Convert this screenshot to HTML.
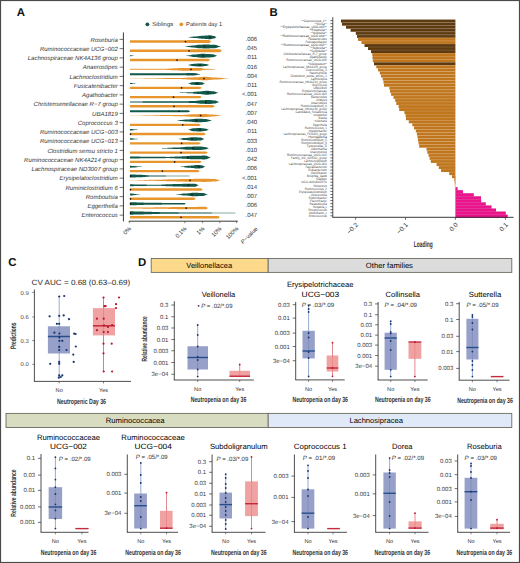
<!DOCTYPE html>
<html><head><meta charset="utf-8"><title>Figure</title>
<style>html,body{margin:0;padding:0;background:#fff;}body{width:520px;height:563px;overflow:hidden;font-family:"Liberation Sans",sans-serif;}svg{display:block;}</style>
</head><body>
<svg width="520" height="563" viewBox="0 0 520 563" font-family="Liberation Sans, sans-serif" text-rendering="geometricPrecision">
<rect x="0.00" y="0.00" width="520.00" height="563.00" fill="#ffffff"/>
<text x="16.80" y="15.90" font-size="11.4" text-anchor="start" font-weight="bold" fill="#111">A</text>
<circle cx="147.40" cy="24.30" r="1.9" fill="#12584a"/>
<text x="152.30" y="26.40" font-size="5.8" text-anchor="start" fill="#333" textLength="20.90" lengthAdjust="spacingAndGlyphs">Siblings</text>
<circle cx="181.30" cy="24.30" r="1.9" fill="#e8962c"/>
<text x="186.10" y="26.40" font-size="5.8" text-anchor="start" fill="#333" textLength="36.00" lengthAdjust="spacingAndGlyphs">Patients day 1</text>
<line x1="123.40" y1="32.50" x2="123.40" y2="221.40" stroke="#222" stroke-width="0.9"/>
<line x1="119.60" y1="39.40" x2="123.40" y2="39.40" stroke="#333" stroke-width="0.7"/>
<text x="117.80" y="41.50" font-size="6" text-anchor="end" font-style="italic" fill="#333">Roseburia</text>
<text x="257.20" y="40.90" font-size="6" text-anchor="end" fill="#333">.006</text>
<path d="M130.0,37.15 L131.0,37.15 L132.0,37.15 L133.0,37.15 L134.0,37.15 L135.0,37.15 L136.0,37.15 L137.0,37.15 L138.0,37.15 L139.1,37.15 L140.1,37.15 L141.1,37.15 L142.1,37.15 L143.1,37.15 L144.1,37.15 L145.1,37.15 L146.1,37.15 L147.1,37.15 L148.1,37.15 L149.1,37.15 L150.1,37.15 L151.1,37.15 L152.1,37.15 L153.1,37.15 L154.1,37.15 L155.1,37.15 L156.2,37.15 L157.2,37.15 L158.2,37.15 L159.2,37.15 L160.2,37.15 L161.2,37.15 L162.2,37.15 L163.2,37.15 L164.2,37.15 L165.2,37.15 L166.2,37.15 L167.2,37.15 L168.2,37.15 L169.2,37.15 L170.2,37.15 L171.2,37.15 L172.2,37.15 L173.2,37.15 L174.3,37.15 L175.3,37.15 L176.3,37.15 L177.3,37.15 L178.3,37.15 L179.3,37.15 L180.3,37.15 L181.3,37.15 L182.3,37.15 L183.3,37.15 L184.3,37.15 L185.3,37.15 L186.3,37.15 L187.3,37.15 L188.3,37.15 L189.3,37.08 L190.3,36.97 L191.4,36.82 L192.4,36.67 L193.4,36.55 L194.4,36.47 L195.4,36.45 L196.4,36.39 L197.4,36.30 L198.4,36.18 L199.4,36.05 L200.4,35.92 L201.4,35.82 L202.4,35.76 L203.4,35.74 L204.4,35.70 L205.4,35.61 L206.4,35.51 L207.4,35.40 L208.5,35.31 L209.5,35.26 L210.5,35.28 L211.5,35.46 L212.5,35.72 L213.5,35.92 L214.5,36.08 L215.5,36.79 L216.5,37.25 L216.5,37.25 L215.5,37.71 L214.5,38.42 L213.5,38.58 L212.5,38.78 L211.5,39.04 L210.5,39.22 L209.5,39.24 L208.5,39.19 L207.4,39.10 L206.4,38.99 L205.4,38.89 L204.4,38.80 L203.4,38.76 L202.4,38.74 L201.4,38.68 L200.4,38.58 L199.4,38.45 L198.4,38.32 L197.4,38.20 L196.4,38.11 L195.4,38.05 L194.4,38.03 L193.4,37.95 L192.4,37.83 L191.4,37.68 L190.3,37.53 L189.3,37.42 L188.3,37.35 L187.3,37.35 L186.3,37.35 L185.3,37.35 L184.3,37.35 L183.3,37.35 L182.3,37.35 L181.3,37.35 L180.3,37.35 L179.3,37.35 L178.3,37.35 L177.3,37.35 L176.3,37.35 L175.3,37.35 L174.3,37.35 L173.2,37.35 L172.2,37.35 L171.2,37.35 L170.2,37.35 L169.2,37.35 L168.2,37.35 L167.2,37.35 L166.2,37.35 L165.2,37.35 L164.2,37.35 L163.2,37.35 L162.2,37.35 L161.2,37.35 L160.2,37.35 L159.2,37.35 L158.2,37.35 L157.2,37.35 L156.2,37.35 L155.1,37.35 L154.1,37.35 L153.1,37.35 L152.1,37.35 L151.1,37.35 L150.1,37.35 L149.1,37.35 L148.1,37.35 L147.1,37.35 L146.1,37.35 L145.1,37.35 L144.1,37.35 L143.1,37.35 L142.1,37.35 L141.1,37.35 L140.1,37.35 L139.1,37.35 L138.0,37.35 L137.0,37.35 L136.0,37.35 L135.0,37.35 L134.0,37.35 L133.0,37.35 L132.0,37.35 L131.0,37.35 L130.0,37.35Z" fill="#12584a" opacity="1.0"/>
<path d="M130.0,40.35 L131.0,40.35 L132.0,40.35 L133.0,40.35 L134.0,40.35 L135.0,40.35 L136.0,40.35 L137.0,40.35 L138.0,40.35 L139.0,40.35 L140.0,40.35 L141.0,40.35 L142.0,40.35 L143.0,40.35 L144.0,40.35 L145.0,40.35 L146.0,40.35 L147.0,40.35 L148.0,40.35 L149.0,40.35 L150.0,40.35 L151.0,40.35 L152.0,40.35 L153.0,40.35 L154.0,40.35 L155.0,40.35 L156.0,40.35 L157.0,40.35 L158.0,40.35 L159.0,40.35 L160.0,40.35 L161.0,40.35 L162.0,40.35 L163.0,40.35 L164.0,40.35 L165.0,40.35 L166.0,40.35 L167.0,40.35 L168.0,40.35 L169.0,40.35 L170.0,40.35 L171.0,40.35 L172.0,40.35 L173.0,40.35 L174.0,40.35 L175.0,40.35 L176.0,40.35 L177.0,40.35 L178.0,40.35 L179.0,40.35 L180.0,40.35 L181.0,40.35 L182.0,40.35 L183.0,40.35 L184.0,40.35 L185.0,40.35 L186.0,40.27 L187.0,40.13 L188.0,40.05 L189.0,40.05 L190.0,40.05 L191.0,40.05 L192.0,40.05 L193.0,40.05 L194.0,40.05 L195.0,40.05 L196.0,40.05 L197.0,40.05 L198.0,40.05 L199.0,40.05 L200.0,40.05 L201.0,40.05 L202.0,40.05 L203.0,40.05 L204.0,40.05 L205.0,40.05 L206.0,40.05 L207.0,40.05 L208.0,40.05 L209.0,40.05 L210.0,40.65 L211.0,41.25 L211.0,41.85 L210.0,42.45 L209.0,43.05 L208.0,43.05 L207.0,43.05 L206.0,43.05 L205.0,43.05 L204.0,43.05 L203.0,43.05 L202.0,43.05 L201.0,43.05 L200.0,43.05 L199.0,43.05 L198.0,43.05 L197.0,43.05 L196.0,43.05 L195.0,43.05 L194.0,43.05 L193.0,43.05 L192.0,43.05 L191.0,43.05 L190.0,43.05 L189.0,43.05 L188.0,43.05 L187.0,42.97 L186.0,42.83 L185.0,42.75 L184.0,42.75 L183.0,42.75 L182.0,42.75 L181.0,42.75 L180.0,42.75 L179.0,42.75 L178.0,42.75 L177.0,42.75 L176.0,42.75 L175.0,42.75 L174.0,42.75 L173.0,42.75 L172.0,42.75 L171.0,42.75 L170.0,42.75 L169.0,42.75 L168.0,42.75 L167.0,42.75 L166.0,42.75 L165.0,42.75 L164.0,42.75 L163.0,42.75 L162.0,42.75 L161.0,42.75 L160.0,42.75 L159.0,42.75 L158.0,42.75 L157.0,42.75 L156.0,42.75 L155.0,42.75 L154.0,42.75 L153.0,42.75 L152.0,42.75 L151.0,42.75 L150.0,42.75 L149.0,42.75 L148.0,42.75 L147.0,42.75 L146.0,42.75 L145.0,42.75 L144.0,42.75 L143.0,42.75 L142.0,42.75 L141.0,42.75 L140.0,42.75 L139.0,42.75 L138.0,42.75 L137.0,42.75 L136.0,42.75 L135.0,42.75 L134.0,42.75 L133.0,42.75 L132.0,42.75 L131.0,42.75 L130.0,42.75Z" fill="#e8962c" opacity="1.0"/>
<circle cx="210.00" cy="37.25" r="0.85" fill="#111"/>
<circle cx="185.50" cy="41.55" r="0.85" fill="#111"/>
<line x1="119.60" y1="48.65" x2="123.40" y2="48.65" stroke="#333" stroke-width="0.7"/>
<text x="117.80" y="50.75" font-size="6" text-anchor="end" font-style="italic" fill="#333">Ruminococcaceae UCG−002</text>
<text x="257.20" y="50.15" font-size="6" text-anchor="end" fill="#333">.045</text>
<path d="M130.0,46.40 L131.0,46.40 L132.0,46.40 L133.0,46.40 L134.0,46.40 L135.0,46.40 L136.0,46.40 L137.0,46.40 L138.0,46.40 L139.0,46.40 L140.0,46.40 L141.0,46.40 L142.0,46.40 L143.0,46.40 L144.0,46.40 L145.0,46.40 L146.0,46.40 L147.0,46.40 L148.0,46.40 L149.0,46.40 L150.0,46.40 L151.0,46.40 L152.0,46.40 L153.0,46.40 L154.0,46.40 L155.0,46.40 L156.0,46.40 L157.0,46.40 L158.0,46.40 L159.0,46.40 L160.0,46.40 L161.0,46.40 L162.0,46.40 L163.0,46.40 L164.0,46.40 L165.0,46.40 L166.0,46.40 L167.0,46.40 L168.0,46.40 L169.0,46.40 L170.0,46.40 L171.0,46.40 L172.0,46.40 L173.0,46.40 L174.0,46.40 L175.0,46.40 L176.0,46.40 L177.0,46.40 L178.0,46.40 L179.0,46.40 L180.0,46.40 L181.0,46.40 L182.0,46.40 L183.0,46.40 L184.0,46.40 L185.0,46.40 L186.0,46.36 L187.0,46.24 L188.0,46.09 L189.0,45.91 L190.0,45.76 L191.0,45.64 L192.0,45.60 L193.0,45.56 L194.0,45.46 L195.0,45.32 L196.0,45.15 L197.0,44.98 L198.0,44.84 L199.0,44.74 L200.0,44.70 L201.0,44.68 L202.0,44.63 L203.0,44.57 L204.0,44.52 L205.0,44.50 L206.0,44.51 L207.0,44.53 L208.0,44.56 L209.0,44.61 L210.0,44.65 L211.0,44.69 L212.0,44.74 L213.0,44.77 L214.0,44.79 L215.0,44.80 L216.0,44.93 L217.0,45.24 L218.0,45.65 L219.0,46.06 L220.0,46.37 L221.0,46.50 L221.0,46.50 L220.0,46.63 L219.0,46.94 L218.0,47.35 L217.0,47.76 L216.0,48.07 L215.0,48.20 L214.0,48.21 L213.0,48.23 L212.0,48.26 L211.0,48.31 L210.0,48.35 L209.0,48.39 L208.0,48.44 L207.0,48.47 L206.0,48.49 L205.0,48.50 L204.0,48.48 L203.0,48.43 L202.0,48.37 L201.0,48.32 L200.0,48.30 L199.0,48.26 L198.0,48.16 L197.0,48.02 L196.0,47.85 L195.0,47.68 L194.0,47.54 L193.0,47.44 L192.0,47.40 L191.0,47.36 L190.0,47.24 L189.0,47.09 L188.0,46.91 L187.0,46.76 L186.0,46.64 L185.0,46.60 L184.0,46.60 L183.0,46.60 L182.0,46.60 L181.0,46.60 L180.0,46.60 L179.0,46.60 L178.0,46.60 L177.0,46.60 L176.0,46.60 L175.0,46.60 L174.0,46.60 L173.0,46.60 L172.0,46.60 L171.0,46.60 L170.0,46.60 L169.0,46.60 L168.0,46.60 L167.0,46.60 L166.0,46.60 L165.0,46.60 L164.0,46.60 L163.0,46.60 L162.0,46.60 L161.0,46.60 L160.0,46.60 L159.0,46.60 L158.0,46.60 L157.0,46.60 L156.0,46.60 L155.0,46.60 L154.0,46.60 L153.0,46.60 L152.0,46.60 L151.0,46.60 L150.0,46.60 L149.0,46.60 L148.0,46.60 L147.0,46.60 L146.0,46.60 L145.0,46.60 L144.0,46.60 L143.0,46.60 L142.0,46.60 L141.0,46.60 L140.0,46.60 L139.0,46.60 L138.0,46.60 L137.0,46.60 L136.0,46.60 L135.0,46.60 L134.0,46.60 L133.0,46.60 L132.0,46.60 L131.0,46.60 L130.0,46.60Z" fill="#12584a" opacity="1.0"/>
<path d="M130.0,49.60 L131.0,49.60 L132.0,49.60 L133.0,49.60 L134.0,49.60 L135.0,49.60 L136.0,49.60 L137.0,49.60 L138.0,49.60 L139.0,49.60 L140.1,49.60 L141.1,49.60 L142.1,49.60 L143.1,49.60 L144.1,49.60 L145.1,49.60 L146.1,49.60 L147.1,49.60 L148.1,49.60 L149.1,49.60 L150.1,49.60 L151.1,49.60 L152.1,49.60 L153.1,49.60 L154.1,49.60 L155.1,49.60 L156.1,49.60 L157.1,49.60 L158.2,49.60 L159.2,49.60 L160.2,49.60 L161.2,49.60 L162.2,49.60 L163.2,49.60 L164.2,49.60 L165.2,49.60 L166.2,49.60 L167.2,49.60 L168.2,49.60 L169.2,49.60 L170.2,49.60 L171.2,49.60 L172.2,49.60 L173.2,49.60 L174.2,49.60 L175.2,49.60 L176.3,49.60 L177.3,49.60 L178.3,49.60 L179.3,49.60 L180.3,49.60 L181.3,49.60 L182.3,49.60 L183.3,49.60 L184.3,49.60 L185.3,49.60 L186.3,49.60 L187.3,49.60 L188.3,49.60 L189.3,49.58 L190.3,49.38 L191.3,49.30 L192.3,49.30 L193.3,49.30 L194.4,49.30 L195.4,49.30 L196.4,49.30 L197.4,49.30 L198.4,49.30 L199.4,49.30 L200.4,49.30 L201.4,49.30 L202.4,49.30 L203.4,49.30 L204.4,49.30 L205.4,49.30 L206.4,49.30 L207.4,49.30 L208.4,49.30 L209.4,49.30 L210.4,49.30 L211.4,49.30 L212.5,49.30 L213.5,49.30 L214.5,49.30 L215.5,49.30 L216.5,49.30 L217.5,49.30 L218.5,49.30 L219.5,49.30 L220.5,49.61 L221.5,50.50 L221.5,51.10 L220.5,51.99 L219.5,52.30 L218.5,52.30 L217.5,52.30 L216.5,52.30 L215.5,52.30 L214.5,52.30 L213.5,52.30 L212.5,52.30 L211.4,52.30 L210.4,52.30 L209.4,52.30 L208.4,52.30 L207.4,52.30 L206.4,52.30 L205.4,52.30 L204.4,52.30 L203.4,52.30 L202.4,52.30 L201.4,52.30 L200.4,52.30 L199.4,52.30 L198.4,52.30 L197.4,52.30 L196.4,52.30 L195.4,52.30 L194.4,52.30 L193.3,52.30 L192.3,52.30 L191.3,52.30 L190.3,52.22 L189.3,52.02 L188.3,52.00 L187.3,52.00 L186.3,52.00 L185.3,52.00 L184.3,52.00 L183.3,52.00 L182.3,52.00 L181.3,52.00 L180.3,52.00 L179.3,52.00 L178.3,52.00 L177.3,52.00 L176.3,52.00 L175.2,52.00 L174.2,52.00 L173.2,52.00 L172.2,52.00 L171.2,52.00 L170.2,52.00 L169.2,52.00 L168.2,52.00 L167.2,52.00 L166.2,52.00 L165.2,52.00 L164.2,52.00 L163.2,52.00 L162.2,52.00 L161.2,52.00 L160.2,52.00 L159.2,52.00 L158.2,52.00 L157.1,52.00 L156.1,52.00 L155.1,52.00 L154.1,52.00 L153.1,52.00 L152.1,52.00 L151.1,52.00 L150.1,52.00 L149.1,52.00 L148.1,52.00 L147.1,52.00 L146.1,52.00 L145.1,52.00 L144.1,52.00 L143.1,52.00 L142.1,52.00 L141.1,52.00 L140.1,52.00 L139.0,52.00 L138.0,52.00 L137.0,52.00 L136.0,52.00 L135.0,52.00 L134.0,52.00 L133.0,52.00 L132.0,52.00 L131.0,52.00 L130.0,52.00Z" fill="#e8962c" opacity="1.0"/>
<circle cx="204.50" cy="46.50" r="0.85" fill="#111"/>
<circle cx="189.00" cy="50.80" r="0.85" fill="#111"/>
<line x1="119.60" y1="57.90" x2="123.40" y2="57.90" stroke="#333" stroke-width="0.7"/>
<text x="117.80" y="60.00" font-size="6" text-anchor="end" font-style="italic" fill="#333">Lachnospiraceae NK4A136 group</text>
<text x="257.20" y="59.40" font-size="6" text-anchor="end" fill="#333">.011</text>
<path d="M130.0,55.15 L131.0,55.23 L132.0,55.40 L133.0,55.57 L134.0,55.65 L135.0,55.65 L136.0,55.65 L137.0,55.65 L138.0,55.65 L139.0,55.65 L140.0,55.65 L141.0,55.65 L142.0,55.65 L143.0,55.65 L144.0,55.65 L145.0,55.65 L146.0,55.65 L147.0,55.65 L148.0,55.65 L149.0,55.65 L150.0,55.65 L151.0,55.65 L152.0,55.65 L153.0,55.65 L154.0,55.65 L155.0,55.65 L156.0,55.65 L157.0,55.65 L158.0,55.65 L159.0,55.65 L160.0,55.65 L161.0,55.65 L162.0,55.65 L163.0,55.65 L164.0,55.65 L165.0,55.65 L166.0,55.65 L167.0,55.65 L168.0,55.65 L169.0,55.65 L170.0,55.65 L171.0,55.65 L172.0,55.65 L173.0,55.65 L174.0,55.65 L175.0,55.65 L176.0,55.65 L177.0,55.65 L178.0,55.65 L179.0,55.65 L180.0,55.65 L181.0,55.65 L182.0,55.65 L183.0,55.65 L184.0,55.65 L185.0,55.65 L186.0,55.65 L187.0,55.61 L188.0,55.50 L189.0,55.34 L190.0,55.15 L191.0,54.95 L192.0,54.76 L193.0,54.60 L194.0,54.49 L195.0,54.45 L196.0,54.41 L197.0,54.31 L198.0,54.17 L199.0,54.03 L200.0,53.89 L201.0,53.79 L202.0,53.75 L203.0,53.76 L204.0,53.79 L205.0,53.84 L206.0,53.89 L207.0,53.95 L208.0,54.01 L209.0,54.06 L210.0,54.11 L211.0,54.14 L212.0,54.15 L213.0,54.27 L214.0,54.56 L215.0,54.95 L216.0,55.34 L217.0,55.63 L218.0,55.75 L218.0,55.75 L217.0,55.87 L216.0,56.16 L215.0,56.55 L214.0,56.94 L213.0,57.23 L212.0,57.35 L211.0,57.36 L210.0,57.39 L209.0,57.44 L208.0,57.49 L207.0,57.55 L206.0,57.61 L205.0,57.66 L204.0,57.71 L203.0,57.74 L202.0,57.75 L201.0,57.71 L200.0,57.61 L199.0,57.47 L198.0,57.33 L197.0,57.19 L196.0,57.09 L195.0,57.05 L194.0,57.01 L193.0,56.90 L192.0,56.74 L191.0,56.55 L190.0,56.35 L189.0,56.16 L188.0,56.00 L187.0,55.89 L186.0,55.85 L185.0,55.85 L184.0,55.85 L183.0,55.85 L182.0,55.85 L181.0,55.85 L180.0,55.85 L179.0,55.85 L178.0,55.85 L177.0,55.85 L176.0,55.85 L175.0,55.85 L174.0,55.85 L173.0,55.85 L172.0,55.85 L171.0,55.85 L170.0,55.85 L169.0,55.85 L168.0,55.85 L167.0,55.85 L166.0,55.85 L165.0,55.85 L164.0,55.85 L163.0,55.85 L162.0,55.85 L161.0,55.85 L160.0,55.85 L159.0,55.85 L158.0,55.85 L157.0,55.85 L156.0,55.85 L155.0,55.85 L154.0,55.85 L153.0,55.85 L152.0,55.85 L151.0,55.85 L150.0,55.85 L149.0,55.85 L148.0,55.85 L147.0,55.85 L146.0,55.85 L145.0,55.85 L144.0,55.85 L143.0,55.85 L142.0,55.85 L141.0,55.85 L140.0,55.85 L139.0,55.85 L138.0,55.85 L137.0,55.85 L136.0,55.85 L135.0,55.85 L134.0,55.85 L133.0,55.93 L132.0,56.10 L131.0,56.27 L130.0,56.35Z" fill="#12584a" opacity="1.0"/>
<path d="M130.0,58.85 L131.0,58.85 L132.0,58.85 L133.0,58.85 L134.0,58.85 L135.0,58.85 L136.0,58.85 L137.0,58.85 L138.0,58.85 L139.0,58.85 L140.0,58.85 L141.0,58.85 L142.0,58.85 L143.0,58.85 L144.0,58.85 L145.0,58.85 L146.0,58.85 L147.0,58.85 L148.0,58.85 L149.0,58.85 L150.0,58.85 L151.0,58.85 L152.0,58.85 L153.0,58.85 L154.0,58.85 L155.0,58.85 L156.0,58.85 L157.0,58.85 L158.0,58.85 L159.0,58.85 L160.0,58.85 L161.0,58.85 L162.0,58.85 L163.0,58.85 L164.0,58.85 L165.0,58.85 L166.0,58.85 L167.0,58.85 L168.0,58.85 L169.0,58.85 L170.0,58.85 L171.0,58.85 L172.0,58.85 L173.0,58.85 L174.0,58.85 L175.0,58.85 L176.0,58.85 L177.0,58.85 L178.0,58.85 L179.0,58.85 L180.0,58.85 L181.0,58.85 L182.0,58.85 L183.0,58.85 L184.0,58.85 L185.0,58.85 L186.0,58.85 L187.0,58.85 L188.0,58.85 L189.0,58.85 L190.0,58.85 L191.0,58.85 L192.0,58.85 L193.0,58.85 L194.0,58.85 L195.0,58.85 L196.0,58.85 L197.0,58.85 L198.0,58.85 L199.0,58.85 L200.0,58.85 L201.0,58.85 L202.0,58.85 L203.0,58.85 L204.0,58.85 L205.0,58.85 L206.0,58.85 L207.0,58.85 L208.0,58.85 L209.0,59.30 L210.0,59.75 L210.0,60.35 L209.0,60.80 L208.0,61.25 L207.0,61.25 L206.0,61.25 L205.0,61.25 L204.0,61.25 L203.0,61.25 L202.0,61.25 L201.0,61.25 L200.0,61.25 L199.0,61.25 L198.0,61.25 L197.0,61.25 L196.0,61.25 L195.0,61.25 L194.0,61.25 L193.0,61.25 L192.0,61.25 L191.0,61.25 L190.0,61.25 L189.0,61.25 L188.0,61.25 L187.0,61.25 L186.0,61.25 L185.0,61.25 L184.0,61.25 L183.0,61.25 L182.0,61.25 L181.0,61.25 L180.0,61.25 L179.0,61.25 L178.0,61.25 L177.0,61.25 L176.0,61.25 L175.0,61.25 L174.0,61.25 L173.0,61.25 L172.0,61.25 L171.0,61.25 L170.0,61.25 L169.0,61.25 L168.0,61.25 L167.0,61.25 L166.0,61.25 L165.0,61.25 L164.0,61.25 L163.0,61.25 L162.0,61.25 L161.0,61.25 L160.0,61.25 L159.0,61.25 L158.0,61.25 L157.0,61.25 L156.0,61.25 L155.0,61.25 L154.0,61.25 L153.0,61.25 L152.0,61.25 L151.0,61.25 L150.0,61.25 L149.0,61.25 L148.0,61.25 L147.0,61.25 L146.0,61.25 L145.0,61.25 L144.0,61.25 L143.0,61.25 L142.0,61.25 L141.0,61.25 L140.0,61.25 L139.0,61.25 L138.0,61.25 L137.0,61.25 L136.0,61.25 L135.0,61.25 L134.0,61.25 L133.0,61.25 L132.0,61.25 L131.0,61.25 L130.0,61.25Z" fill="#e8962c" opacity="1.0"/>
<circle cx="203.00" cy="55.75" r="0.85" fill="#111"/>
<circle cx="177.00" cy="60.05" r="0.85" fill="#111"/>
<line x1="119.60" y1="67.15" x2="123.40" y2="67.15" stroke="#333" stroke-width="0.7"/>
<text x="117.80" y="69.25" font-size="6" text-anchor="end" font-style="italic" fill="#333">Anaerostipes</text>
<text x="257.20" y="68.65" font-size="6" text-anchor="end" fill="#333">.016</text>
<path d="M130.0,64.90 L131.0,64.90 L132.0,64.90 L133.0,64.90 L134.0,64.90 L135.0,64.90 L136.0,64.90 L137.0,64.90 L138.0,64.90 L139.0,64.90 L140.0,64.90 L141.0,64.90 L142.0,64.90 L143.0,64.90 L144.0,64.90 L145.0,64.90 L146.0,64.90 L147.0,64.90 L148.0,64.90 L149.0,64.90 L150.0,64.90 L151.0,64.90 L152.0,64.90 L153.0,64.90 L154.0,64.90 L155.0,64.90 L156.0,64.90 L157.0,64.90 L158.0,64.90 L159.0,64.90 L160.0,64.90 L161.0,64.90 L162.0,64.90 L163.0,64.90 L164.0,64.90 L165.0,64.90 L166.0,64.90 L167.0,64.90 L168.0,64.90 L169.0,64.90 L170.0,64.90 L171.0,64.90 L172.0,64.90 L173.0,64.90 L174.0,64.90 L175.0,64.90 L176.0,64.90 L177.0,64.90 L178.0,64.90 L179.0,64.90 L180.0,64.90 L181.0,64.90 L182.0,64.90 L183.0,64.90 L184.0,64.90 L185.0,64.90 L186.0,64.90 L187.0,64.90 L188.0,64.90 L189.0,64.82 L190.0,64.61 L191.0,64.35 L192.0,64.09 L193.0,63.88 L194.0,63.80 L195.0,63.77 L196.0,63.70 L197.0,63.60 L198.0,63.50 L199.0,63.43 L200.0,63.40 L201.0,63.45 L202.0,63.58 L203.0,63.72 L204.0,63.85 L205.0,63.90 L206.0,64.01 L207.0,64.29 L208.0,64.61 L209.0,64.89 L210.0,65.00 L210.0,65.00 L209.0,65.11 L208.0,65.39 L207.0,65.71 L206.0,65.99 L205.0,66.10 L204.0,66.15 L203.0,66.28 L202.0,66.42 L201.0,66.55 L200.0,66.60 L199.0,66.57 L198.0,66.50 L197.0,66.40 L196.0,66.30 L195.0,66.23 L194.0,66.20 L193.0,66.12 L192.0,65.91 L191.0,65.65 L190.0,65.39 L189.0,65.18 L188.0,65.10 L187.0,65.10 L186.0,65.10 L185.0,65.10 L184.0,65.10 L183.0,65.10 L182.0,65.10 L181.0,65.10 L180.0,65.10 L179.0,65.10 L178.0,65.10 L177.0,65.10 L176.0,65.10 L175.0,65.10 L174.0,65.10 L173.0,65.10 L172.0,65.10 L171.0,65.10 L170.0,65.10 L169.0,65.10 L168.0,65.10 L167.0,65.10 L166.0,65.10 L165.0,65.10 L164.0,65.10 L163.0,65.10 L162.0,65.10 L161.0,65.10 L160.0,65.10 L159.0,65.10 L158.0,65.10 L157.0,65.10 L156.0,65.10 L155.0,65.10 L154.0,65.10 L153.0,65.10 L152.0,65.10 L151.0,65.10 L150.0,65.10 L149.0,65.10 L148.0,65.10 L147.0,65.10 L146.0,65.10 L145.0,65.10 L144.0,65.10 L143.0,65.10 L142.0,65.10 L141.0,65.10 L140.0,65.10 L139.0,65.10 L138.0,65.10 L137.0,65.10 L136.0,65.10 L135.0,65.10 L134.0,65.10 L133.0,65.10 L132.0,65.10 L131.0,65.10 L130.0,65.10Z" fill="#12584a" opacity="1.0"/>
<path d="M130.0,68.80 L131.0,68.80 L132.0,68.80 L133.0,68.80 L134.0,68.80 L135.0,68.80 L136.0,68.80 L137.0,68.80 L138.0,68.80 L139.0,68.80 L140.0,68.80 L141.0,68.80 L142.0,68.80 L143.0,68.80 L144.0,68.80 L145.0,68.80 L146.0,68.80 L147.0,68.80 L148.0,68.80 L149.0,68.80 L150.0,68.80 L151.0,68.80 L152.0,68.80 L153.0,68.80 L154.0,68.80 L155.0,68.80 L156.0,68.80 L157.0,68.80 L158.0,68.80 L159.0,68.80 L160.0,68.80 L161.0,68.80 L162.0,68.80 L163.0,68.80 L164.0,68.80 L165.0,68.80 L166.0,68.78 L167.0,68.72 L168.0,68.64 L169.0,68.56 L170.0,68.48 L171.0,68.42 L172.0,68.40 L173.0,68.39 L174.0,68.37 L175.0,68.33 L176.0,68.29 L177.0,68.24 L178.0,68.18 L179.0,68.12 L180.0,68.06 L181.0,68.01 L182.0,67.97 L183.0,67.93 L184.0,67.91 L185.0,67.90 L186.0,67.90 L187.0,67.90 L188.0,67.90 L189.0,67.90 L190.0,67.90 L191.0,67.90 L192.0,67.90 L193.0,67.90 L194.0,67.90 L195.0,67.90 L196.0,67.90 L197.0,67.90 L198.0,67.90 L199.0,67.90 L200.0,67.90 L201.0,68.03 L202.0,68.30 L203.0,68.58 L204.0,68.70 L205.0,68.71 L206.0,68.73 L207.0,68.76 L208.0,68.81 L209.0,68.85 L210.0,68.89 L211.0,68.94 L212.0,68.97 L213.0,68.99 L214.0,69.00 L215.0,69.15 L216.0,69.30 L216.0,69.30 L215.0,69.45 L214.0,69.60 L213.0,69.61 L212.0,69.63 L211.0,69.66 L210.0,69.71 L209.0,69.75 L208.0,69.79 L207.0,69.84 L206.0,69.87 L205.0,69.89 L204.0,69.90 L203.0,70.03 L202.0,70.30 L201.0,70.58 L200.0,70.70 L199.0,70.70 L198.0,70.70 L197.0,70.70 L196.0,70.70 L195.0,70.70 L194.0,70.70 L193.0,70.70 L192.0,70.70 L191.0,70.70 L190.0,70.70 L189.0,70.70 L188.0,70.70 L187.0,70.70 L186.0,70.70 L185.0,70.70 L184.0,70.69 L183.0,70.67 L182.0,70.63 L181.0,70.59 L180.0,70.54 L179.0,70.48 L178.0,70.42 L177.0,70.36 L176.0,70.31 L175.0,70.27 L174.0,70.23 L173.0,70.21 L172.0,70.20 L171.0,70.18 L170.0,70.12 L169.0,70.04 L168.0,69.96 L167.0,69.88 L166.0,69.82 L165.0,69.80 L164.0,69.80 L163.0,69.80 L162.0,69.80 L161.0,69.80 L160.0,69.80 L159.0,69.80 L158.0,69.80 L157.0,69.80 L156.0,69.80 L155.0,69.80 L154.0,69.80 L153.0,69.80 L152.0,69.80 L151.0,69.80 L150.0,69.80 L149.0,69.80 L148.0,69.80 L147.0,69.80 L146.0,69.80 L145.0,69.80 L144.0,69.80 L143.0,69.80 L142.0,69.80 L141.0,69.80 L140.0,69.80 L139.0,69.80 L138.0,69.80 L137.0,69.80 L136.0,69.80 L135.0,69.80 L134.0,69.80 L133.0,69.80 L132.0,69.80 L131.0,69.80 L130.0,69.80Z" fill="#e8962c" opacity="1.0"/>
<circle cx="200.00" cy="65.00" r="0.85" fill="#111"/>
<circle cx="191.00" cy="69.30" r="0.85" fill="#111"/>
<line x1="119.60" y1="76.40" x2="123.40" y2="76.40" stroke="#333" stroke-width="0.7"/>
<text x="117.80" y="78.50" font-size="6" text-anchor="end" font-style="italic" fill="#333">Lachnoclostridium</text>
<text x="257.20" y="77.90" font-size="6" text-anchor="end" fill="#333">.004</text>
<path d="M130.0,73.15 L131.0,73.15 L132.0,73.15 L133.0,73.15 L134.0,73.16 L135.0,73.16 L136.0,73.17 L137.0,73.17 L138.0,73.18 L139.0,73.18 L140.0,73.19 L141.0,73.20 L142.0,73.20 L143.0,73.21 L144.0,73.22 L145.0,73.22 L146.0,73.23 L147.0,73.24 L148.0,73.25 L149.0,73.25 L150.0,73.26 L151.0,73.27 L152.0,73.27 L153.0,73.28 L154.0,73.28 L155.0,73.29 L156.0,73.29 L157.0,73.30 L158.0,73.30 L159.0,73.30 L160.0,73.30 L161.0,73.30 L162.0,73.30 L163.0,73.30 L164.0,73.29 L165.0,73.29 L166.0,73.28 L167.0,73.28 L168.0,73.27 L169.0,73.27 L170.0,73.26 L171.0,73.25 L172.0,73.24 L173.0,73.23 L174.0,73.23 L175.0,73.22 L176.0,73.21 L177.0,73.20 L178.0,73.19 L179.0,73.18 L180.0,73.17 L181.0,73.17 L182.0,73.16 L183.0,73.15 L184.0,73.14 L185.0,73.13 L186.0,73.13 L187.0,73.12 L188.0,73.12 L189.0,73.11 L190.0,73.11 L191.0,73.10 L192.0,73.10 L193.0,73.10 L194.0,73.10 L195.0,73.17 L196.0,73.35 L197.0,73.58 L198.0,73.80 L199.0,73.98 L200.0,74.05 L200.0,74.45 L199.0,74.52 L198.0,74.70 L197.0,74.92 L196.0,75.15 L195.0,75.33 L194.0,75.40 L193.0,75.40 L192.0,75.40 L191.0,75.40 L190.0,75.39 L189.0,75.39 L188.0,75.38 L187.0,75.38 L186.0,75.37 L185.0,75.37 L184.0,75.36 L183.0,75.35 L182.0,75.34 L181.0,75.33 L180.0,75.33 L179.0,75.32 L178.0,75.31 L177.0,75.30 L176.0,75.29 L175.0,75.28 L174.0,75.27 L173.0,75.27 L172.0,75.26 L171.0,75.25 L170.0,75.24 L169.0,75.23 L168.0,75.23 L167.0,75.22 L166.0,75.22 L165.0,75.21 L164.0,75.21 L163.0,75.20 L162.0,75.20 L161.0,75.20 L160.0,75.20 L159.0,75.20 L158.0,75.20 L157.0,75.20 L156.0,75.21 L155.0,75.21 L154.0,75.22 L153.0,75.22 L152.0,75.23 L151.0,75.23 L150.0,75.24 L149.0,75.25 L148.0,75.25 L147.0,75.26 L146.0,75.27 L145.0,75.28 L144.0,75.28 L143.0,75.29 L142.0,75.30 L141.0,75.30 L140.0,75.31 L139.0,75.32 L138.0,75.32 L137.0,75.33 L136.0,75.33 L135.0,75.34 L134.0,75.34 L133.0,75.35 L132.0,75.35 L131.0,75.35 L130.0,75.35Z" fill="#12584a" opacity="1.0"/>
<path d="M130.0,78.45 L131.0,78.45 L132.0,78.45 L133.0,78.45 L134.0,78.44 L135.0,78.44 L136.0,78.43 L137.0,78.43 L138.0,78.42 L139.0,78.41 L140.0,78.41 L141.0,78.40 L142.0,78.39 L143.0,78.38 L144.0,78.37 L145.0,78.36 L146.0,78.35 L147.0,78.34 L148.0,78.32 L149.0,78.31 L150.0,78.30 L151.0,78.29 L152.0,78.27 L153.0,78.26 L154.0,78.25 L155.0,78.24 L156.0,78.23 L157.0,78.21 L158.0,78.20 L159.0,78.19 L160.0,78.18 L161.0,78.16 L162.0,78.15 L163.0,78.14 L164.0,78.13 L165.0,78.12 L166.0,78.11 L167.0,78.10 L168.0,78.09 L169.0,78.09 L170.0,78.08 L171.0,78.07 L172.0,78.07 L173.0,78.06 L174.0,78.06 L175.0,78.05 L176.0,78.05 L177.0,78.05 L178.0,78.05 L179.0,78.04 L180.0,78.02 L181.0,77.99 L182.0,77.95 L183.0,77.90 L184.0,77.85 L185.0,77.79 L186.0,77.73 L187.0,77.67 L188.0,77.61 L189.0,77.55 L190.0,77.50 L191.0,77.45 L192.0,77.41 L193.0,77.38 L194.0,77.36 L195.0,77.35 L196.0,77.33 L197.0,77.29 L198.0,77.22 L199.0,77.14 L200.0,77.05 L201.0,76.96 L202.0,76.88 L203.0,76.81 L204.0,76.77 L205.0,76.75 L206.0,76.77 L207.0,76.83 L208.0,76.92 L209.0,77.03 L210.0,77.15 L211.0,77.27 L212.0,77.38 L213.0,77.47 L214.0,77.53 L215.0,77.55 L216.0,77.56 L217.0,77.59 L218.0,77.64 L219.0,77.71 L220.0,77.78 L221.0,77.87 L222.0,77.96 L223.0,78.05 L224.0,78.14 L225.0,78.23 L226.0,78.32 L227.0,78.39 L228.0,78.46 L229.0,78.51 L230.0,78.54 L231.0,78.55 L231.0,78.55 L230.0,78.56 L229.0,78.59 L228.0,78.64 L227.0,78.71 L226.0,78.78 L225.0,78.87 L224.0,78.96 L223.0,79.05 L222.0,79.14 L221.0,79.23 L220.0,79.32 L219.0,79.39 L218.0,79.46 L217.0,79.51 L216.0,79.54 L215.0,79.55 L214.0,79.57 L213.0,79.63 L212.0,79.72 L211.0,79.83 L210.0,79.95 L209.0,80.07 L208.0,80.18 L207.0,80.27 L206.0,80.33 L205.0,80.35 L204.0,80.33 L203.0,80.29 L202.0,80.22 L201.0,80.14 L200.0,80.05 L199.0,79.96 L198.0,79.88 L197.0,79.81 L196.0,79.77 L195.0,79.75 L194.0,79.74 L193.0,79.72 L192.0,79.69 L191.0,79.65 L190.0,79.60 L189.0,79.55 L188.0,79.49 L187.0,79.43 L186.0,79.37 L185.0,79.31 L184.0,79.25 L183.0,79.20 L182.0,79.15 L181.0,79.11 L180.0,79.08 L179.0,79.06 L178.0,79.05 L177.0,79.05 L176.0,79.05 L175.0,79.05 L174.0,79.04 L173.0,79.04 L172.0,79.03 L171.0,79.03 L170.0,79.02 L169.0,79.01 L168.0,79.01 L167.0,79.00 L166.0,78.99 L165.0,78.98 L164.0,78.97 L163.0,78.96 L162.0,78.95 L161.0,78.94 L160.0,78.92 L159.0,78.91 L158.0,78.90 L157.0,78.89 L156.0,78.87 L155.0,78.86 L154.0,78.85 L153.0,78.84 L152.0,78.83 L151.0,78.81 L150.0,78.80 L149.0,78.79 L148.0,78.78 L147.0,78.76 L146.0,78.75 L145.0,78.74 L144.0,78.73 L143.0,78.72 L142.0,78.71 L141.0,78.70 L140.0,78.69 L139.0,78.69 L138.0,78.68 L137.0,78.67 L136.0,78.67 L135.0,78.66 L134.0,78.66 L133.0,78.65 L132.0,78.65 L131.0,78.65 L130.0,78.65Z" fill="#e8962c" opacity="1.0"/>
<circle cx="204.00" cy="78.55" r="0.85" fill="#111"/>
<line x1="119.60" y1="85.65" x2="123.40" y2="85.65" stroke="#333" stroke-width="0.7"/>
<text x="117.80" y="87.75" font-size="6" text-anchor="end" font-style="italic" fill="#333">Fusicatenibacter</text>
<text x="257.20" y="87.15" font-size="6" text-anchor="end" fill="#333">.011</text>
<path d="M130.0,82.95 L131.0,82.98 L132.0,83.07 L133.0,83.17 L134.0,83.28 L135.0,83.37 L136.0,83.40 L137.0,83.40 L138.0,83.40 L139.0,83.40 L140.0,83.40 L141.0,83.40 L142.0,83.40 L143.0,83.40 L144.0,83.40 L145.0,83.40 L146.0,83.40 L147.0,83.40 L148.0,83.40 L149.0,83.40 L150.0,83.40 L151.0,83.40 L152.0,83.40 L153.0,83.40 L154.0,83.40 L155.0,83.40 L156.0,83.40 L157.0,83.40 L158.0,83.40 L159.0,83.40 L160.0,83.40 L161.0,83.40 L162.0,83.40 L163.0,83.40 L164.0,83.40 L165.0,83.40 L166.0,83.40 L167.0,83.40 L168.0,83.40 L169.0,83.40 L170.0,83.40 L171.0,83.40 L172.0,83.40 L173.0,83.40 L174.0,83.40 L175.0,83.40 L176.0,83.40 L177.0,83.40 L178.0,83.40 L179.0,83.40 L180.0,83.40 L181.0,83.40 L182.0,83.40 L183.0,83.40 L184.0,83.40 L185.0,83.40 L186.0,83.40 L187.0,83.40 L188.0,83.40 L189.0,83.28 L190.0,82.98 L191.0,82.62 L192.0,82.32 L193.0,82.20 L194.0,82.17 L195.0,82.09 L196.0,82.01 L197.0,81.93 L198.0,81.90 L199.0,81.96 L200.0,82.10 L201.0,82.24 L202.0,82.30 L203.0,82.61 L204.0,83.19 L205.0,83.50 L205.0,83.50 L204.0,83.81 L203.0,84.39 L202.0,84.70 L201.0,84.76 L200.0,84.90 L199.0,85.04 L198.0,85.10 L197.0,85.07 L196.0,84.99 L195.0,84.91 L194.0,84.83 L193.0,84.80 L192.0,84.68 L191.0,84.38 L190.0,84.02 L189.0,83.72 L188.0,83.60 L187.0,83.60 L186.0,83.60 L185.0,83.60 L184.0,83.60 L183.0,83.60 L182.0,83.60 L181.0,83.60 L180.0,83.60 L179.0,83.60 L178.0,83.60 L177.0,83.60 L176.0,83.60 L175.0,83.60 L174.0,83.60 L173.0,83.60 L172.0,83.60 L171.0,83.60 L170.0,83.60 L169.0,83.60 L168.0,83.60 L167.0,83.60 L166.0,83.60 L165.0,83.60 L164.0,83.60 L163.0,83.60 L162.0,83.60 L161.0,83.60 L160.0,83.60 L159.0,83.60 L158.0,83.60 L157.0,83.60 L156.0,83.60 L155.0,83.60 L154.0,83.60 L153.0,83.60 L152.0,83.60 L151.0,83.60 L150.0,83.60 L149.0,83.60 L148.0,83.60 L147.0,83.60 L146.0,83.60 L145.0,83.60 L144.0,83.60 L143.0,83.60 L142.0,83.60 L141.0,83.60 L140.0,83.60 L139.0,83.60 L138.0,83.60 L137.0,83.60 L136.0,83.60 L135.0,83.63 L134.0,83.72 L133.0,83.83 L132.0,83.93 L131.0,84.02 L130.0,84.05Z" fill="#12584a" opacity="1.0"/>
<path d="M130.0,86.70 L131.0,86.70 L132.0,86.70 L133.0,86.70 L134.0,86.70 L135.0,86.70 L136.0,86.70 L137.0,86.70 L138.1,86.70 L139.1,86.70 L140.1,86.70 L141.1,86.70 L142.1,86.70 L143.1,86.70 L144.1,86.70 L145.1,86.70 L146.1,86.70 L147.1,86.70 L148.1,86.70 L149.1,86.70 L150.1,86.70 L151.1,86.70 L152.2,86.70 L153.2,86.70 L154.2,86.70 L155.2,86.70 L156.2,86.70 L157.2,86.70 L158.2,86.70 L159.2,86.70 L160.2,86.70 L161.2,86.70 L162.2,86.70 L163.2,86.70 L164.2,86.70 L165.2,86.70 L166.3,86.70 L167.3,86.70 L168.3,86.70 L169.3,86.70 L170.3,86.70 L171.3,86.70 L172.3,86.70 L173.3,86.70 L174.3,86.70 L175.3,86.70 L176.3,86.70 L177.3,86.70 L178.3,86.70 L179.3,86.70 L180.4,86.70 L181.4,86.70 L182.4,86.70 L183.4,86.70 L184.4,86.70 L185.4,86.70 L186.4,86.70 L187.4,86.70 L188.4,86.70 L189.4,86.70 L190.4,86.70 L191.4,86.70 L192.4,86.70 L193.4,86.70 L194.5,86.70 L195.5,86.70 L196.5,86.70 L197.5,86.70 L198.5,86.70 L199.5,86.70 L200.5,86.90 L201.5,87.50 L201.5,88.10 L200.5,88.70 L199.5,88.90 L198.5,88.90 L197.5,88.90 L196.5,88.90 L195.5,88.90 L194.5,88.90 L193.4,88.90 L192.4,88.90 L191.4,88.90 L190.4,88.90 L189.4,88.90 L188.4,88.90 L187.4,88.90 L186.4,88.90 L185.4,88.90 L184.4,88.90 L183.4,88.90 L182.4,88.90 L181.4,88.90 L180.4,88.90 L179.3,88.90 L178.3,88.90 L177.3,88.90 L176.3,88.90 L175.3,88.90 L174.3,88.90 L173.3,88.90 L172.3,88.90 L171.3,88.90 L170.3,88.90 L169.3,88.90 L168.3,88.90 L167.3,88.90 L166.3,88.90 L165.2,88.90 L164.2,88.90 L163.2,88.90 L162.2,88.90 L161.2,88.90 L160.2,88.90 L159.2,88.90 L158.2,88.90 L157.2,88.90 L156.2,88.90 L155.2,88.90 L154.2,88.90 L153.2,88.90 L152.2,88.90 L151.1,88.90 L150.1,88.90 L149.1,88.90 L148.1,88.90 L147.1,88.90 L146.1,88.90 L145.1,88.90 L144.1,88.90 L143.1,88.90 L142.1,88.90 L141.1,88.90 L140.1,88.90 L139.1,88.90 L138.1,88.90 L137.0,88.90 L136.0,88.90 L135.0,88.90 L134.0,88.90 L133.0,88.90 L132.0,88.90 L131.0,88.90 L130.0,88.90Z" fill="#e8962c" opacity="1.0"/>
<circle cx="197.00" cy="83.50" r="0.85" fill="#111"/>
<circle cx="181.60" cy="87.80" r="0.85" fill="#111"/>
<line x1="119.60" y1="94.90" x2="123.40" y2="94.90" stroke="#333" stroke-width="0.7"/>
<text x="117.80" y="97.00" font-size="6" text-anchor="end" font-style="italic" fill="#333">Agathobacter</text>
<text x="257.20" y="96.40" font-size="6" text-anchor="end" fill="#333">&lt;.001</text>
<path d="M130.0,92.65 L131.0,92.65 L132.0,92.65 L133.0,92.65 L134.0,92.65 L135.0,92.65 L136.0,92.65 L137.0,92.65 L138.0,92.65 L139.1,92.65 L140.1,92.65 L141.1,92.65 L142.1,92.65 L143.1,92.65 L144.1,92.65 L145.1,92.65 L146.1,92.65 L147.1,92.65 L148.1,92.65 L149.1,92.65 L150.1,92.65 L151.1,92.65 L152.1,92.65 L153.1,92.65 L154.1,92.65 L155.1,92.65 L156.1,92.65 L157.2,92.65 L158.2,92.65 L159.2,92.65 L160.2,92.65 L161.2,92.65 L162.2,92.65 L163.2,92.65 L164.2,92.65 L165.2,92.65 L166.2,92.65 L167.2,92.65 L168.2,92.65 L169.2,92.65 L170.2,92.65 L171.2,92.65 L172.2,92.65 L173.2,92.65 L174.2,92.65 L175.3,92.65 L176.3,92.65 L177.3,92.65 L178.3,92.65 L179.3,92.64 L180.3,92.62 L181.3,92.59 L182.3,92.55 L183.3,92.51 L184.3,92.46 L185.3,92.42 L186.3,92.38 L187.3,92.34 L188.3,92.32 L189.3,92.30 L190.3,92.30 L191.3,92.24 L192.4,92.14 L193.4,92.01 L194.4,91.87 L195.4,91.74 L196.4,91.63 L197.4,91.56 L198.4,91.55 L199.4,91.50 L200.4,91.41 L201.4,91.29 L202.4,91.16 L203.4,91.03 L204.4,90.91 L205.4,90.81 L206.4,90.76 L207.4,90.76 L208.4,90.82 L209.4,90.92 L210.5,91.04 L211.5,91.17 L212.5,91.28 L213.5,91.34 L214.5,91.39 L215.5,91.71 L216.5,92.16 L217.5,92.57 L218.5,92.75 L218.5,92.75 L217.5,92.93 L216.5,93.34 L215.5,93.79 L214.5,94.11 L213.5,94.16 L212.5,94.22 L211.5,94.33 L210.5,94.46 L209.4,94.58 L208.4,94.68 L207.4,94.74 L206.4,94.74 L205.4,94.69 L204.4,94.59 L203.4,94.47 L202.4,94.34 L201.4,94.21 L200.4,94.09 L199.4,94.00 L198.4,93.95 L197.4,93.94 L196.4,93.87 L195.4,93.76 L194.4,93.63 L193.4,93.49 L192.4,93.36 L191.3,93.26 L190.3,93.20 L189.3,93.20 L188.3,93.18 L187.3,93.16 L186.3,93.12 L185.3,93.08 L184.3,93.04 L183.3,92.99 L182.3,92.95 L181.3,92.91 L180.3,92.88 L179.3,92.86 L178.3,92.85 L177.3,92.85 L176.3,92.85 L175.3,92.85 L174.2,92.85 L173.2,92.85 L172.2,92.85 L171.2,92.85 L170.2,92.85 L169.2,92.85 L168.2,92.85 L167.2,92.85 L166.2,92.85 L165.2,92.85 L164.2,92.85 L163.2,92.85 L162.2,92.85 L161.2,92.85 L160.2,92.85 L159.2,92.85 L158.2,92.85 L157.2,92.85 L156.1,92.85 L155.1,92.85 L154.1,92.85 L153.1,92.85 L152.1,92.85 L151.1,92.85 L150.1,92.85 L149.1,92.85 L148.1,92.85 L147.1,92.85 L146.1,92.85 L145.1,92.85 L144.1,92.85 L143.1,92.85 L142.1,92.85 L141.1,92.85 L140.1,92.85 L139.1,92.85 L138.0,92.85 L137.0,92.85 L136.0,92.85 L135.0,92.85 L134.0,92.85 L133.0,92.85 L132.0,92.85 L131.0,92.85 L130.0,92.85Z" fill="#12584a" opacity="1.0"/>
<path d="M130.0,95.95 L131.0,95.95 L132.0,95.95 L133.0,95.95 L134.0,95.95 L135.0,95.95 L136.0,95.95 L137.0,95.95 L138.1,95.95 L139.1,95.95 L140.1,95.95 L141.1,95.95 L142.1,95.95 L143.1,95.95 L144.1,95.95 L145.1,95.95 L146.1,95.95 L147.1,95.95 L148.1,95.95 L149.1,95.95 L150.1,95.95 L151.1,95.95 L152.2,95.95 L153.2,95.95 L154.2,95.95 L155.2,95.95 L156.2,95.95 L157.2,95.95 L158.2,95.95 L159.2,95.95 L160.2,95.95 L161.2,95.95 L162.2,95.95 L163.2,95.95 L164.2,95.95 L165.2,95.95 L166.3,95.95 L167.3,95.95 L168.3,95.95 L169.3,95.95 L170.3,95.95 L171.3,95.95 L172.3,95.95 L173.3,95.95 L174.3,95.95 L175.3,95.95 L176.3,95.95 L177.3,95.95 L178.3,95.95 L179.3,95.95 L180.4,95.95 L181.4,95.95 L182.4,95.95 L183.4,95.95 L184.4,95.95 L185.4,95.95 L186.4,95.95 L187.4,95.95 L188.4,95.95 L189.4,95.95 L190.4,95.95 L191.4,95.95 L192.4,95.95 L193.4,95.95 L194.5,95.95 L195.5,95.95 L196.5,95.95 L197.5,95.95 L198.5,95.95 L199.5,95.95 L200.5,96.15 L201.5,96.75 L201.5,97.35 L200.5,97.95 L199.5,98.15 L198.5,98.15 L197.5,98.15 L196.5,98.15 L195.5,98.15 L194.5,98.15 L193.4,98.15 L192.4,98.15 L191.4,98.15 L190.4,98.15 L189.4,98.15 L188.4,98.15 L187.4,98.15 L186.4,98.15 L185.4,98.15 L184.4,98.15 L183.4,98.15 L182.4,98.15 L181.4,98.15 L180.4,98.15 L179.3,98.15 L178.3,98.15 L177.3,98.15 L176.3,98.15 L175.3,98.15 L174.3,98.15 L173.3,98.15 L172.3,98.15 L171.3,98.15 L170.3,98.15 L169.3,98.15 L168.3,98.15 L167.3,98.15 L166.3,98.15 L165.2,98.15 L164.2,98.15 L163.2,98.15 L162.2,98.15 L161.2,98.15 L160.2,98.15 L159.2,98.15 L158.2,98.15 L157.2,98.15 L156.2,98.15 L155.2,98.15 L154.2,98.15 L153.2,98.15 L152.2,98.15 L151.1,98.15 L150.1,98.15 L149.1,98.15 L148.1,98.15 L147.1,98.15 L146.1,98.15 L145.1,98.15 L144.1,98.15 L143.1,98.15 L142.1,98.15 L141.1,98.15 L140.1,98.15 L139.1,98.15 L138.1,98.15 L137.0,98.15 L136.0,98.15 L135.0,98.15 L134.0,98.15 L133.0,98.15 L132.0,98.15 L131.0,98.15 L130.0,98.15Z" fill="#e8962c" opacity="1.0"/>
<circle cx="208.00" cy="92.75" r="0.85" fill="#111"/>
<circle cx="173.50" cy="97.05" r="0.85" fill="#111"/>
<line x1="119.60" y1="104.15" x2="123.40" y2="104.15" stroke="#333" stroke-width="0.7"/>
<text x="117.80" y="106.25" font-size="6" text-anchor="end" font-style="italic" fill="#333">Christensenellaceae R−7 group</text>
<text x="257.20" y="105.65" font-size="6" text-anchor="end" fill="#333">.047</text>
<path d="M130.0,101.40 L131.0,101.40 L132.0,101.40 L133.0,101.40 L134.0,101.40 L135.0,101.40 L136.0,101.39 L137.0,101.39 L138.1,101.39 L139.1,101.39 L140.1,101.38 L141.1,101.38 L142.1,101.38 L143.1,101.37 L144.1,101.37 L145.1,101.37 L146.1,101.36 L147.1,101.36 L148.1,101.36 L149.1,101.35 L150.1,101.35 L151.1,101.35 L152.1,101.34 L153.2,101.34 L154.2,101.33 L155.2,101.33 L156.2,101.33 L157.2,101.32 L158.2,101.32 L159.2,101.32 L160.2,101.32 L161.2,101.31 L162.2,101.31 L163.2,101.31 L164.2,101.31 L165.2,101.30 L166.2,101.30 L167.2,101.30 L168.3,101.30 L169.3,101.30 L170.3,101.30 L171.3,101.30 L172.3,101.30 L173.3,101.29 L174.3,101.29 L175.3,101.29 L176.3,101.28 L177.3,101.28 L178.3,101.27 L179.3,101.27 L180.3,101.26 L181.3,101.26 L182.4,101.25 L183.4,101.25 L184.4,101.25 L185.4,101.25 L186.4,101.23 L187.4,101.20 L188.4,101.16 L189.4,101.11 L190.4,101.05 L191.4,101.00 L192.4,100.96 L193.4,100.92 L194.4,100.90 L195.4,100.89 L196.4,100.84 L197.5,100.74 L198.5,100.62 L199.5,100.49 L200.5,100.37 L201.5,100.27 L202.5,100.21 L203.5,100.20 L204.5,100.17 L205.5,100.12 L206.5,100.07 L207.5,100.03 L208.5,100.00 L209.5,100.01 L210.5,100.08 L211.5,100.19 L212.6,100.32 L213.6,100.43 L214.6,100.49 L215.6,100.56 L216.6,100.91 L217.6,101.39 L218.6,101.82 L219.6,102.00 L219.6,102.00 L218.6,102.18 L217.6,102.61 L216.6,103.09 L215.6,103.44 L214.6,103.51 L213.6,103.57 L212.6,103.68 L211.5,103.81 L210.5,103.92 L209.5,103.99 L208.5,104.00 L207.5,103.97 L206.5,103.93 L205.5,103.88 L204.5,103.83 L203.5,103.80 L202.5,103.79 L201.5,103.73 L200.5,103.63 L199.5,103.51 L198.5,103.38 L197.5,103.26 L196.4,103.16 L195.4,103.11 L194.4,103.10 L193.4,103.08 L192.4,103.04 L191.4,103.00 L190.4,102.95 L189.4,102.89 L188.4,102.84 L187.4,102.80 L186.4,102.77 L185.4,102.75 L184.4,102.75 L183.4,102.75 L182.4,102.75 L181.3,102.74 L180.3,102.74 L179.3,102.73 L178.3,102.73 L177.3,102.72 L176.3,102.72 L175.3,102.71 L174.3,102.71 L173.3,102.71 L172.3,102.70 L171.3,102.70 L170.3,102.70 L169.3,102.70 L168.3,102.70 L167.2,102.70 L166.2,102.70 L165.2,102.70 L164.2,102.69 L163.2,102.69 L162.2,102.69 L161.2,102.69 L160.2,102.68 L159.2,102.68 L158.2,102.68 L157.2,102.68 L156.2,102.67 L155.2,102.67 L154.2,102.67 L153.2,102.66 L152.1,102.66 L151.1,102.65 L150.1,102.65 L149.1,102.65 L148.1,102.64 L147.1,102.64 L146.1,102.64 L145.1,102.63 L144.1,102.63 L143.1,102.63 L142.1,102.62 L141.1,102.62 L140.1,102.62 L139.1,102.61 L138.1,102.61 L137.0,102.61 L136.0,102.61 L135.0,102.60 L134.0,102.60 L133.0,102.60 L132.0,102.60 L131.0,102.60 L130.0,102.60Z" fill="#12584a" opacity="1.0"/>
<path d="M130.0,105.10 L131.0,105.10 L132.0,105.10 L133.0,105.10 L134.0,105.10 L135.0,105.10 L136.0,105.10 L137.0,105.10 L138.0,105.10 L139.1,105.10 L140.1,105.10 L141.1,105.10 L142.1,105.10 L143.1,105.10 L144.1,105.10 L145.1,105.10 L146.1,105.10 L147.1,105.10 L148.1,105.10 L149.1,105.10 L150.1,105.10 L151.1,105.10 L152.1,105.10 L153.1,105.10 L154.1,105.10 L155.1,105.10 L156.2,105.10 L157.2,105.10 L158.2,105.10 L159.2,105.10 L160.2,105.10 L161.2,105.10 L162.2,105.10 L163.2,105.10 L164.2,105.10 L165.2,105.10 L166.2,105.10 L167.2,105.10 L168.2,105.10 L169.2,105.10 L170.2,105.10 L171.2,105.10 L172.2,105.10 L173.3,105.10 L174.3,105.10 L175.3,105.10 L176.3,105.10 L177.3,105.10 L178.3,105.10 L179.3,105.10 L180.3,105.10 L181.3,105.10 L182.3,105.10 L183.3,105.10 L184.3,105.10 L185.3,105.10 L186.3,105.10 L187.3,105.10 L188.3,105.10 L189.4,105.10 L190.4,105.10 L191.4,105.10 L192.4,105.10 L193.4,105.10 L194.4,105.10 L195.4,105.10 L196.4,105.10 L197.4,105.10 L198.4,105.10 L199.4,105.10 L200.4,105.10 L201.4,105.10 L202.4,105.10 L203.4,105.10 L204.4,105.10 L205.4,105.10 L206.5,105.10 L207.5,105.10 L208.5,105.10 L209.5,105.10 L210.5,105.10 L211.5,105.10 L212.5,105.10 L213.5,105.33 L214.5,106.00 L214.5,106.60 L213.5,107.27 L212.5,107.50 L211.5,107.50 L210.5,107.50 L209.5,107.50 L208.5,107.50 L207.5,107.50 L206.5,107.50 L205.4,107.50 L204.4,107.50 L203.4,107.50 L202.4,107.50 L201.4,107.50 L200.4,107.50 L199.4,107.50 L198.4,107.50 L197.4,107.50 L196.4,107.50 L195.4,107.50 L194.4,107.50 L193.4,107.50 L192.4,107.50 L191.4,107.50 L190.4,107.50 L189.4,107.50 L188.3,107.50 L187.3,107.50 L186.3,107.50 L185.3,107.50 L184.3,107.50 L183.3,107.50 L182.3,107.50 L181.3,107.50 L180.3,107.50 L179.3,107.50 L178.3,107.50 L177.3,107.50 L176.3,107.50 L175.3,107.50 L174.3,107.50 L173.3,107.50 L172.2,107.50 L171.2,107.50 L170.2,107.50 L169.2,107.50 L168.2,107.50 L167.2,107.50 L166.2,107.50 L165.2,107.50 L164.2,107.50 L163.2,107.50 L162.2,107.50 L161.2,107.50 L160.2,107.50 L159.2,107.50 L158.2,107.50 L157.2,107.50 L156.2,107.50 L155.1,107.50 L154.1,107.50 L153.1,107.50 L152.1,107.50 L151.1,107.50 L150.1,107.50 L149.1,107.50 L148.1,107.50 L147.1,107.50 L146.1,107.50 L145.1,107.50 L144.1,107.50 L143.1,107.50 L142.1,107.50 L141.1,107.50 L140.1,107.50 L139.1,107.50 L138.0,107.50 L137.0,107.50 L136.0,107.50 L135.0,107.50 L134.0,107.50 L133.0,107.50 L132.0,107.50 L131.0,107.50 L130.0,107.50Z" fill="#e8962c" opacity="1.0"/>
<circle cx="205.80" cy="102.00" r="0.85" fill="#111"/>
<circle cx="174.00" cy="106.30" r="0.85" fill="#111"/>
<line x1="119.60" y1="113.40" x2="123.40" y2="113.40" stroke="#333" stroke-width="0.7"/>
<text x="117.80" y="115.50" font-size="6" text-anchor="end" font-style="italic" fill="#333">UBA1819</text>
<text x="257.20" y="114.90" font-size="6" text-anchor="end" fill="#333">.007</text>
<path d="M130.0,110.20 L131.0,110.20 L132.0,110.20 L133.0,110.20 L134.1,110.20 L135.1,110.20 L136.1,110.20 L137.1,110.20 L138.1,110.20 L139.1,110.20 L140.1,110.20 L141.1,110.20 L142.2,110.20 L143.2,110.20 L144.2,110.20 L145.2,110.20 L146.2,110.20 L147.2,110.20 L148.2,110.20 L149.3,110.20 L150.3,110.20 L151.3,110.20 L152.3,110.20 L153.3,110.20 L154.3,110.20 L155.3,110.20 L156.4,110.20 L157.4,110.20 L158.4,110.20 L159.4,110.20 L160.4,110.20 L161.4,110.20 L162.4,110.20 L163.4,110.20 L164.5,110.20 L165.5,110.20 L166.5,110.20 L167.5,110.20 L168.5,110.20 L169.5,110.20 L170.5,110.20 L171.6,110.20 L172.6,110.20 L173.6,110.20 L174.6,110.20 L175.6,110.20 L176.6,110.20 L177.6,110.20 L178.7,110.20 L179.7,110.20 L180.7,110.20 L181.7,110.20 L182.7,110.20 L183.7,110.20 L184.7,110.20 L185.7,110.20 L186.8,110.20 L187.8,110.20 L188.8,110.50 L189.8,110.95 L189.8,111.55 L188.8,112.00 L187.8,112.30 L186.8,112.30 L185.7,112.30 L184.7,112.30 L183.7,112.30 L182.7,112.30 L181.7,112.30 L180.7,112.30 L179.7,112.30 L178.7,112.30 L177.6,112.30 L176.6,112.30 L175.6,112.30 L174.6,112.30 L173.6,112.30 L172.6,112.30 L171.6,112.30 L170.5,112.30 L169.5,112.30 L168.5,112.30 L167.5,112.30 L166.5,112.30 L165.5,112.30 L164.5,112.30 L163.4,112.30 L162.4,112.30 L161.4,112.30 L160.4,112.30 L159.4,112.30 L158.4,112.30 L157.4,112.30 L156.4,112.30 L155.3,112.30 L154.3,112.30 L153.3,112.30 L152.3,112.30 L151.3,112.30 L150.3,112.30 L149.3,112.30 L148.2,112.30 L147.2,112.30 L146.2,112.30 L145.2,112.30 L144.2,112.30 L143.2,112.30 L142.2,112.30 L141.1,112.30 L140.1,112.30 L139.1,112.30 L138.1,112.30 L137.1,112.30 L136.1,112.30 L135.1,112.30 L134.1,112.30 L133.0,112.30 L132.0,112.30 L131.0,112.30 L130.0,112.30Z" fill="#12584a" opacity="1.0"/>
<path d="M130.0,115.45 L131.0,115.45 L132.0,115.45 L133.0,115.44 L134.0,115.44 L135.0,115.44 L136.0,115.43 L137.0,115.42 L138.0,115.42 L139.0,115.41 L140.0,115.40 L141.0,115.39 L142.0,115.38 L143.0,115.37 L144.0,115.35 L145.0,115.34 L146.0,115.33 L147.0,115.32 L148.0,115.30 L149.0,115.29 L150.0,115.27 L151.0,115.26 L152.0,115.24 L153.0,115.23 L154.0,115.21 L155.0,115.20 L156.0,115.19 L157.0,115.17 L158.0,115.16 L159.0,115.14 L160.0,115.13 L161.0,115.11 L162.0,115.10 L163.0,115.08 L164.0,115.07 L165.0,115.06 L166.0,115.05 L167.0,115.03 L168.0,115.02 L169.0,115.01 L170.0,115.00 L171.0,114.99 L172.0,114.98 L173.0,114.98 L174.0,114.97 L175.0,114.96 L176.0,114.96 L177.0,114.96 L178.0,114.95 L179.0,114.95 L180.0,114.95 L181.0,114.94 L182.0,114.92 L183.0,114.88 L184.0,114.83 L185.0,114.77 L186.0,114.70 L187.0,114.63 L188.0,114.57 L189.0,114.50 L190.0,114.43 L191.0,114.37 L192.0,114.32 L193.0,114.28 L194.0,114.26 L195.0,114.25 L196.0,114.24 L197.0,114.20 L198.0,114.16 L199.0,114.10 L200.0,114.04 L201.0,114.00 L202.0,113.96 L203.0,113.95 L204.0,113.97 L205.0,114.03 L206.0,114.11 L207.0,114.20 L208.0,114.30 L209.0,114.39 L210.0,114.47 L211.0,114.53 L212.0,114.55 L213.0,114.57 L214.0,114.64 L215.0,114.73 L216.0,114.85 L217.0,114.98 L218.0,115.12 L219.0,115.25 L220.0,115.37 L221.0,115.46 L222.0,115.53 L223.0,115.55 L223.0,115.55 L222.0,115.57 L221.0,115.64 L220.0,115.73 L219.0,115.85 L218.0,115.98 L217.0,116.12 L216.0,116.25 L215.0,116.37 L214.0,116.46 L213.0,116.53 L212.0,116.55 L211.0,116.57 L210.0,116.63 L209.0,116.71 L208.0,116.80 L207.0,116.90 L206.0,116.99 L205.0,117.07 L204.0,117.13 L203.0,117.15 L202.0,117.14 L201.0,117.10 L200.0,117.06 L199.0,117.00 L198.0,116.94 L197.0,116.90 L196.0,116.86 L195.0,116.85 L194.0,116.84 L193.0,116.82 L192.0,116.78 L191.0,116.73 L190.0,116.67 L189.0,116.60 L188.0,116.53 L187.0,116.47 L186.0,116.40 L185.0,116.33 L184.0,116.27 L183.0,116.22 L182.0,116.18 L181.0,116.16 L180.0,116.15 L179.0,116.15 L178.0,116.15 L177.0,116.14 L176.0,116.14 L175.0,116.14 L174.0,116.13 L173.0,116.12 L172.0,116.12 L171.0,116.11 L170.0,116.10 L169.0,116.09 L168.0,116.08 L167.0,116.07 L166.0,116.05 L165.0,116.04 L164.0,116.03 L163.0,116.02 L162.0,116.00 L161.0,115.99 L160.0,115.97 L159.0,115.96 L158.0,115.94 L157.0,115.93 L156.0,115.91 L155.0,115.90 L154.0,115.89 L153.0,115.87 L152.0,115.86 L151.0,115.84 L150.0,115.83 L149.0,115.81 L148.0,115.80 L147.0,115.78 L146.0,115.77 L145.0,115.76 L144.0,115.75 L143.0,115.73 L142.0,115.72 L141.0,115.71 L140.0,115.70 L139.0,115.69 L138.0,115.68 L137.0,115.68 L136.0,115.67 L135.0,115.66 L134.0,115.66 L133.0,115.66 L132.0,115.65 L131.0,115.65 L130.0,115.65Z" fill="#e8962c" opacity="1.0"/>
<circle cx="179.00" cy="111.25" r="0.85" fill="#111"/>
<circle cx="200.70" cy="115.55" r="0.85" fill="#111"/>
<line x1="119.60" y1="122.65" x2="123.40" y2="122.65" stroke="#333" stroke-width="0.7"/>
<text x="117.80" y="124.75" font-size="6" text-anchor="end" font-style="italic" fill="#333">Coprococcus 3</text>
<text x="257.20" y="124.15" font-size="6" text-anchor="end" fill="#333">.040</text>
<path d="M130.0,120.40 L131.0,120.40 L132.0,120.40 L133.0,120.40 L134.0,120.40 L135.0,120.40 L136.0,120.40 L137.0,120.40 L138.0,120.40 L139.0,120.40 L140.0,120.40 L141.0,120.40 L142.0,120.40 L143.0,120.40 L144.0,120.40 L145.0,120.40 L146.0,120.40 L147.0,120.40 L148.0,120.40 L149.0,120.40 L150.0,120.40 L151.0,120.40 L152.0,120.40 L153.0,120.40 L154.0,120.40 L155.0,120.40 L156.0,120.40 L157.0,120.40 L158.0,120.40 L159.0,120.40 L160.0,120.40 L161.0,120.40 L162.0,120.40 L163.0,120.40 L164.0,120.40 L165.0,120.40 L166.0,120.40 L167.0,120.40 L168.0,120.40 L169.0,120.40 L170.0,120.40 L171.0,120.40 L172.0,120.40 L173.0,120.40 L174.0,120.40 L175.0,120.40 L176.0,120.40 L177.0,120.38 L178.0,120.32 L179.0,120.23 L180.0,120.12 L181.0,120.00 L182.0,119.88 L183.0,119.77 L184.0,119.68 L185.0,119.62 L186.0,119.60 L187.0,119.58 L188.0,119.53 L189.0,119.45 L190.0,119.36 L191.0,119.25 L192.0,119.15 L193.0,119.04 L194.0,118.95 L195.0,118.87 L196.0,118.82 L197.0,118.80 L198.0,118.80 L199.0,118.82 L200.0,118.83 L201.0,118.85 L202.0,118.87 L203.0,118.88 L204.0,118.90 L205.0,118.90 L206.0,118.97 L207.0,119.15 L208.0,119.41 L209.0,119.70 L210.0,119.99 L211.0,120.25 L212.0,120.43 L213.0,120.50 L213.0,120.50 L212.0,120.57 L211.0,120.75 L210.0,121.01 L209.0,121.30 L208.0,121.59 L207.0,121.85 L206.0,122.03 L205.0,122.10 L204.0,122.10 L203.0,122.12 L202.0,122.13 L201.0,122.15 L200.0,122.17 L199.0,122.18 L198.0,122.20 L197.0,122.20 L196.0,122.18 L195.0,122.13 L194.0,122.05 L193.0,121.96 L192.0,121.85 L191.0,121.75 L190.0,121.64 L189.0,121.55 L188.0,121.47 L187.0,121.42 L186.0,121.40 L185.0,121.38 L184.0,121.32 L183.0,121.23 L182.0,121.12 L181.0,121.00 L180.0,120.88 L179.0,120.77 L178.0,120.68 L177.0,120.62 L176.0,120.60 L175.0,120.60 L174.0,120.60 L173.0,120.60 L172.0,120.60 L171.0,120.60 L170.0,120.60 L169.0,120.60 L168.0,120.60 L167.0,120.60 L166.0,120.60 L165.0,120.60 L164.0,120.60 L163.0,120.60 L162.0,120.60 L161.0,120.60 L160.0,120.60 L159.0,120.60 L158.0,120.60 L157.0,120.60 L156.0,120.60 L155.0,120.60 L154.0,120.60 L153.0,120.60 L152.0,120.60 L151.0,120.60 L150.0,120.60 L149.0,120.60 L148.0,120.60 L147.0,120.60 L146.0,120.60 L145.0,120.60 L144.0,120.60 L143.0,120.60 L142.0,120.60 L141.0,120.60 L140.0,120.60 L139.0,120.60 L138.0,120.60 L137.0,120.60 L136.0,120.60 L135.0,120.60 L134.0,120.60 L133.0,120.60 L132.0,120.60 L131.0,120.60 L130.0,120.60Z" fill="#12584a" opacity="1.0"/>
<path d="M130.0,123.70 L131.0,123.70 L132.0,123.70 L133.0,123.70 L134.0,123.70 L135.0,123.70 L136.0,123.70 L137.1,123.70 L138.1,123.70 L139.1,123.70 L140.1,123.70 L141.1,123.70 L142.1,123.70 L143.1,123.70 L144.1,123.70 L145.1,123.70 L146.1,123.70 L147.1,123.70 L148.1,123.70 L149.1,123.70 L150.1,123.70 L151.2,123.70 L152.2,123.70 L153.2,123.70 L154.2,123.70 L155.2,123.70 L156.2,123.70 L157.2,123.70 L158.2,123.70 L159.2,123.70 L160.2,123.70 L161.2,123.70 L162.2,123.70 L163.2,123.70 L164.2,123.70 L165.2,123.70 L166.3,123.70 L167.3,123.70 L168.3,123.70 L169.3,123.70 L170.3,123.70 L171.3,123.70 L172.3,123.70 L173.3,123.70 L174.3,123.70 L175.3,123.70 L176.3,123.70 L177.3,123.70 L178.3,123.70 L179.3,123.70 L180.4,123.70 L181.4,123.70 L182.4,123.70 L183.4,123.70 L184.4,123.70 L185.4,123.70 L186.4,123.70 L187.4,123.70 L188.4,123.70 L189.4,123.70 L190.4,123.70 L191.4,123.70 L192.4,123.70 L193.4,123.70 L194.5,123.70 L195.5,123.70 L196.5,123.70 L197.5,123.70 L198.5,123.70 L199.5,123.90 L200.5,124.50 L200.5,125.10 L199.5,125.70 L198.5,125.90 L197.5,125.90 L196.5,125.90 L195.5,125.90 L194.5,125.90 L193.4,125.90 L192.4,125.90 L191.4,125.90 L190.4,125.90 L189.4,125.90 L188.4,125.90 L187.4,125.90 L186.4,125.90 L185.4,125.90 L184.4,125.90 L183.4,125.90 L182.4,125.90 L181.4,125.90 L180.4,125.90 L179.3,125.90 L178.3,125.90 L177.3,125.90 L176.3,125.90 L175.3,125.90 L174.3,125.90 L173.3,125.90 L172.3,125.90 L171.3,125.90 L170.3,125.90 L169.3,125.90 L168.3,125.90 L167.3,125.90 L166.3,125.90 L165.2,125.90 L164.2,125.90 L163.2,125.90 L162.2,125.90 L161.2,125.90 L160.2,125.90 L159.2,125.90 L158.2,125.90 L157.2,125.90 L156.2,125.90 L155.2,125.90 L154.2,125.90 L153.2,125.90 L152.2,125.90 L151.2,125.90 L150.1,125.90 L149.1,125.90 L148.1,125.90 L147.1,125.90 L146.1,125.90 L145.1,125.90 L144.1,125.90 L143.1,125.90 L142.1,125.90 L141.1,125.90 L140.1,125.90 L139.1,125.90 L138.1,125.90 L137.1,125.90 L136.0,125.90 L135.0,125.90 L134.0,125.90 L133.0,125.90 L132.0,125.90 L131.0,125.90 L130.0,125.90Z" fill="#e8962c" opacity="1.0"/>
<circle cx="196.60" cy="120.50" r="0.85" fill="#111"/>
<circle cx="182.70" cy="124.80" r="0.85" fill="#111"/>
<line x1="119.60" y1="131.90" x2="123.40" y2="131.90" stroke="#333" stroke-width="0.7"/>
<text x="117.80" y="134.00" font-size="6" text-anchor="end" font-style="italic" fill="#333">Ruminococcaceae UCG−003</text>
<text x="257.20" y="133.40" font-size="6" text-anchor="end" fill="#333">.011</text>
<path d="M130.0,128.95 L131.0,128.98 L132.0,129.06 L133.0,129.17 L134.0,129.30 L135.0,129.43 L136.0,129.54 L137.0,129.62 L138.0,129.65 L139.0,129.65 L140.0,129.65 L141.0,129.65 L142.0,129.65 L143.0,129.65 L144.0,129.65 L145.0,129.65 L146.0,129.65 L147.0,129.65 L148.0,129.65 L149.0,129.65 L150.0,129.65 L151.0,129.65 L152.0,129.65 L153.0,129.65 L154.0,129.65 L155.0,129.65 L156.0,129.65 L157.0,129.65 L158.0,129.65 L159.0,129.65 L160.0,129.65 L161.0,129.65 L162.0,129.65 L163.0,129.65 L164.0,129.65 L165.0,129.65 L166.0,129.65 L167.0,129.65 L168.0,129.65 L169.0,129.65 L170.0,129.65 L171.0,129.65 L172.0,129.65 L173.0,129.65 L174.0,129.65 L175.0,129.65 L176.0,129.65 L177.0,129.65 L178.0,129.65 L179.0,129.65 L180.0,129.65 L181.0,129.65 L182.0,129.65 L183.0,129.65 L184.0,129.65 L185.0,129.65 L186.0,129.65 L187.0,129.65 L188.0,129.65 L189.0,129.51 L190.0,129.19 L191.0,128.81 L192.0,128.49 L193.0,128.35 L194.0,128.33 L195.0,128.27 L196.0,128.19 L197.0,128.11 L198.0,128.03 L199.0,127.97 L200.0,127.95 L201.0,128.00 L202.0,128.13 L203.0,128.27 L204.0,128.40 L205.0,128.45 L206.0,128.65 L207.0,129.10 L208.0,129.55 L209.0,129.75 L209.0,129.75 L208.0,129.95 L207.0,130.40 L206.0,130.85 L205.0,131.05 L204.0,131.10 L203.0,131.23 L202.0,131.37 L201.0,131.50 L200.0,131.55 L199.0,131.53 L198.0,131.47 L197.0,131.39 L196.0,131.31 L195.0,131.23 L194.0,131.17 L193.0,131.15 L192.0,131.01 L191.0,130.69 L190.0,130.31 L189.0,129.99 L188.0,129.85 L187.0,129.85 L186.0,129.85 L185.0,129.85 L184.0,129.85 L183.0,129.85 L182.0,129.85 L181.0,129.85 L180.0,129.85 L179.0,129.85 L178.0,129.85 L177.0,129.85 L176.0,129.85 L175.0,129.85 L174.0,129.85 L173.0,129.85 L172.0,129.85 L171.0,129.85 L170.0,129.85 L169.0,129.85 L168.0,129.85 L167.0,129.85 L166.0,129.85 L165.0,129.85 L164.0,129.85 L163.0,129.85 L162.0,129.85 L161.0,129.85 L160.0,129.85 L159.0,129.85 L158.0,129.85 L157.0,129.85 L156.0,129.85 L155.0,129.85 L154.0,129.85 L153.0,129.85 L152.0,129.85 L151.0,129.85 L150.0,129.85 L149.0,129.85 L148.0,129.85 L147.0,129.85 L146.0,129.85 L145.0,129.85 L144.0,129.85 L143.0,129.85 L142.0,129.85 L141.0,129.85 L140.0,129.85 L139.0,129.85 L138.0,129.85 L137.0,129.88 L136.0,129.96 L135.0,130.07 L134.0,130.20 L133.0,130.33 L132.0,130.44 L131.0,130.52 L130.0,130.55Z" fill="#12584a" opacity="1.0"/>
<path d="M130.0,132.75 L131.0,132.75 L132.0,132.75 L133.0,132.75 L134.0,132.75 L135.0,132.75 L136.0,132.75 L137.0,132.75 L138.1,132.75 L139.1,132.75 L140.1,132.76 L141.1,132.76 L142.1,132.76 L143.1,132.76 L144.1,132.76 L145.1,132.76 L146.1,132.76 L147.1,132.76 L148.1,132.77 L149.1,132.77 L150.1,132.77 L151.1,132.77 L152.1,132.77 L153.2,132.77 L154.2,132.78 L155.2,132.78 L156.2,132.78 L157.2,132.78 L158.2,132.78 L159.2,132.78 L160.2,132.79 L161.2,132.79 L162.2,132.79 L163.2,132.79 L164.2,132.79 L165.2,132.80 L166.2,132.80 L167.2,132.80 L168.3,132.80 L169.3,132.80 L170.3,132.81 L171.3,132.81 L172.3,132.81 L173.3,132.81 L174.3,132.81 L175.3,132.82 L176.3,132.82 L177.3,132.82 L178.3,132.82 L179.3,132.82 L180.3,132.83 L181.3,132.83 L182.3,132.83 L183.4,132.83 L184.4,132.83 L185.4,132.83 L186.4,132.84 L187.4,132.84 L188.4,132.84 L189.4,132.84 L190.4,132.84 L191.4,132.84 L192.4,132.84 L193.4,132.84 L194.4,132.85 L195.4,132.85 L196.4,132.85 L197.4,132.85 L198.5,132.85 L199.5,132.85 L200.5,132.85 L201.5,132.85 L202.5,132.85 L203.5,132.85 L204.5,133.08 L205.5,133.75 L205.5,134.35 L204.5,135.02 L203.5,135.25 L202.5,135.25 L201.5,135.25 L200.5,135.25 L199.5,135.25 L198.5,135.25 L197.4,135.25 L196.4,135.25 L195.4,135.25 L194.4,135.25 L193.4,135.26 L192.4,135.26 L191.4,135.26 L190.4,135.26 L189.4,135.26 L188.4,135.26 L187.4,135.26 L186.4,135.26 L185.4,135.27 L184.4,135.27 L183.4,135.27 L182.3,135.27 L181.3,135.27 L180.3,135.27 L179.3,135.28 L178.3,135.28 L177.3,135.28 L176.3,135.28 L175.3,135.28 L174.3,135.29 L173.3,135.29 L172.3,135.29 L171.3,135.29 L170.3,135.29 L169.3,135.30 L168.3,135.30 L167.2,135.30 L166.2,135.30 L165.2,135.30 L164.2,135.31 L163.2,135.31 L162.2,135.31 L161.2,135.31 L160.2,135.31 L159.2,135.32 L158.2,135.32 L157.2,135.32 L156.2,135.32 L155.2,135.32 L154.2,135.32 L153.2,135.33 L152.1,135.33 L151.1,135.33 L150.1,135.33 L149.1,135.33 L148.1,135.33 L147.1,135.34 L146.1,135.34 L145.1,135.34 L144.1,135.34 L143.1,135.34 L142.1,135.34 L141.1,135.34 L140.1,135.34 L139.1,135.35 L138.1,135.35 L137.0,135.35 L136.0,135.35 L135.0,135.35 L134.0,135.35 L133.0,135.35 L132.0,135.35 L131.0,135.35 L130.0,135.35Z" fill="#e8962c" opacity="1.0"/>
<circle cx="200.00" cy="129.75" r="0.85" fill="#111"/>
<circle cx="130.50" cy="134.05" r="0.85" fill="#111"/>
<line x1="119.60" y1="141.15" x2="123.40" y2="141.15" stroke="#333" stroke-width="0.7"/>
<text x="117.80" y="143.25" font-size="6" text-anchor="end" font-style="italic" fill="#333">Ruminococcaceae UCG−013</text>
<text x="257.20" y="142.65" font-size="6" text-anchor="end" fill="#333">.033</text>
<path d="M130.0,138.20 L131.0,138.23 L132.0,138.31 L133.0,138.42 L134.0,138.55 L135.0,138.68 L136.0,138.80 L137.1,138.87 L138.1,138.90 L139.1,138.90 L140.1,138.90 L141.1,138.90 L142.1,138.90 L143.1,138.90 L144.1,138.90 L145.1,138.90 L146.1,138.90 L147.1,138.90 L148.1,138.90 L149.2,138.90 L150.2,138.90 L151.2,138.90 L152.2,138.90 L153.2,138.90 L154.2,138.90 L155.2,138.90 L156.2,138.90 L157.2,138.90 L158.2,138.90 L159.2,138.90 L160.2,138.90 L161.3,138.90 L162.3,138.90 L163.3,138.90 L164.3,138.90 L165.3,138.90 L166.3,138.90 L167.3,138.90 L168.3,138.90 L169.3,138.90 L170.3,138.90 L171.3,138.90 L172.3,138.90 L173.3,138.90 L174.4,138.90 L175.4,138.90 L176.4,138.90 L177.4,138.90 L178.4,138.89 L179.4,138.81 L180.4,138.65 L181.4,138.47 L182.4,138.28 L183.4,138.12 L184.4,138.02 L185.4,137.99 L186.5,137.92 L187.5,137.80 L188.5,137.65 L189.5,137.51 L190.5,137.38 L191.5,137.31 L192.5,137.30 L193.5,137.31 L194.5,137.32 L195.5,137.34 L196.5,137.36 L197.5,137.38 L198.6,137.39 L199.6,137.40 L200.6,137.47 L201.6,137.83 L202.6,138.35 L203.6,138.80 L204.6,139.00 L204.6,139.00 L203.6,139.20 L202.6,139.65 L201.6,140.17 L200.6,140.53 L199.6,140.60 L198.6,140.61 L197.5,140.62 L196.5,140.64 L195.5,140.66 L194.5,140.68 L193.5,140.69 L192.5,140.70 L191.5,140.69 L190.5,140.62 L189.5,140.49 L188.5,140.35 L187.5,140.20 L186.5,140.08 L185.4,140.01 L184.4,139.98 L183.4,139.88 L182.4,139.72 L181.4,139.53 L180.4,139.35 L179.4,139.19 L178.4,139.11 L177.4,139.10 L176.4,139.10 L175.4,139.10 L174.4,139.10 L173.3,139.10 L172.3,139.10 L171.3,139.10 L170.3,139.10 L169.3,139.10 L168.3,139.10 L167.3,139.10 L166.3,139.10 L165.3,139.10 L164.3,139.10 L163.3,139.10 L162.3,139.10 L161.3,139.10 L160.2,139.10 L159.2,139.10 L158.2,139.10 L157.2,139.10 L156.2,139.10 L155.2,139.10 L154.2,139.10 L153.2,139.10 L152.2,139.10 L151.2,139.10 L150.2,139.10 L149.2,139.10 L148.1,139.10 L147.1,139.10 L146.1,139.10 L145.1,139.10 L144.1,139.10 L143.1,139.10 L142.1,139.10 L141.1,139.10 L140.1,139.10 L139.1,139.10 L138.1,139.10 L137.1,139.13 L136.0,139.20 L135.0,139.32 L134.0,139.45 L133.0,139.58 L132.0,139.69 L131.0,139.77 L130.0,139.80Z" fill="#12584a" opacity="1.0"/>
<path d="M130.0,142.20 L131.0,142.20 L132.0,142.20 L133.0,142.20 L134.0,142.20 L135.0,142.20 L136.0,142.20 L137.1,142.20 L138.1,142.20 L139.1,142.20 L140.1,142.20 L141.1,142.20 L142.1,142.20 L143.1,142.20 L144.1,142.20 L145.1,142.20 L146.1,142.20 L147.1,142.20 L148.1,142.20 L149.1,142.20 L150.1,142.20 L151.2,142.20 L152.2,142.20 L153.2,142.20 L154.2,142.20 L155.2,142.20 L156.2,142.20 L157.2,142.20 L158.2,142.20 L159.2,142.20 L160.2,142.20 L161.2,142.20 L162.2,142.20 L163.2,142.20 L164.2,142.20 L165.2,142.20 L166.3,142.20 L167.3,142.20 L168.3,142.20 L169.3,142.20 L170.3,142.20 L171.3,142.20 L172.3,142.20 L173.3,142.20 L174.3,142.20 L175.3,142.20 L176.3,142.20 L177.3,142.20 L178.3,142.20 L179.3,142.20 L180.4,142.20 L181.4,142.20 L182.4,142.20 L183.4,142.20 L184.4,142.20 L185.4,142.20 L186.4,142.20 L187.4,142.20 L188.4,142.20 L189.4,142.20 L190.4,142.20 L191.4,142.20 L192.4,142.20 L193.4,142.20 L194.5,142.20 L195.5,142.20 L196.5,142.20 L197.5,142.20 L198.5,142.20 L199.5,142.40 L200.5,143.00 L200.5,143.60 L199.5,144.20 L198.5,144.40 L197.5,144.40 L196.5,144.40 L195.5,144.40 L194.5,144.40 L193.4,144.40 L192.4,144.40 L191.4,144.40 L190.4,144.40 L189.4,144.40 L188.4,144.40 L187.4,144.40 L186.4,144.40 L185.4,144.40 L184.4,144.40 L183.4,144.40 L182.4,144.40 L181.4,144.40 L180.4,144.40 L179.3,144.40 L178.3,144.40 L177.3,144.40 L176.3,144.40 L175.3,144.40 L174.3,144.40 L173.3,144.40 L172.3,144.40 L171.3,144.40 L170.3,144.40 L169.3,144.40 L168.3,144.40 L167.3,144.40 L166.3,144.40 L165.2,144.40 L164.2,144.40 L163.2,144.40 L162.2,144.40 L161.2,144.40 L160.2,144.40 L159.2,144.40 L158.2,144.40 L157.2,144.40 L156.2,144.40 L155.2,144.40 L154.2,144.40 L153.2,144.40 L152.2,144.40 L151.2,144.40 L150.1,144.40 L149.1,144.40 L148.1,144.40 L147.1,144.40 L146.1,144.40 L145.1,144.40 L144.1,144.40 L143.1,144.40 L142.1,144.40 L141.1,144.40 L140.1,144.40 L139.1,144.40 L138.1,144.40 L137.1,144.40 L136.0,144.40 L135.0,144.40 L134.0,144.40 L133.0,144.40 L132.0,144.40 L131.0,144.40 L130.0,144.40Z" fill="#e8962c" opacity="1.0"/>
<circle cx="192.00" cy="139.00" r="0.85" fill="#111"/>
<circle cx="181.60" cy="143.30" r="0.85" fill="#111"/>
<line x1="119.60" y1="150.40" x2="123.40" y2="150.40" stroke="#333" stroke-width="0.7"/>
<text x="117.80" y="152.50" font-size="6" text-anchor="end" font-style="italic" fill="#333">Clostridium sensu stricto 1</text>
<text x="257.20" y="151.90" font-size="6" text-anchor="end" fill="#333">.010</text>
<path d="M162.0,148.05 L163.0,148.04 L164.0,148.02 L165.0,147.99 L166.0,147.96 L167.0,147.91 L168.0,147.86 L169.0,147.81 L170.0,147.75 L171.0,147.69 L172.0,147.64 L173.0,147.59 L174.0,147.54 L175.0,147.51 L176.0,147.48 L177.0,147.46 L178.0,147.45 L179.0,147.43 L180.0,147.39 L181.0,147.32 L182.0,147.24 L183.0,147.15 L184.0,147.05 L185.0,146.95 L186.0,146.86 L187.0,146.78 L188.0,146.71 L189.0,146.67 L190.0,146.65 L191.0,146.64 L192.0,146.63 L193.0,146.61 L194.0,146.58 L195.0,146.55 L196.0,146.52 L197.0,146.49 L198.0,146.47 L199.0,146.46 L200.0,146.45 L201.0,146.50 L202.0,146.63 L203.0,146.77 L204.0,146.90 L205.0,146.95 L206.0,147.15 L207.0,147.60 L208.0,148.05 L209.0,148.25 L209.0,148.25 L208.0,148.45 L207.0,148.90 L206.0,149.35 L205.0,149.55 L204.0,149.60 L203.0,149.73 L202.0,149.87 L201.0,150.00 L200.0,150.05 L199.0,150.04 L198.0,150.03 L197.0,150.01 L196.0,149.98 L195.0,149.95 L194.0,149.92 L193.0,149.89 L192.0,149.87 L191.0,149.86 L190.0,149.85 L189.0,149.83 L188.0,149.79 L187.0,149.72 L186.0,149.64 L185.0,149.55 L184.0,149.45 L183.0,149.35 L182.0,149.26 L181.0,149.18 L180.0,149.11 L179.0,149.07 L178.0,149.05 L177.0,149.04 L176.0,149.02 L175.0,148.99 L174.0,148.96 L173.0,148.91 L172.0,148.86 L171.0,148.81 L170.0,148.75 L169.0,148.69 L168.0,148.64 L167.0,148.59 L166.0,148.54 L165.0,148.51 L164.0,148.48 L163.0,148.46 L162.0,148.45Z" fill="#12584a" opacity="1.0"/>
<path d="M130.0,151.45 L131.0,151.45 L132.0,151.45 L133.0,151.45 L134.0,151.45 L135.0,151.45 L136.0,151.45 L137.0,151.45 L138.1,151.45 L139.1,151.45 L140.1,151.45 L141.1,151.45 L142.1,151.45 L143.1,151.45 L144.1,151.45 L145.1,151.45 L146.1,151.45 L147.1,151.45 L148.1,151.45 L149.1,151.45 L150.1,151.45 L151.1,151.45 L152.1,151.45 L153.1,151.45 L154.2,151.45 L155.2,151.45 L156.2,151.45 L157.2,151.45 L158.2,151.45 L159.2,151.45 L160.2,151.45 L161.2,151.45 L162.2,151.45 L163.2,151.45 L164.2,151.45 L165.2,151.45 L166.2,151.45 L167.2,151.45 L168.2,151.45 L169.3,151.45 L170.3,151.45 L171.3,151.45 L172.3,151.45 L173.3,151.45 L174.3,151.45 L175.3,151.45 L176.3,151.45 L177.3,151.45 L178.3,151.45 L179.3,151.45 L180.3,151.45 L181.3,151.45 L182.3,151.45 L183.3,151.45 L184.4,151.45 L185.4,151.45 L186.4,151.45 L187.4,151.45 L188.4,151.45 L189.4,151.45 L190.4,151.45 L191.4,151.45 L192.4,151.45 L193.4,151.45 L194.4,151.45 L195.4,151.45 L196.4,151.45 L197.4,151.45 L198.4,151.45 L199.4,151.45 L200.5,151.45 L201.5,151.45 L202.5,151.45 L203.5,151.45 L204.5,151.45 L205.5,151.45 L206.5,151.65 L207.5,152.25 L207.5,152.85 L206.5,153.45 L205.5,153.65 L204.5,153.65 L203.5,153.65 L202.5,153.65 L201.5,153.65 L200.5,153.65 L199.4,153.65 L198.4,153.65 L197.4,153.65 L196.4,153.65 L195.4,153.65 L194.4,153.65 L193.4,153.65 L192.4,153.65 L191.4,153.65 L190.4,153.65 L189.4,153.65 L188.4,153.65 L187.4,153.65 L186.4,153.65 L185.4,153.65 L184.4,153.65 L183.3,153.65 L182.3,153.65 L181.3,153.65 L180.3,153.65 L179.3,153.65 L178.3,153.65 L177.3,153.65 L176.3,153.65 L175.3,153.65 L174.3,153.65 L173.3,153.65 L172.3,153.65 L171.3,153.65 L170.3,153.65 L169.3,153.65 L168.2,153.65 L167.2,153.65 L166.2,153.65 L165.2,153.65 L164.2,153.65 L163.2,153.65 L162.2,153.65 L161.2,153.65 L160.2,153.65 L159.2,153.65 L158.2,153.65 L157.2,153.65 L156.2,153.65 L155.2,153.65 L154.2,153.65 L153.1,153.65 L152.1,153.65 L151.1,153.65 L150.1,153.65 L149.1,153.65 L148.1,153.65 L147.1,153.65 L146.1,153.65 L145.1,153.65 L144.1,153.65 L143.1,153.65 L142.1,153.65 L141.1,153.65 L140.1,153.65 L139.1,153.65 L138.1,153.65 L137.0,153.65 L136.0,153.65 L135.0,153.65 L134.0,153.65 L133.0,153.65 L132.0,153.65 L131.0,153.65 L130.0,153.65Z" fill="#e8962c" opacity="1.0"/>
<circle cx="193.00" cy="148.25" r="0.85" fill="#111"/>
<circle cx="181.00" cy="152.55" r="0.85" fill="#111"/>
<line x1="119.60" y1="159.65" x2="123.40" y2="159.65" stroke="#333" stroke-width="0.7"/>
<text x="117.80" y="161.75" font-size="6" text-anchor="end" font-style="italic" fill="#333">Ruminococcaceae NK4A214 group</text>
<text x="257.20" y="161.15" font-size="6" text-anchor="end" fill="#333">.042</text>
<path d="M130.0,156.60 L131.0,156.60 L132.0,156.60 L133.0,156.60 L134.0,156.60 L135.0,156.61 L136.0,156.61 L137.1,156.61 L138.1,156.62 L139.1,156.62 L140.1,156.63 L141.1,156.63 L142.1,156.64 L143.1,156.64 L144.1,156.65 L145.1,156.65 L146.1,156.66 L147.1,156.66 L148.1,156.67 L149.1,156.67 L150.1,156.67 L151.2,156.68 L152.2,156.68 L153.2,156.69 L154.2,156.69 L155.2,156.69 L156.2,156.70 L157.2,156.70 L158.2,156.70 L159.2,156.70 L160.2,156.70 L161.2,156.71 L162.2,156.74 L163.2,156.77 L164.3,156.81 L165.3,156.85 L166.3,156.88 L167.3,156.90 L168.3,156.90 L169.3,156.88 L170.3,156.85 L171.3,156.81 L172.3,156.75 L173.3,156.69 L174.3,156.63 L175.3,156.57 L176.3,156.51 L177.3,156.46 L178.4,156.43 L179.4,156.40 L180.4,156.40 L181.4,156.38 L182.4,156.35 L183.4,156.31 L184.4,156.25 L185.4,156.19 L186.4,156.13 L187.4,156.06 L188.4,155.99 L189.4,155.92 L190.4,155.85 L191.5,155.80 L192.5,155.75 L193.5,155.72 L194.5,155.70 L195.5,155.70 L196.5,155.69 L197.5,155.68 L198.5,155.67 L199.5,155.66 L200.5,155.64 L201.5,155.63 L202.5,155.62 L203.5,155.61 L204.5,155.60 L205.6,155.64 L206.6,155.87 L207.6,156.24 L208.6,156.67 L209.6,157.08 L210.6,157.38 L211.6,157.50 L211.6,157.50 L210.6,157.62 L209.6,157.92 L208.6,158.33 L207.6,158.76 L206.6,159.13 L205.6,159.36 L204.5,159.40 L203.5,159.39 L202.5,159.38 L201.5,159.37 L200.5,159.36 L199.5,159.34 L198.5,159.33 L197.5,159.32 L196.5,159.31 L195.5,159.30 L194.5,159.30 L193.5,159.28 L192.5,159.25 L191.5,159.20 L190.4,159.15 L189.4,159.08 L188.4,159.01 L187.4,158.94 L186.4,158.87 L185.4,158.81 L184.4,158.75 L183.4,158.69 L182.4,158.65 L181.4,158.62 L180.4,158.60 L179.4,158.60 L178.4,158.57 L177.3,158.54 L176.3,158.49 L175.3,158.43 L174.3,158.37 L173.3,158.31 L172.3,158.25 L171.3,158.19 L170.3,158.15 L169.3,158.12 L168.3,158.10 L167.3,158.10 L166.3,158.12 L165.3,158.15 L164.3,158.19 L163.2,158.23 L162.2,158.26 L161.2,158.29 L160.2,158.30 L159.2,158.30 L158.2,158.30 L157.2,158.30 L156.2,158.30 L155.2,158.31 L154.2,158.31 L153.2,158.31 L152.2,158.32 L151.2,158.32 L150.1,158.33 L149.1,158.33 L148.1,158.33 L147.1,158.34 L146.1,158.34 L145.1,158.35 L144.1,158.35 L143.1,158.36 L142.1,158.36 L141.1,158.37 L140.1,158.37 L139.1,158.38 L138.1,158.38 L137.1,158.39 L136.0,158.39 L135.0,158.39 L134.0,158.40 L133.0,158.40 L132.0,158.40 L131.0,158.40 L130.0,158.40Z" fill="#12584a" opacity="1.0"/>
<path d="M130.0,160.70 L131.0,160.70 L132.0,160.70 L133.0,160.70 L134.0,160.70 L135.0,160.70 L136.0,160.70 L137.0,160.70 L138.1,160.70 L139.1,160.70 L140.1,160.70 L141.1,160.70 L142.1,160.70 L143.1,160.70 L144.1,160.70 L145.1,160.70 L146.1,160.70 L147.1,160.70 L148.1,160.70 L149.1,160.70 L150.1,160.70 L151.1,160.70 L152.2,160.70 L153.2,160.70 L154.2,160.70 L155.2,160.70 L156.2,160.70 L157.2,160.70 L158.2,160.70 L159.2,160.70 L160.2,160.70 L161.2,160.70 L162.2,160.70 L163.2,160.70 L164.2,160.70 L165.2,160.70 L166.3,160.70 L167.3,160.70 L168.3,160.70 L169.3,160.70 L170.3,160.70 L171.3,160.70 L172.3,160.70 L173.3,160.70 L174.3,160.70 L175.3,160.70 L176.3,160.70 L177.3,160.70 L178.3,160.70 L179.3,160.70 L180.4,160.70 L181.4,160.70 L182.4,160.70 L183.4,160.70 L184.4,160.70 L185.4,160.70 L186.4,160.70 L187.4,160.70 L188.4,160.70 L189.4,160.70 L190.4,160.70 L191.4,160.70 L192.4,160.70 L193.4,160.70 L194.5,160.70 L195.5,160.70 L196.5,160.70 L197.5,160.70 L198.5,160.70 L199.5,160.70 L200.5,160.90 L201.5,161.50 L201.5,162.10 L200.5,162.70 L199.5,162.90 L198.5,162.90 L197.5,162.90 L196.5,162.90 L195.5,162.90 L194.5,162.90 L193.4,162.90 L192.4,162.90 L191.4,162.90 L190.4,162.90 L189.4,162.90 L188.4,162.90 L187.4,162.90 L186.4,162.90 L185.4,162.90 L184.4,162.90 L183.4,162.90 L182.4,162.90 L181.4,162.90 L180.4,162.90 L179.3,162.90 L178.3,162.90 L177.3,162.90 L176.3,162.90 L175.3,162.90 L174.3,162.90 L173.3,162.90 L172.3,162.90 L171.3,162.90 L170.3,162.90 L169.3,162.90 L168.3,162.90 L167.3,162.90 L166.3,162.90 L165.2,162.90 L164.2,162.90 L163.2,162.90 L162.2,162.90 L161.2,162.90 L160.2,162.90 L159.2,162.90 L158.2,162.90 L157.2,162.90 L156.2,162.90 L155.2,162.90 L154.2,162.90 L153.2,162.90 L152.2,162.90 L151.1,162.90 L150.1,162.90 L149.1,162.90 L148.1,162.90 L147.1,162.90 L146.1,162.90 L145.1,162.90 L144.1,162.90 L143.1,162.90 L142.1,162.90 L141.1,162.90 L140.1,162.90 L139.1,162.90 L138.1,162.90 L137.0,162.90 L136.0,162.90 L135.0,162.90 L134.0,162.90 L133.0,162.90 L132.0,162.90 L131.0,162.90 L130.0,162.90Z" fill="#e8962c" opacity="1.0"/>
<circle cx="187.80" cy="157.50" r="0.85" fill="#111"/>
<circle cx="174.60" cy="161.80" r="0.85" fill="#111"/>
<line x1="119.60" y1="168.90" x2="123.40" y2="168.90" stroke="#333" stroke-width="0.7"/>
<text x="117.80" y="171.00" font-size="6" text-anchor="end" font-style="italic" fill="#333">Lachnospiraceae ND3007 group</text>
<text x="257.20" y="170.40" font-size="6" text-anchor="end" fill="#333">.006</text>
<path d="M130.0,165.85 L131.0,165.86 L132.0,165.90 L133.0,165.96 L134.0,166.03 L135.0,166.12 L136.0,166.21 L137.0,166.30 L138.1,166.39 L139.1,166.47 L140.1,166.55 L141.1,166.60 L142.1,166.64 L143.1,166.65 L144.1,166.65 L145.1,166.65 L146.1,166.65 L147.1,166.65 L148.1,166.65 L149.1,166.65 L150.1,166.65 L151.1,166.65 L152.1,166.65 L153.2,166.65 L154.2,166.65 L155.2,166.65 L156.2,166.65 L157.2,166.65 L158.2,166.65 L159.2,166.65 L160.2,166.65 L161.2,166.65 L162.2,166.65 L163.2,166.65 L164.2,166.65 L165.2,166.65 L166.2,166.65 L167.2,166.65 L168.3,166.65 L169.3,166.65 L170.3,166.65 L171.3,166.65 L172.3,166.65 L173.3,166.65 L174.3,166.65 L175.3,166.65 L176.3,166.65 L177.3,166.65 L178.3,166.65 L179.3,166.65 L180.3,166.65 L181.3,166.60 L182.3,166.51 L183.4,166.39 L184.4,166.25 L185.4,166.10 L186.4,165.95 L187.4,165.82 L188.4,165.72 L189.4,165.66 L190.4,165.64 L191.4,165.59 L192.4,165.50 L193.4,165.38 L194.4,165.24 L195.4,165.12 L196.4,165.02 L197.4,164.96 L198.5,164.96 L199.5,165.07 L200.5,165.22 L201.5,165.33 L202.5,165.42 L203.5,165.89 L204.5,166.47 L205.5,166.75 L205.5,166.75 L204.5,167.03 L203.5,167.61 L202.5,168.08 L201.5,168.17 L200.5,168.28 L199.5,168.43 L198.5,168.54 L197.4,168.54 L196.4,168.48 L195.4,168.38 L194.4,168.26 L193.4,168.12 L192.4,168.00 L191.4,167.91 L190.4,167.86 L189.4,167.84 L188.4,167.78 L187.4,167.68 L186.4,167.55 L185.4,167.40 L184.4,167.25 L183.4,167.11 L182.3,166.99 L181.3,166.90 L180.3,166.85 L179.3,166.85 L178.3,166.85 L177.3,166.85 L176.3,166.85 L175.3,166.85 L174.3,166.85 L173.3,166.85 L172.3,166.85 L171.3,166.85 L170.3,166.85 L169.3,166.85 L168.3,166.85 L167.2,166.85 L166.2,166.85 L165.2,166.85 L164.2,166.85 L163.2,166.85 L162.2,166.85 L161.2,166.85 L160.2,166.85 L159.2,166.85 L158.2,166.85 L157.2,166.85 L156.2,166.85 L155.2,166.85 L154.2,166.85 L153.2,166.85 L152.1,166.85 L151.1,166.85 L150.1,166.85 L149.1,166.85 L148.1,166.85 L147.1,166.85 L146.1,166.85 L145.1,166.85 L144.1,166.85 L143.1,166.85 L142.1,166.86 L141.1,166.90 L140.1,166.95 L139.1,167.03 L138.1,167.11 L137.0,167.20 L136.0,167.29 L135.0,167.38 L134.0,167.47 L133.0,167.54 L132.0,167.60 L131.0,167.64 L130.0,167.65Z" fill="#12584a" opacity="1.0"/>
<path d="M130.0,169.95 L131.0,169.95 L132.0,169.95 L133.0,169.95 L134.0,169.95 L135.0,169.95 L136.0,169.95 L137.1,169.95 L138.1,169.95 L139.1,169.95 L140.1,169.95 L141.1,169.95 L142.1,169.95 L143.1,169.95 L144.1,169.95 L145.1,169.95 L146.1,169.95 L147.1,169.95 L148.1,169.95 L149.1,169.95 L150.1,169.95 L151.2,169.95 L152.2,169.95 L153.2,169.95 L154.2,169.95 L155.2,169.95 L156.2,169.95 L157.2,169.95 L158.2,169.95 L159.2,169.95 L160.2,169.95 L161.2,169.95 L162.2,169.95 L163.2,169.95 L164.2,169.95 L165.3,169.95 L166.3,169.95 L167.3,169.95 L168.3,169.95 L169.3,169.95 L170.3,169.95 L171.3,169.95 L172.3,169.95 L173.3,169.95 L174.3,169.95 L175.3,169.95 L176.3,169.95 L177.3,169.95 L178.3,169.95 L179.4,169.95 L180.4,169.95 L181.4,169.95 L182.4,169.95 L183.4,169.95 L184.4,169.95 L185.4,169.95 L186.4,169.95 L187.4,169.95 L188.4,169.95 L189.4,169.95 L190.4,169.95 L191.4,169.95 L192.4,169.95 L193.5,169.95 L194.5,169.95 L195.5,169.95 L196.5,169.95 L197.5,169.95 L198.5,170.15 L199.5,170.75 L199.5,171.35 L198.5,171.95 L197.5,172.15 L196.5,172.15 L195.5,172.15 L194.5,172.15 L193.5,172.15 L192.4,172.15 L191.4,172.15 L190.4,172.15 L189.4,172.15 L188.4,172.15 L187.4,172.15 L186.4,172.15 L185.4,172.15 L184.4,172.15 L183.4,172.15 L182.4,172.15 L181.4,172.15 L180.4,172.15 L179.4,172.15 L178.3,172.15 L177.3,172.15 L176.3,172.15 L175.3,172.15 L174.3,172.15 L173.3,172.15 L172.3,172.15 L171.3,172.15 L170.3,172.15 L169.3,172.15 L168.3,172.15 L167.3,172.15 L166.3,172.15 L165.3,172.15 L164.2,172.15 L163.2,172.15 L162.2,172.15 L161.2,172.15 L160.2,172.15 L159.2,172.15 L158.2,172.15 L157.2,172.15 L156.2,172.15 L155.2,172.15 L154.2,172.15 L153.2,172.15 L152.2,172.15 L151.2,172.15 L150.1,172.15 L149.1,172.15 L148.1,172.15 L147.1,172.15 L146.1,172.15 L145.1,172.15 L144.1,172.15 L143.1,172.15 L142.1,172.15 L141.1,172.15 L140.1,172.15 L139.1,172.15 L138.1,172.15 L137.1,172.15 L136.0,172.15 L135.0,172.15 L134.0,172.15 L133.0,172.15 L132.0,172.15 L131.0,172.15 L130.0,172.15Z" fill="#e8962c" opacity="1.0"/>
<circle cx="198.90" cy="166.75" r="0.85" fill="#111"/>
<circle cx="162.40" cy="171.05" r="0.85" fill="#111"/>
<line x1="119.60" y1="178.15" x2="123.40" y2="178.15" stroke="#333" stroke-width="0.7"/>
<text x="117.80" y="180.25" font-size="6" text-anchor="end" font-style="italic" fill="#333">Erysipelatoclostridium</text>
<text x="257.20" y="179.65" font-size="6" text-anchor="end" fill="#333">&lt;.001</text>
<path d="M130.0,174.40 L131.0,174.41 L132.0,174.44 L133.0,174.49 L134.0,174.54 L135.1,174.60 L136.1,174.66 L137.1,174.72 L138.1,174.76 L139.1,174.79 L140.1,174.80 L141.1,174.82 L142.1,174.86 L143.1,174.92 L144.1,174.99 L145.2,175.08 L146.2,175.16 L147.2,175.25 L148.2,175.33 L149.2,175.40 L150.2,175.46 L151.2,175.49 L152.2,175.50 L153.2,175.50 L154.2,175.51 L155.3,175.51 L156.3,175.52 L157.3,175.53 L158.3,175.54 L159.3,175.55 L160.3,175.56 L161.3,175.57 L162.3,175.58 L163.3,175.60 L164.3,175.61 L165.4,175.62 L166.4,175.64 L167.4,175.65 L168.4,175.66 L169.4,175.67 L170.4,175.68 L171.4,175.69 L172.4,175.69 L173.4,175.70 L174.4,175.70 L175.5,175.70 L176.5,175.70 L177.5,175.70 L178.5,175.71 L179.5,175.71 L180.5,175.72 L181.5,175.72 L182.5,175.73 L183.5,175.73 L184.5,175.74 L185.6,175.74 L186.6,175.74 L187.6,175.75 L188.6,175.75 L189.6,175.75 L189.6,176.25 L188.6,176.25 L187.6,176.25 L186.6,176.26 L185.6,176.26 L184.5,176.26 L183.5,176.27 L182.5,176.27 L181.5,176.28 L180.5,176.28 L179.5,176.29 L178.5,176.29 L177.5,176.30 L176.5,176.30 L175.5,176.30 L174.4,176.30 L173.4,176.30 L172.4,176.31 L171.4,176.31 L170.4,176.32 L169.4,176.33 L168.4,176.34 L167.4,176.35 L166.4,176.36 L165.4,176.38 L164.3,176.39 L163.3,176.40 L162.3,176.42 L161.3,176.43 L160.3,176.44 L159.3,176.45 L158.3,176.46 L157.3,176.47 L156.3,176.48 L155.3,176.49 L154.2,176.49 L153.2,176.50 L152.2,176.50 L151.2,176.51 L150.2,176.54 L149.2,176.60 L148.2,176.67 L147.2,176.75 L146.2,176.84 L145.2,176.92 L144.1,177.01 L143.1,177.08 L142.1,177.14 L141.1,177.18 L140.1,177.20 L139.1,177.21 L138.1,177.24 L137.1,177.28 L136.1,177.34 L135.1,177.40 L134.0,177.46 L133.0,177.51 L132.0,177.56 L131.0,177.59 L130.0,177.60Z" fill="#12584a" opacity="1.0"/>
<path d="M130.0,180.20 L131.0,180.20 L132.0,180.19 L133.0,180.19 L134.0,180.18 L135.0,180.16 L136.0,180.15 L137.0,180.13 L138.0,180.11 L139.0,180.09 L140.0,180.07 L141.0,180.05 L142.0,180.02 L143.0,180.00 L144.0,179.97 L145.0,179.95 L146.0,179.93 L147.0,179.90 L148.0,179.88 L149.0,179.85 L150.0,179.83 L151.0,179.81 L152.0,179.79 L153.0,179.77 L154.0,179.75 L155.0,179.74 L156.0,179.72 L157.0,179.71 L158.0,179.71 L159.0,179.70 L160.0,179.70 L161.0,179.69 L162.0,179.66 L163.0,179.61 L164.0,179.56 L165.0,179.50 L166.0,179.44 L167.0,179.39 L168.0,179.34 L169.0,179.31 L170.0,179.30 L171.0,179.30 L172.0,179.29 L173.0,179.28 L174.0,179.26 L175.0,179.24 L176.0,179.21 L177.0,179.19 L178.0,179.16 L179.0,179.13 L180.0,179.10 L181.0,179.07 L182.0,179.04 L183.0,179.01 L184.0,178.99 L185.0,178.96 L186.0,178.94 L187.0,178.92 L188.0,178.91 L189.0,178.90 L190.0,178.90 L191.0,178.90 L192.0,178.89 L193.0,178.88 L194.0,178.86 L195.0,178.85 L196.0,178.83 L197.0,178.81 L198.0,178.79 L199.0,178.77 L200.0,178.75 L201.0,178.74 L202.0,178.72 L203.0,178.71 L204.0,178.70 L205.0,178.70 L206.0,178.71 L207.0,178.74 L208.0,178.79 L209.0,178.84 L210.0,178.90 L211.0,178.96 L212.0,179.01 L213.0,179.06 L214.0,179.09 L215.0,179.10 L216.0,179.19 L217.0,179.41 L218.0,179.70 L219.0,179.99 L220.0,180.21 L221.0,180.30 L221.0,180.30 L220.0,180.39 L219.0,180.61 L218.0,180.90 L217.0,181.19 L216.0,181.41 L215.0,181.50 L214.0,181.51 L213.0,181.54 L212.0,181.59 L211.0,181.64 L210.0,181.70 L209.0,181.76 L208.0,181.81 L207.0,181.86 L206.0,181.89 L205.0,181.90 L204.0,181.90 L203.0,181.89 L202.0,181.88 L201.0,181.86 L200.0,181.85 L199.0,181.83 L198.0,181.81 L197.0,181.79 L196.0,181.77 L195.0,181.75 L194.0,181.74 L193.0,181.72 L192.0,181.71 L191.0,181.70 L190.0,181.70 L189.0,181.70 L188.0,181.69 L187.0,181.68 L186.0,181.66 L185.0,181.64 L184.0,181.61 L183.0,181.59 L182.0,181.56 L181.0,181.53 L180.0,181.50 L179.0,181.47 L178.0,181.44 L177.0,181.41 L176.0,181.39 L175.0,181.36 L174.0,181.34 L173.0,181.32 L172.0,181.31 L171.0,181.30 L170.0,181.30 L169.0,181.29 L168.0,181.26 L167.0,181.21 L166.0,181.16 L165.0,181.10 L164.0,181.04 L163.0,180.99 L162.0,180.94 L161.0,180.91 L160.0,180.90 L159.0,180.90 L158.0,180.89 L157.0,180.89 L156.0,180.88 L155.0,180.86 L154.0,180.85 L153.0,180.83 L152.0,180.81 L151.0,180.79 L150.0,180.77 L149.0,180.75 L148.0,180.72 L147.0,180.70 L146.0,180.67 L145.0,180.65 L144.0,180.63 L143.0,180.60 L142.0,180.58 L141.0,180.55 L140.0,180.53 L139.0,180.51 L138.0,180.49 L137.0,180.47 L136.0,180.45 L135.0,180.44 L134.0,180.42 L133.0,180.41 L132.0,180.41 L131.0,180.40 L130.0,180.40Z" fill="#e8962c" opacity="1.0"/>
<circle cx="130.50" cy="176.00" r="0.85" fill="#111"/>
<circle cx="190.00" cy="180.30" r="0.85" fill="#111"/>
<line x1="119.60" y1="187.40" x2="123.40" y2="187.40" stroke="#333" stroke-width="0.7"/>
<text x="117.80" y="189.50" font-size="6" text-anchor="end" font-style="italic" fill="#333">Ruminiclostridium 6</text>
<text x="257.20" y="188.90" font-size="6" text-anchor="end" fill="#333">.014</text>
<path d="M130.0,184.35 L131.0,184.35 L132.0,184.36 L133.0,184.37 L134.0,184.38 L135.0,184.40 L136.0,184.41 L137.0,184.43 L138.0,184.46 L139.0,184.48 L140.0,184.50 L141.0,184.52 L142.0,184.54 L143.0,184.57 L144.0,184.59 L145.0,184.60 L146.0,184.62 L147.0,184.63 L148.0,184.64 L149.0,184.65 L150.0,184.65 L151.0,184.65 L152.0,184.65 L153.0,184.65 L154.0,184.65 L155.0,184.65 L156.0,184.65 L157.0,184.65 L158.0,184.65 L159.0,184.65 L160.0,184.65 L161.0,184.64 L162.0,184.60 L163.0,184.54 L164.0,184.47 L165.0,184.40 L166.0,184.33 L167.0,184.26 L168.0,184.20 L169.0,184.16 L170.0,184.15 L171.0,184.15 L172.0,184.14 L173.0,184.12 L174.0,184.10 L175.0,184.07 L176.0,184.04 L177.0,184.01 L178.0,183.99 L179.0,183.96 L180.0,183.93 L181.0,183.90 L182.0,183.88 L183.0,183.86 L184.0,183.85 L185.0,183.85 L186.0,183.85 L187.0,183.85 L188.0,183.85 L189.0,183.85 L190.0,183.85 L191.0,183.85 L192.0,183.85 L193.0,183.85 L194.0,183.85 L195.0,183.85 L196.0,184.07 L197.0,184.55 L198.0,185.03 L199.0,185.25 L199.0,185.25 L198.0,185.47 L197.0,185.95 L196.0,186.43 L195.0,186.65 L194.0,186.65 L193.0,186.65 L192.0,186.65 L191.0,186.65 L190.0,186.65 L189.0,186.65 L188.0,186.65 L187.0,186.65 L186.0,186.65 L185.0,186.65 L184.0,186.65 L183.0,186.64 L182.0,186.62 L181.0,186.60 L180.0,186.57 L179.0,186.54 L178.0,186.51 L177.0,186.49 L176.0,186.46 L175.0,186.43 L174.0,186.40 L173.0,186.38 L172.0,186.36 L171.0,186.35 L170.0,186.35 L169.0,186.34 L168.0,186.30 L167.0,186.24 L166.0,186.17 L165.0,186.10 L164.0,186.03 L163.0,185.96 L162.0,185.90 L161.0,185.86 L160.0,185.85 L159.0,185.85 L158.0,185.85 L157.0,185.85 L156.0,185.85 L155.0,185.85 L154.0,185.85 L153.0,185.85 L152.0,185.85 L151.0,185.85 L150.0,185.85 L149.0,185.85 L148.0,185.86 L147.0,185.87 L146.0,185.88 L145.0,185.90 L144.0,185.91 L143.0,185.93 L142.0,185.96 L141.0,185.98 L140.0,186.00 L139.0,186.02 L138.0,186.04 L137.0,186.07 L136.0,186.09 L135.0,186.10 L134.0,186.12 L133.0,186.13 L132.0,186.14 L131.0,186.15 L130.0,186.15Z" fill="#12584a" opacity="1.0"/>
<path d="M130.0,188.25 L131.0,188.25 L132.0,188.25 L133.0,188.25 L134.0,188.25 L135.0,188.25 L136.0,188.25 L137.0,188.25 L138.1,188.25 L139.1,188.25 L140.1,188.26 L141.1,188.26 L142.1,188.26 L143.1,188.26 L144.1,188.26 L145.1,188.26 L146.1,188.26 L147.1,188.26 L148.1,188.27 L149.1,188.27 L150.1,188.27 L151.1,188.27 L152.2,188.27 L153.2,188.27 L154.2,188.28 L155.2,188.28 L156.2,188.28 L157.2,188.28 L158.2,188.28 L159.2,188.29 L160.2,188.29 L161.2,188.29 L162.2,188.29 L163.2,188.30 L164.2,188.30 L165.2,188.30 L166.2,188.30 L167.3,188.30 L168.3,188.31 L169.3,188.31 L170.3,188.31 L171.3,188.31 L172.3,188.31 L173.3,188.32 L174.3,188.32 L175.3,188.32 L176.3,188.32 L177.3,188.32 L178.3,188.33 L179.3,188.33 L180.3,188.33 L181.4,188.33 L182.4,188.33 L183.4,188.33 L184.4,188.34 L185.4,188.34 L186.4,188.34 L187.4,188.34 L188.4,188.34 L189.4,188.34 L190.4,188.34 L191.4,188.35 L192.4,188.35 L193.4,188.35 L194.4,188.35 L195.5,188.35 L196.5,188.35 L197.5,188.35 L198.5,188.35 L199.5,188.35 L200.5,188.35 L201.5,188.58 L202.5,189.25 L202.5,189.85 L201.5,190.52 L200.5,190.75 L199.5,190.75 L198.5,190.75 L197.5,190.75 L196.5,190.75 L195.5,190.75 L194.4,190.75 L193.4,190.75 L192.4,190.75 L191.4,190.75 L190.4,190.76 L189.4,190.76 L188.4,190.76 L187.4,190.76 L186.4,190.76 L185.4,190.76 L184.4,190.76 L183.4,190.77 L182.4,190.77 L181.4,190.77 L180.3,190.77 L179.3,190.77 L178.3,190.77 L177.3,190.78 L176.3,190.78 L175.3,190.78 L174.3,190.78 L173.3,190.78 L172.3,190.79 L171.3,190.79 L170.3,190.79 L169.3,190.79 L168.3,190.79 L167.3,190.80 L166.2,190.80 L165.2,190.80 L164.2,190.80 L163.2,190.80 L162.2,190.81 L161.2,190.81 L160.2,190.81 L159.2,190.81 L158.2,190.82 L157.2,190.82 L156.2,190.82 L155.2,190.82 L154.2,190.82 L153.2,190.83 L152.2,190.83 L151.1,190.83 L150.1,190.83 L149.1,190.83 L148.1,190.83 L147.1,190.84 L146.1,190.84 L145.1,190.84 L144.1,190.84 L143.1,190.84 L142.1,190.84 L141.1,190.84 L140.1,190.84 L139.1,190.85 L138.1,190.85 L137.0,190.85 L136.0,190.85 L135.0,190.85 L134.0,190.85 L133.0,190.85 L132.0,190.85 L131.0,190.85 L130.0,190.85Z" fill="#e8962c" opacity="1.0"/>
<circle cx="188.50" cy="185.25" r="0.85" fill="#111"/>
<circle cx="130.50" cy="189.55" r="0.85" fill="#111"/>
<line x1="119.60" y1="196.65" x2="123.40" y2="196.65" stroke="#333" stroke-width="0.7"/>
<text x="117.80" y="198.75" font-size="6" text-anchor="end" font-style="italic" fill="#333">Romboutsia</text>
<text x="257.20" y="198.15" font-size="6" text-anchor="end" fill="#333">.007</text>
<path d="M130.0,193.50 L131.0,193.53 L132.0,193.59 L133.0,193.69 L134.0,193.82 L135.0,193.95 L136.0,194.08 L137.0,194.21 L138.0,194.31 L139.0,194.37 L140.0,194.40 L141.0,194.40 L142.0,194.40 L143.0,194.40 L144.0,194.40 L145.0,194.40 L146.0,194.40 L147.0,194.40 L148.0,194.40 L149.0,194.40 L150.0,194.40 L151.0,194.40 L152.0,194.40 L153.0,194.40 L154.0,194.40 L155.0,194.40 L156.0,194.40 L157.0,194.40 L158.0,194.40 L159.0,194.40 L160.0,194.40 L161.0,194.40 L162.0,194.40 L163.0,194.40 L164.0,194.40 L165.0,194.40 L166.0,194.40 L167.0,194.40 L168.0,194.40 L169.0,194.40 L170.0,194.40 L171.0,194.40 L172.0,194.40 L173.0,194.40 L174.0,194.40 L175.0,194.40 L176.0,194.40 L177.0,194.37 L178.0,194.29 L179.0,194.17 L180.0,194.02 L181.0,193.88 L182.0,193.73 L183.0,193.61 L184.0,193.53 L185.0,193.50 L186.0,193.48 L187.0,193.42 L188.0,193.33 L189.0,193.22 L190.0,193.10 L191.0,192.98 L192.0,192.87 L193.0,192.78 L194.0,192.72 L195.0,192.70 L196.0,192.72 L197.0,192.76 L198.0,192.83 L199.0,192.90 L200.0,192.97 L201.0,193.04 L202.0,193.08 L203.0,193.10 L204.0,193.25 L205.0,193.59 L206.0,194.01 L207.0,194.35 L208.0,194.50 L208.0,194.50 L207.0,194.65 L206.0,194.99 L205.0,195.41 L204.0,195.75 L203.0,195.90 L202.0,195.92 L201.0,195.96 L200.0,196.03 L199.0,196.10 L198.0,196.17 L197.0,196.24 L196.0,196.28 L195.0,196.30 L194.0,196.28 L193.0,196.22 L192.0,196.13 L191.0,196.02 L190.0,195.90 L189.0,195.78 L188.0,195.67 L187.0,195.58 L186.0,195.52 L185.0,195.50 L184.0,195.47 L183.0,195.39 L182.0,195.27 L181.0,195.12 L180.0,194.98 L179.0,194.83 L178.0,194.71 L177.0,194.63 L176.0,194.60 L175.0,194.60 L174.0,194.60 L173.0,194.60 L172.0,194.60 L171.0,194.60 L170.0,194.60 L169.0,194.60 L168.0,194.60 L167.0,194.60 L166.0,194.60 L165.0,194.60 L164.0,194.60 L163.0,194.60 L162.0,194.60 L161.0,194.60 L160.0,194.60 L159.0,194.60 L158.0,194.60 L157.0,194.60 L156.0,194.60 L155.0,194.60 L154.0,194.60 L153.0,194.60 L152.0,194.60 L151.0,194.60 L150.0,194.60 L149.0,194.60 L148.0,194.60 L147.0,194.60 L146.0,194.60 L145.0,194.60 L144.0,194.60 L143.0,194.60 L142.0,194.60 L141.0,194.60 L140.0,194.60 L139.0,194.63 L138.0,194.69 L137.0,194.79 L136.0,194.92 L135.0,195.05 L134.0,195.18 L133.0,195.31 L132.0,195.41 L131.0,195.47 L130.0,195.50Z" fill="#12584a" opacity="1.0"/>
<path d="M130.0,197.60 L131.0,197.60 L132.0,197.60 L133.0,197.60 L134.0,197.60 L135.0,197.60 L136.0,197.60 L137.1,197.60 L138.1,197.60 L139.1,197.60 L140.1,197.60 L141.1,197.60 L142.1,197.60 L143.1,197.60 L144.1,197.60 L145.1,197.60 L146.1,197.60 L147.1,197.60 L148.1,197.60 L149.1,197.60 L150.2,197.60 L151.2,197.60 L152.2,197.60 L153.2,197.60 L154.2,197.60 L155.2,197.60 L156.2,197.60 L157.2,197.60 L158.2,197.60 L159.2,197.60 L160.2,197.60 L161.2,197.60 L162.2,197.60 L163.3,197.60 L164.3,197.60 L165.3,197.60 L166.3,197.60 L167.3,197.60 L168.3,197.60 L169.3,197.60 L170.3,197.60 L171.3,197.60 L172.3,197.60 L173.3,197.60 L174.3,197.60 L175.3,197.60 L176.4,197.60 L177.4,197.60 L178.4,197.60 L179.4,197.60 L180.4,197.60 L181.4,197.60 L182.4,197.60 L183.4,197.60 L184.4,197.60 L185.4,197.60 L186.4,197.60 L187.4,197.60 L188.4,197.60 L189.5,197.60 L190.5,197.60 L191.5,197.60 L192.5,197.60 L193.5,197.60 L194.5,197.83 L195.5,198.50 L195.5,199.10 L194.5,199.77 L193.5,200.00 L192.5,200.00 L191.5,200.00 L190.5,200.00 L189.5,200.00 L188.4,200.00 L187.4,200.00 L186.4,200.00 L185.4,200.00 L184.4,200.00 L183.4,200.00 L182.4,200.00 L181.4,200.00 L180.4,200.00 L179.4,200.00 L178.4,200.00 L177.4,200.00 L176.4,200.00 L175.3,200.00 L174.3,200.00 L173.3,200.00 L172.3,200.00 L171.3,200.00 L170.3,200.00 L169.3,200.00 L168.3,200.00 L167.3,200.00 L166.3,200.00 L165.3,200.00 L164.3,200.00 L163.3,200.00 L162.2,200.00 L161.2,200.00 L160.2,200.00 L159.2,200.00 L158.2,200.00 L157.2,200.00 L156.2,200.00 L155.2,200.00 L154.2,200.00 L153.2,200.00 L152.2,200.00 L151.2,200.00 L150.2,200.00 L149.1,200.00 L148.1,200.00 L147.1,200.00 L146.1,200.00 L145.1,200.00 L144.1,200.00 L143.1,200.00 L142.1,200.00 L141.1,200.00 L140.1,200.00 L139.1,200.00 L138.1,200.00 L137.1,200.00 L136.0,200.00 L135.0,200.00 L134.0,200.00 L133.0,200.00 L132.0,200.00 L131.0,200.00 L130.0,200.00Z" fill="#e8962c" opacity="1.0"/>
<circle cx="192.00" cy="194.50" r="0.85" fill="#111"/>
<circle cx="130.50" cy="198.80" r="0.85" fill="#111"/>
<line x1="119.60" y1="205.90" x2="123.40" y2="205.90" stroke="#333" stroke-width="0.7"/>
<text x="117.80" y="208.00" font-size="6" text-anchor="end" font-style="italic" fill="#333">Eggerthella</text>
<text x="257.20" y="207.40" font-size="6" text-anchor="end" fill="#333">.006</text>
<path d="M130.0,202.25 L131.0,202.25 L132.0,202.26 L133.0,202.28 L134.0,202.30 L135.0,202.33 L136.1,202.36 L137.1,202.39 L138.1,202.43 L139.1,202.47 L140.1,202.50 L141.1,202.54 L142.1,202.58 L143.1,202.61 L144.1,202.65 L145.1,202.68 L146.1,202.70 L147.2,202.72 L148.2,202.74 L149.2,202.75 L150.2,202.75 L151.2,202.75 L152.2,202.76 L153.2,202.76 L154.2,202.77 L155.2,202.78 L156.2,202.80 L157.2,202.81 L158.3,202.82 L159.3,202.84 L160.3,202.85 L161.3,202.87 L162.3,202.88 L163.3,202.90 L164.3,202.91 L165.3,202.92 L166.3,202.93 L167.3,202.94 L168.3,202.95 L169.4,202.95 L170.4,202.95 L171.4,202.95 L172.4,202.95 L173.4,202.95 L174.4,202.95 L175.4,202.95 L176.4,202.95 L177.4,202.95 L178.4,202.95 L179.4,202.95 L180.5,202.95 L181.5,202.95 L182.5,202.95 L183.5,202.95 L184.5,203.10 L185.5,203.55 L185.5,203.95 L184.5,204.40 L183.5,204.55 L182.5,204.55 L181.5,204.55 L180.5,204.55 L179.4,204.55 L178.4,204.55 L177.4,204.55 L176.4,204.55 L175.4,204.55 L174.4,204.55 L173.4,204.55 L172.4,204.55 L171.4,204.55 L170.4,204.55 L169.4,204.55 L168.3,204.55 L167.3,204.56 L166.3,204.57 L165.3,204.58 L164.3,204.59 L163.3,204.60 L162.3,204.62 L161.3,204.63 L160.3,204.65 L159.3,204.66 L158.3,204.68 L157.2,204.69 L156.2,204.70 L155.2,204.72 L154.2,204.73 L153.2,204.74 L152.2,204.74 L151.2,204.75 L150.2,204.75 L149.2,204.75 L148.2,204.76 L147.2,204.78 L146.1,204.80 L145.1,204.82 L144.1,204.85 L143.1,204.89 L142.1,204.92 L141.1,204.96 L140.1,205.00 L139.1,205.03 L138.1,205.07 L137.1,205.11 L136.1,205.14 L135.0,205.17 L134.0,205.20 L133.0,205.22 L132.0,205.24 L131.0,205.25 L130.0,205.25Z" fill="#12584a" opacity="1.0"/>
<path d="M130.0,207.55 L131.0,207.55 L132.0,207.55 L133.0,207.54 L134.0,207.54 L135.0,207.53 L136.1,207.53 L137.1,207.52 L138.1,207.51 L139.1,207.51 L140.1,207.50 L141.1,207.49 L142.1,207.48 L143.1,207.47 L144.1,207.46 L145.1,207.45 L146.1,207.44 L147.2,207.43 L148.2,207.42 L149.2,207.41 L150.2,207.40 L151.2,207.39 L152.2,207.38 L153.2,207.38 L154.2,207.37 L155.2,207.36 L156.2,207.36 L157.2,207.35 L158.3,207.35 L159.3,207.35 L160.3,207.35 L161.3,207.35 L162.3,207.34 L163.3,207.32 L164.3,207.30 L165.3,207.28 L166.3,207.26 L167.3,207.23 L168.3,207.20 L169.4,207.17 L170.4,207.14 L171.4,207.11 L172.4,207.08 L173.4,207.05 L174.4,207.03 L175.4,207.00 L176.4,206.98 L177.4,206.97 L178.4,206.96 L179.4,206.95 L180.5,206.95 L181.5,206.95 L182.5,206.95 L183.5,206.95 L184.5,206.94 L185.5,206.94 L186.5,206.93 L187.5,206.93 L188.5,206.92 L189.5,206.92 L190.5,206.91 L191.6,206.91 L192.6,206.90 L193.6,206.90 L194.6,206.89 L195.6,206.89 L196.6,206.88 L197.6,206.87 L198.6,206.87 L199.6,206.87 L200.6,206.86 L201.6,206.86 L202.7,206.85 L203.7,206.85 L204.7,206.85 L205.7,206.85 L206.7,207.18 L207.7,207.75 L207.7,208.35 L206.7,208.92 L205.7,209.25 L204.7,209.25 L203.7,209.25 L202.7,209.25 L201.6,209.24 L200.6,209.24 L199.6,209.23 L198.6,209.23 L197.6,209.23 L196.6,209.22 L195.6,209.21 L194.6,209.21 L193.6,209.20 L192.6,209.20 L191.6,209.19 L190.5,209.19 L189.5,209.18 L188.5,209.18 L187.5,209.17 L186.5,209.17 L185.5,209.16 L184.5,209.16 L183.5,209.15 L182.5,209.15 L181.5,209.15 L180.5,209.15 L179.4,209.15 L178.4,209.14 L177.4,209.13 L176.4,209.12 L175.4,209.10 L174.4,209.07 L173.4,209.05 L172.4,209.02 L171.4,208.99 L170.4,208.96 L169.4,208.93 L168.3,208.90 L167.3,208.87 L166.3,208.84 L165.3,208.82 L164.3,208.80 L163.3,208.78 L162.3,208.76 L161.3,208.75 L160.3,208.75 L159.3,208.75 L158.3,208.75 L157.2,208.75 L156.2,208.74 L155.2,208.74 L154.2,208.73 L153.2,208.72 L152.2,208.72 L151.2,208.71 L150.2,208.70 L149.2,208.69 L148.2,208.68 L147.2,208.67 L146.1,208.66 L145.1,208.65 L144.1,208.64 L143.1,208.63 L142.1,208.62 L141.1,208.61 L140.1,208.60 L139.1,208.59 L138.1,208.59 L137.1,208.58 L136.1,208.57 L135.0,208.57 L134.0,208.56 L133.0,208.56 L132.0,208.55 L131.0,208.55 L130.0,208.55Z" fill="#e8962c" opacity="1.0"/>
<circle cx="130.50" cy="203.75" r="0.85" fill="#111"/>
<circle cx="186.20" cy="208.05" r="0.85" fill="#111"/>
<line x1="119.60" y1="215.15" x2="123.40" y2="215.15" stroke="#333" stroke-width="0.7"/>
<text x="117.80" y="217.25" font-size="6" text-anchor="end" font-style="italic" fill="#333">Enterococcus</text>
<text x="257.20" y="216.65" font-size="6" text-anchor="end" fill="#333">.047</text>
<path d="M130.0,211.30 L131.0,211.31 L132.0,211.33 L133.0,211.37 L134.0,211.41 L135.0,211.45 L136.0,211.50 L137.0,211.54 L138.0,211.57 L139.0,211.59 L140.0,211.60 L141.0,211.60 L142.0,211.61 L143.0,211.62 L144.1,211.64 L145.1,211.66 L146.1,211.69 L147.1,211.72 L148.1,211.75 L149.1,211.78 L150.1,211.81 L151.1,211.85 L152.1,211.89 L153.1,211.92 L154.1,211.96 L155.1,211.99 L156.1,212.03 L157.1,212.06 L158.1,212.09 L159.1,212.12 L160.1,212.14 L161.1,212.16 L162.1,212.18 L163.1,212.19 L164.1,212.20 L165.1,212.20 L166.1,212.20 L167.1,212.21 L168.1,212.21 L169.1,212.22 L170.2,212.23 L171.2,212.25 L172.2,212.26 L173.2,212.28 L174.2,212.29 L175.2,212.31 L176.2,212.33 L177.2,212.34 L178.2,212.36 L179.2,212.38 L180.2,212.40 L181.2,212.41 L182.2,212.43 L183.2,212.45 L184.2,212.46 L185.2,212.47 L186.2,212.48 L187.2,212.49 L188.2,212.50 L189.2,212.50 L190.2,212.50 L191.2,212.50 L192.2,212.50 L193.2,212.50 L194.2,212.51 L195.2,212.51 L196.3,212.52 L197.3,212.52 L198.3,212.53 L199.3,212.53 L200.3,212.54 L201.3,212.55 L202.3,212.55 L203.3,212.56 L204.3,212.57 L205.3,212.58 L206.3,212.58 L207.3,212.59 L208.3,212.60 L209.3,212.61 L210.3,212.61 L211.3,212.62 L212.3,212.63 L213.3,212.63 L214.3,212.64 L215.3,212.64 L216.3,212.64 L217.3,212.65 L218.3,212.65 L219.3,212.65 L220.3,212.65 L221.3,212.65 L222.4,212.66 L223.4,212.66 L224.4,212.67 L225.4,212.68 L226.4,212.69 L227.4,212.70 L228.4,212.71 L229.4,212.72 L230.4,212.73 L231.4,212.73 L232.4,212.74 L233.4,212.75 L234.4,212.75 L235.4,212.75 L235.4,213.25 L234.4,213.25 L233.4,213.25 L232.4,213.26 L231.4,213.27 L230.4,213.27 L229.4,213.28 L228.4,213.29 L227.4,213.30 L226.4,213.31 L225.4,213.32 L224.4,213.33 L223.4,213.34 L222.4,213.34 L221.3,213.35 L220.3,213.35 L219.3,213.35 L218.3,213.35 L217.3,213.35 L216.3,213.36 L215.3,213.36 L214.3,213.36 L213.3,213.37 L212.3,213.37 L211.3,213.38 L210.3,213.39 L209.3,213.39 L208.3,213.40 L207.3,213.41 L206.3,213.42 L205.3,213.42 L204.3,213.43 L203.3,213.44 L202.3,213.45 L201.3,213.45 L200.3,213.46 L199.3,213.47 L198.3,213.47 L197.3,213.48 L196.3,213.48 L195.2,213.49 L194.2,213.49 L193.2,213.50 L192.2,213.50 L191.2,213.50 L190.2,213.50 L189.2,213.50 L188.2,213.50 L187.2,213.51 L186.2,213.52 L185.2,213.53 L184.2,213.54 L183.2,213.55 L182.2,213.57 L181.2,213.59 L180.2,213.60 L179.2,213.62 L178.2,213.64 L177.2,213.66 L176.2,213.67 L175.2,213.69 L174.2,213.71 L173.2,213.72 L172.2,213.74 L171.2,213.75 L170.2,213.77 L169.1,213.78 L168.1,213.79 L167.1,213.79 L166.1,213.80 L165.1,213.80 L164.1,213.80 L163.1,213.81 L162.1,213.82 L161.1,213.84 L160.1,213.86 L159.1,213.88 L158.1,213.91 L157.1,213.94 L156.1,213.97 L155.1,214.01 L154.1,214.04 L153.1,214.08 L152.1,214.11 L151.1,214.15 L150.1,214.19 L149.1,214.22 L148.1,214.25 L147.1,214.28 L146.1,214.31 L145.1,214.34 L144.1,214.36 L143.0,214.38 L142.0,214.39 L141.0,214.40 L140.0,214.40 L139.0,214.41 L138.0,214.43 L137.0,214.46 L136.0,214.50 L135.0,214.55 L134.0,214.59 L133.0,214.63 L132.0,214.67 L131.0,214.69 L130.0,214.70Z" fill="#12584a" opacity="1.0"/>
<path d="M130.0,216.00 L131.0,216.00 L132.0,216.00 L133.0,216.00 L134.0,216.00 L135.0,216.00 L136.0,216.00 L137.1,216.00 L138.1,216.00 L139.1,216.00 L140.1,216.00 L141.1,216.00 L142.1,216.00 L143.1,216.00 L144.1,216.00 L145.1,216.00 L146.1,216.00 L147.1,216.00 L148.1,216.00 L149.1,216.00 L150.2,216.00 L151.2,216.00 L152.2,216.00 L153.2,216.00 L154.2,216.00 L155.2,216.00 L156.2,216.00 L157.2,216.00 L158.2,216.00 L159.2,216.00 L160.2,216.00 L161.2,216.00 L162.3,216.00 L163.3,216.00 L164.3,216.00 L165.3,216.00 L166.3,216.00 L167.3,216.00 L168.3,216.00 L169.3,216.00 L170.3,216.00 L171.3,216.00 L172.3,216.00 L173.3,216.00 L174.3,216.00 L175.4,216.00 L176.4,216.00 L177.4,216.00 L178.4,216.00 L179.4,216.00 L180.4,216.00 L181.4,216.00 L182.4,216.00 L183.4,216.00 L184.4,216.00 L185.4,216.00 L186.4,216.00 L187.4,216.00 L188.5,216.00 L189.5,216.00 L190.5,216.00 L191.5,216.00 L192.5,216.00 L193.5,216.00 L194.5,216.00 L195.5,216.00 L196.5,216.00 L197.5,216.00 L198.5,216.00 L199.5,216.00 L200.6,216.00 L201.6,216.00 L202.6,216.00 L203.6,216.00 L204.6,216.00 L205.6,216.00 L206.6,216.00 L207.6,216.00 L208.6,216.00 L209.6,216.00 L210.6,216.00 L211.6,216.00 L212.6,216.00 L213.7,216.00 L214.7,216.00 L215.7,216.00 L216.7,216.00 L217.7,216.00 L218.7,216.36 L219.7,217.00 L219.7,217.60 L218.7,218.24 L217.7,218.60 L216.7,218.60 L215.7,218.60 L214.7,218.60 L213.7,218.60 L212.6,218.60 L211.6,218.60 L210.6,218.60 L209.6,218.60 L208.6,218.60 L207.6,218.60 L206.6,218.60 L205.6,218.60 L204.6,218.60 L203.6,218.60 L202.6,218.60 L201.6,218.60 L200.6,218.60 L199.5,218.60 L198.5,218.60 L197.5,218.60 L196.5,218.60 L195.5,218.60 L194.5,218.60 L193.5,218.60 L192.5,218.60 L191.5,218.60 L190.5,218.60 L189.5,218.60 L188.5,218.60 L187.4,218.60 L186.4,218.60 L185.4,218.60 L184.4,218.60 L183.4,218.60 L182.4,218.60 L181.4,218.60 L180.4,218.60 L179.4,218.60 L178.4,218.60 L177.4,218.60 L176.4,218.60 L175.4,218.60 L174.3,218.60 L173.3,218.60 L172.3,218.60 L171.3,218.60 L170.3,218.60 L169.3,218.60 L168.3,218.60 L167.3,218.60 L166.3,218.60 L165.3,218.60 L164.3,218.60 L163.3,218.60 L162.3,218.60 L161.2,218.60 L160.2,218.60 L159.2,218.60 L158.2,218.60 L157.2,218.60 L156.2,218.60 L155.2,218.60 L154.2,218.60 L153.2,218.60 L152.2,218.60 L151.2,218.60 L150.2,218.60 L149.1,218.60 L148.1,218.60 L147.1,218.60 L146.1,218.60 L145.1,218.60 L144.1,218.60 L143.1,218.60 L142.1,218.60 L141.1,218.60 L140.1,218.60 L139.1,218.60 L138.1,218.60 L137.1,218.60 L136.0,218.60 L135.0,218.60 L134.0,218.60 L133.0,218.60 L132.0,218.60 L131.0,218.60 L130.0,218.60Z" fill="#e8962c" opacity="1.0"/>
<circle cx="130.50" cy="213.00" r="0.85" fill="#111"/>
<circle cx="181.00" cy="217.30" r="0.85" fill="#111"/>
<line x1="128.80" y1="221.20" x2="237.80" y2="221.20" stroke="#222" stroke-width="0.9"/>
<line x1="129.30" y1="221.20" x2="129.30" y2="223.20" stroke="#333" stroke-width="0.6"/>
<text x="131.50" y="229.00" font-size="5.8" text-anchor="end" fill="#333" transform="rotate(-45 131.50 229.00)">0%</text>
<line x1="184.80" y1="221.20" x2="184.80" y2="223.20" stroke="#333" stroke-width="0.6"/>
<text x="187.00" y="229.00" font-size="5.8" text-anchor="end" fill="#333" transform="rotate(-45 187.00 229.00)">0.1%</text>
<line x1="202.60" y1="221.20" x2="202.60" y2="223.20" stroke="#333" stroke-width="0.6"/>
<text x="204.80" y="229.00" font-size="5.8" text-anchor="end" fill="#333" transform="rotate(-45 204.80 229.00)">1%</text>
<line x1="219.80" y1="221.20" x2="219.80" y2="223.20" stroke="#333" stroke-width="0.6"/>
<text x="222.00" y="229.00" font-size="5.8" text-anchor="end" fill="#333" transform="rotate(-45 222.00 229.00)">10%</text>
<line x1="236.60" y1="221.20" x2="236.60" y2="223.20" stroke="#333" stroke-width="0.6"/>
<text x="238.80" y="229.00" font-size="5.8" text-anchor="end" fill="#333" transform="rotate(-45 238.80 229.00)">100%</text>
<text x="258.00" y="229.30" font-size="5.8" text-anchor="end" fill="#333" transform="rotate(-45 258.00 229.30)"><tspan font-style="italic">P</tspan>−value</text>
<text x="269.60" y="15.90" font-size="11.4" text-anchor="start" font-weight="bold" fill="#111">B</text>
<rect x="341.00" y="19.50" width="114.40" height="3.10" fill="#5e3a10"/>
<line x1="341.00" y1="19.65" x2="455.40" y2="19.65" stroke="#ffffff" stroke-width="0.4" opacity="0.35"/>
<rect x="342.00" y="22.55" width="113.40" height="3.10" fill="#5e3a10"/>
<line x1="342.00" y1="22.70" x2="455.40" y2="22.70" stroke="#ffffff" stroke-width="0.4" opacity="0.35"/>
<rect x="346.00" y="25.60" width="109.40" height="3.10" fill="#5e3a10"/>
<line x1="346.00" y1="25.75" x2="455.40" y2="25.75" stroke="#ffffff" stroke-width="0.4" opacity="0.35"/>
<rect x="350.60" y="28.65" width="104.80" height="3.10" fill="#5e3a10"/>
<line x1="350.60" y1="28.80" x2="455.40" y2="28.80" stroke="#ffffff" stroke-width="0.4" opacity="0.35"/>
<rect x="355.80" y="31.70" width="99.60" height="3.10" fill="#5e3a10"/>
<line x1="355.80" y1="31.85" x2="455.40" y2="31.85" stroke="#ffffff" stroke-width="0.4" opacity="0.35"/>
<rect x="357.00" y="34.75" width="98.40" height="3.10" fill="#5e3a10"/>
<line x1="357.00" y1="34.90" x2="455.40" y2="34.90" stroke="#ffffff" stroke-width="0.4" opacity="0.35"/>
<rect x="358.00" y="37.80" width="97.40" height="3.10" fill="#c0761c"/>
<line x1="358.00" y1="37.95" x2="455.40" y2="37.95" stroke="#ffffff" stroke-width="0.4" opacity="0.35"/>
<rect x="361.50" y="40.85" width="93.90" height="3.10" fill="#c0761c"/>
<line x1="361.50" y1="41.00" x2="455.40" y2="41.00" stroke="#ffffff" stroke-width="0.4" opacity="0.35"/>
<rect x="364.50" y="43.90" width="90.90" height="3.10" fill="#5e3a10"/>
<line x1="364.50" y1="44.05" x2="455.40" y2="44.05" stroke="#ffffff" stroke-width="0.4" opacity="0.35"/>
<rect x="368.00" y="46.95" width="87.40" height="3.10" fill="#5e3a10"/>
<line x1="368.00" y1="47.10" x2="455.40" y2="47.10" stroke="#ffffff" stroke-width="0.4" opacity="0.35"/>
<rect x="371.00" y="50.00" width="84.40" height="3.10" fill="#5e3a10"/>
<line x1="371.00" y1="50.15" x2="455.40" y2="50.15" stroke="#ffffff" stroke-width="0.4" opacity="0.35"/>
<rect x="372.30" y="53.05" width="83.10" height="3.10" fill="#c0761c"/>
<line x1="372.30" y1="53.20" x2="455.40" y2="53.20" stroke="#ffffff" stroke-width="0.4" opacity="0.35"/>
<rect x="372.50" y="56.10" width="82.90" height="3.10" fill="#c0761c"/>
<line x1="372.50" y1="56.25" x2="455.40" y2="56.25" stroke="#ffffff" stroke-width="0.4" opacity="0.35"/>
<rect x="372.80" y="59.15" width="82.60" height="3.10" fill="#c0761c"/>
<line x1="372.80" y1="59.30" x2="455.40" y2="59.30" stroke="#ffffff" stroke-width="0.4" opacity="0.35"/>
<rect x="374.00" y="62.20" width="81.40" height="3.10" fill="#5e3a10"/>
<line x1="374.00" y1="62.35" x2="455.40" y2="62.35" stroke="#ffffff" stroke-width="0.4" opacity="0.35"/>
<rect x="376.30" y="65.25" width="79.10" height="3.10" fill="#c0761c"/>
<line x1="376.30" y1="65.40" x2="455.40" y2="65.40" stroke="#ffffff" stroke-width="0.4" opacity="0.35"/>
<rect x="378.00" y="68.30" width="77.40" height="3.10" fill="#c0761c"/>
<line x1="378.00" y1="68.45" x2="455.40" y2="68.45" stroke="#ffffff" stroke-width="0.4" opacity="0.35"/>
<rect x="379.80" y="71.35" width="75.60" height="3.10" fill="#c0761c"/>
<line x1="379.80" y1="71.50" x2="455.40" y2="71.50" stroke="#ffffff" stroke-width="0.4" opacity="0.35"/>
<rect x="381.00" y="74.40" width="74.40" height="3.10" fill="#c0761c"/>
<line x1="381.00" y1="74.55" x2="455.40" y2="74.55" stroke="#ffffff" stroke-width="0.4" opacity="0.35"/>
<rect x="382.70" y="77.45" width="72.70" height="3.10" fill="#c0761c"/>
<line x1="382.70" y1="77.60" x2="455.40" y2="77.60" stroke="#ffffff" stroke-width="0.4" opacity="0.35"/>
<rect x="383.50" y="80.50" width="71.90" height="3.10" fill="#c0761c"/>
<line x1="383.50" y1="80.65" x2="455.40" y2="80.65" stroke="#ffffff" stroke-width="0.4" opacity="0.35"/>
<rect x="384.00" y="83.55" width="71.40" height="3.10" fill="#c0761c"/>
<line x1="384.00" y1="83.70" x2="455.40" y2="83.70" stroke="#ffffff" stroke-width="0.4" opacity="0.35"/>
<rect x="389.40" y="86.60" width="66.00" height="3.10" fill="#c0761c"/>
<line x1="389.40" y1="86.75" x2="455.40" y2="86.75" stroke="#ffffff" stroke-width="0.4" opacity="0.35"/>
<rect x="390.00" y="89.65" width="65.40" height="3.10" fill="#c0761c"/>
<line x1="390.00" y1="89.80" x2="455.40" y2="89.80" stroke="#ffffff" stroke-width="0.4" opacity="0.35"/>
<rect x="391.10" y="92.70" width="64.30" height="3.10" fill="#c0761c"/>
<line x1="391.10" y1="92.85" x2="455.40" y2="92.85" stroke="#ffffff" stroke-width="0.4" opacity="0.35"/>
<rect x="393.50" y="95.75" width="61.90" height="3.10" fill="#c0761c"/>
<line x1="393.50" y1="95.90" x2="455.40" y2="95.90" stroke="#ffffff" stroke-width="0.4" opacity="0.35"/>
<rect x="395.20" y="98.80" width="60.20" height="3.10" fill="#c0761c"/>
<line x1="395.20" y1="98.95" x2="455.40" y2="98.95" stroke="#ffffff" stroke-width="0.4" opacity="0.35"/>
<rect x="396.30" y="101.85" width="59.10" height="3.10" fill="#c0761c"/>
<line x1="396.30" y1="102.00" x2="455.40" y2="102.00" stroke="#ffffff" stroke-width="0.4" opacity="0.35"/>
<rect x="398.60" y="104.90" width="56.80" height="3.10" fill="#c0761c"/>
<line x1="398.60" y1="105.05" x2="455.40" y2="105.05" stroke="#ffffff" stroke-width="0.4" opacity="0.35"/>
<rect x="399.20" y="107.95" width="56.20" height="3.10" fill="#c0761c"/>
<line x1="399.20" y1="108.10" x2="455.40" y2="108.10" stroke="#ffffff" stroke-width="0.4" opacity="0.35"/>
<rect x="404.40" y="111.00" width="51.00" height="3.10" fill="#c0761c"/>
<line x1="404.40" y1="111.15" x2="455.40" y2="111.15" stroke="#ffffff" stroke-width="0.4" opacity="0.35"/>
<rect x="405.60" y="114.05" width="49.80" height="3.10" fill="#c0761c"/>
<line x1="405.60" y1="114.20" x2="455.40" y2="114.20" stroke="#ffffff" stroke-width="0.4" opacity="0.35"/>
<rect x="406.00" y="117.10" width="49.40" height="3.10" fill="#c0761c"/>
<line x1="406.00" y1="117.25" x2="455.40" y2="117.25" stroke="#ffffff" stroke-width="0.4" opacity="0.35"/>
<rect x="408.80" y="120.15" width="46.60" height="3.10" fill="#c0761c"/>
<line x1="408.80" y1="120.30" x2="455.40" y2="120.30" stroke="#ffffff" stroke-width="0.4" opacity="0.35"/>
<rect x="412.30" y="123.20" width="43.10" height="3.10" fill="#c0761c"/>
<line x1="412.30" y1="123.35" x2="455.40" y2="123.35" stroke="#ffffff" stroke-width="0.4" opacity="0.35"/>
<rect x="414.00" y="126.25" width="41.40" height="3.10" fill="#c0761c"/>
<line x1="414.00" y1="126.40" x2="455.40" y2="126.40" stroke="#ffffff" stroke-width="0.4" opacity="0.35"/>
<rect x="415.80" y="129.30" width="39.60" height="3.10" fill="#c0761c"/>
<line x1="415.80" y1="129.45" x2="455.40" y2="129.45" stroke="#ffffff" stroke-width="0.4" opacity="0.35"/>
<rect x="416.90" y="132.35" width="38.50" height="3.10" fill="#c0761c"/>
<line x1="416.90" y1="132.50" x2="455.40" y2="132.50" stroke="#ffffff" stroke-width="0.4" opacity="0.35"/>
<rect x="417.50" y="135.40" width="37.90" height="3.10" fill="#c0761c"/>
<line x1="417.50" y1="135.55" x2="455.40" y2="135.55" stroke="#ffffff" stroke-width="0.4" opacity="0.35"/>
<rect x="418.00" y="138.45" width="37.40" height="3.10" fill="#c0761c"/>
<line x1="418.00" y1="138.60" x2="455.40" y2="138.60" stroke="#ffffff" stroke-width="0.4" opacity="0.35"/>
<rect x="418.60" y="141.50" width="36.80" height="3.10" fill="#c0761c"/>
<line x1="418.60" y1="141.65" x2="455.40" y2="141.65" stroke="#ffffff" stroke-width="0.4" opacity="0.35"/>
<rect x="419.20" y="144.55" width="36.20" height="3.10" fill="#c0761c"/>
<line x1="419.20" y1="144.70" x2="455.40" y2="144.70" stroke="#ffffff" stroke-width="0.4" opacity="0.35"/>
<rect x="426.50" y="147.60" width="28.90" height="3.10" fill="#c0761c"/>
<line x1="426.50" y1="147.75" x2="455.40" y2="147.75" stroke="#ffffff" stroke-width="0.4" opacity="0.35"/>
<rect x="427.30" y="150.65" width="28.10" height="3.10" fill="#c0761c"/>
<line x1="427.30" y1="150.80" x2="455.40" y2="150.80" stroke="#ffffff" stroke-width="0.4" opacity="0.35"/>
<rect x="428.50" y="153.70" width="26.90" height="3.10" fill="#c0761c"/>
<line x1="428.50" y1="153.85" x2="455.40" y2="153.85" stroke="#ffffff" stroke-width="0.4" opacity="0.35"/>
<rect x="429.60" y="156.75" width="25.80" height="3.10" fill="#c0761c"/>
<line x1="429.60" y1="156.90" x2="455.40" y2="156.90" stroke="#ffffff" stroke-width="0.4" opacity="0.35"/>
<rect x="430.80" y="159.80" width="24.60" height="3.10" fill="#c0761c"/>
<line x1="430.80" y1="159.95" x2="455.40" y2="159.95" stroke="#ffffff" stroke-width="0.4" opacity="0.35"/>
<rect x="436.50" y="162.85" width="18.90" height="3.10" fill="#c0761c"/>
<line x1="436.50" y1="163.00" x2="455.40" y2="163.00" stroke="#ffffff" stroke-width="0.4" opacity="0.35"/>
<rect x="438.80" y="165.90" width="16.60" height="3.10" fill="#c0761c"/>
<line x1="438.80" y1="166.05" x2="455.40" y2="166.05" stroke="#ffffff" stroke-width="0.4" opacity="0.35"/>
<rect x="441.10" y="168.95" width="14.30" height="3.10" fill="#c0761c"/>
<line x1="441.10" y1="169.10" x2="455.40" y2="169.10" stroke="#ffffff" stroke-width="0.4" opacity="0.35"/>
<rect x="449.20" y="172.00" width="6.20" height="3.10" fill="#c0761c"/>
<line x1="449.20" y1="172.15" x2="455.40" y2="172.15" stroke="#ffffff" stroke-width="0.4" opacity="0.35"/>
<rect x="452.00" y="175.05" width="3.40" height="3.10" fill="#c0761c"/>
<line x1="452.00" y1="175.20" x2="455.40" y2="175.20" stroke="#ffffff" stroke-width="0.4" opacity="0.35"/>
<rect x="454.40" y="178.10" width="1.00" height="3.10" fill="#c0761c"/>
<line x1="454.40" y1="178.25" x2="455.40" y2="178.25" stroke="#ffffff" stroke-width="0.4" opacity="0.35"/>
<rect x="454.90" y="181.15" width="0.50" height="3.10" fill="#c0761c"/>
<line x1="454.90" y1="181.30" x2="455.40" y2="181.30" stroke="#ffffff" stroke-width="0.4" opacity="0.35"/>
<rect x="455.40" y="187.25" width="2.20" height="3.10" fill="#ec148c"/>
<line x1="455.40" y1="187.45" x2="457.60" y2="187.45" stroke="#c00a72" stroke-width="0.45" opacity="0.7"/>
<rect x="455.40" y="190.30" width="7.60" height="3.10" fill="#ec148c"/>
<line x1="455.40" y1="190.50" x2="463.00" y2="190.50" stroke="#c00a72" stroke-width="0.45" opacity="0.7"/>
<rect x="455.40" y="193.35" width="18.40" height="3.10" fill="#ec148c"/>
<line x1="455.40" y1="193.55" x2="473.80" y2="193.55" stroke="#c00a72" stroke-width="0.45" opacity="0.7"/>
<rect x="455.40" y="196.40" width="25.60" height="3.10" fill="#ec148c"/>
<line x1="455.40" y1="196.60" x2="481.00" y2="196.60" stroke="#c00a72" stroke-width="0.45" opacity="0.7"/>
<rect x="455.40" y="199.45" width="25.80" height="3.10" fill="#ec148c"/>
<line x1="455.40" y1="199.65" x2="481.20" y2="199.65" stroke="#c00a72" stroke-width="0.45" opacity="0.7"/>
<rect x="455.40" y="202.50" width="30.40" height="3.10" fill="#ec148c"/>
<line x1="455.40" y1="202.70" x2="485.80" y2="202.70" stroke="#c00a72" stroke-width="0.45" opacity="0.7"/>
<rect x="455.40" y="205.55" width="36.10" height="3.10" fill="#ec148c"/>
<line x1="455.40" y1="205.75" x2="491.50" y2="205.75" stroke="#c00a72" stroke-width="0.45" opacity="0.7"/>
<rect x="455.40" y="208.60" width="40.60" height="3.10" fill="#ec148c"/>
<line x1="455.40" y1="208.80" x2="496.00" y2="208.80" stroke="#c00a72" stroke-width="0.45" opacity="0.7"/>
<rect x="455.40" y="211.65" width="50.40" height="3.10" fill="#ec148c"/>
<line x1="455.40" y1="211.85" x2="505.80" y2="211.85" stroke="#c00a72" stroke-width="0.45" opacity="0.7"/>
<rect x="455.40" y="214.70" width="52.30" height="3.10" fill="#ec148c"/>
<line x1="455.40" y1="214.90" x2="507.70" y2="214.90" stroke="#c00a72" stroke-width="0.45" opacity="0.7"/>
<line x1="455.10" y1="176.00" x2="455.10" y2="187.00" stroke="#d08840" stroke-width="0.6"/>
<line x1="332.80" y1="17.20" x2="332.80" y2="217.30" stroke="#222" stroke-width="0.8"/>
<line x1="332.40" y1="217.30" x2="513.50" y2="217.30" stroke="#222" stroke-width="0.9"/>
<line x1="330.40" y1="20.60" x2="332.80" y2="20.60" stroke="#333" stroke-width="0.75"/>
<text x="326.80" y="21.80" font-size="3.4" text-anchor="end" fill="#333" textLength="25.50" lengthAdjust="spacingAndGlyphs">**Coprococcus_1**</text>
<line x1="330.40" y1="23.65" x2="332.80" y2="23.65" stroke="#333" stroke-width="0.75"/>
<text x="326.80" y="24.85" font-size="3.4" text-anchor="end" fill="#333" textLength="12.20" lengthAdjust="spacingAndGlyphs">**Dorea**</text>
<line x1="330.40" y1="26.70" x2="332.80" y2="26.70" stroke="#333" stroke-width="0.75"/>
<text x="326.80" y="27.90" font-size="3.4" text-anchor="end" fill="#333" textLength="46.30" lengthAdjust="spacingAndGlyphs">**Erysipelotrichaceae_UCG-003**</text>
<line x1="330.40" y1="29.75" x2="332.80" y2="29.75" stroke="#333" stroke-width="0.75"/>
<text x="326.80" y="30.95" font-size="3.4" text-anchor="end" fill="#333" textLength="17.40" lengthAdjust="spacingAndGlyphs">**Roseburia**</text>
<line x1="330.40" y1="32.80" x2="332.80" y2="32.80" stroke="#333" stroke-width="0.75"/>
<text x="326.80" y="34.00" font-size="3.4" text-anchor="end" fill="#333" textLength="16.20" lengthAdjust="spacingAndGlyphs">**Veillonella**</text>
<line x1="330.40" y1="35.85" x2="332.80" y2="35.85" stroke="#333" stroke-width="0.75"/>
<text x="326.80" y="37.05" font-size="3.4" text-anchor="end" fill="#333" textLength="46.20" lengthAdjust="spacingAndGlyphs">**Ruminococcaceae_UCG-004**</text>
<line x1="330.40" y1="38.90" x2="332.80" y2="38.90" stroke="#333" stroke-width="0.75"/>
<text x="326.80" y="40.10" font-size="3.4" text-anchor="end" fill="#444" textLength="18.50" lengthAdjust="spacingAndGlyphs">Parabacteroides</text>
<line x1="330.40" y1="41.95" x2="332.80" y2="41.95" stroke="#333" stroke-width="0.75"/>
<text x="326.80" y="43.15" font-size="3.4" text-anchor="end" fill="#444" textLength="21.40" lengthAdjust="spacingAndGlyphs">Fusicatenibacter</text>
<line x1="330.40" y1="45.00" x2="332.80" y2="45.00" stroke="#333" stroke-width="0.75"/>
<text x="326.80" y="46.20" font-size="3.4" text-anchor="end" fill="#333" textLength="45.80" lengthAdjust="spacingAndGlyphs">**Ruminococcaceae_UCG-002**</text>
<line x1="330.40" y1="48.05" x2="332.80" y2="48.05" stroke="#333" stroke-width="0.75"/>
<text x="326.80" y="49.25" font-size="3.4" text-anchor="end" fill="#333" textLength="16.60" lengthAdjust="spacingAndGlyphs">**Sutterella**</text>
<line x1="330.40" y1="51.10" x2="332.80" y2="51.10" stroke="#333" stroke-width="0.75"/>
<text x="326.80" y="52.30" font-size="3.4" text-anchor="end" fill="#333" textLength="17.40" lengthAdjust="spacingAndGlyphs">**Collinsella**</text>
<line x1="330.40" y1="54.15" x2="332.80" y2="54.15" stroke="#333" stroke-width="0.75"/>
<text x="326.80" y="55.35" font-size="3.4" text-anchor="end" fill="#444" textLength="43.30" lengthAdjust="spacingAndGlyphs">Christensenellaceae_R-7_group</text>
<line x1="330.40" y1="57.20" x2="332.80" y2="57.20" stroke="#333" stroke-width="0.75"/>
<text x="326.80" y="58.40" font-size="3.4" text-anchor="end" fill="#444" textLength="17.40" lengthAdjust="spacingAndGlyphs">Agathobacter</text>
<line x1="330.40" y1="60.25" x2="332.80" y2="60.25" stroke="#333" stroke-width="0.75"/>
<text x="326.80" y="61.45" font-size="3.4" text-anchor="end" fill="#444" textLength="40.50" lengthAdjust="spacingAndGlyphs">Ruminococcaceae_UCG-005</text>
<line x1="330.40" y1="63.30" x2="332.80" y2="63.30" stroke="#333" stroke-width="0.75"/>
<text x="326.80" y="64.50" font-size="3.4" text-anchor="end" fill="#333" textLength="19.10" lengthAdjust="spacingAndGlyphs">**Subdoligranulum**</text>
<line x1="330.40" y1="66.35" x2="332.80" y2="66.35" stroke="#333" stroke-width="0.75"/>
<text x="326.80" y="67.55" font-size="3.4" text-anchor="end" fill="#444" textLength="43.90" lengthAdjust="spacingAndGlyphs">Lachnospiraceae_NK4A136_group</text>
<line x1="330.40" y1="69.40" x2="332.80" y2="69.40" stroke="#333" stroke-width="0.75"/>
<text x="326.80" y="70.60" font-size="3.4" text-anchor="end" fill="#444" textLength="20.80" lengthAdjust="spacingAndGlyphs">Coprococcus_3</text>
<line x1="330.40" y1="72.45" x2="332.80" y2="72.45" stroke="#333" stroke-width="0.75"/>
<text x="326.80" y="73.65" font-size="3.4" text-anchor="end" fill="#444" textLength="17.40" lengthAdjust="spacingAndGlyphs">Haemophilus</text>
<line x1="330.40" y1="75.50" x2="332.80" y2="75.50" stroke="#333" stroke-width="0.75"/>
<text x="326.80" y="76.70" font-size="3.4" text-anchor="end" fill="#444" textLength="36.40" lengthAdjust="spacingAndGlyphs">Clostridium_sensu_stricto_1</text>
<line x1="330.40" y1="78.55" x2="332.80" y2="78.55" stroke="#333" stroke-width="0.75"/>
<text x="326.80" y="79.75" font-size="3.4" text-anchor="end" fill="#444" textLength="15.90" lengthAdjust="spacingAndGlyphs">Lachnospira</text>
<line x1="330.40" y1="81.60" x2="332.80" y2="81.60" stroke="#333" stroke-width="0.75"/>
<text x="326.80" y="82.80" font-size="3.4" text-anchor="end" fill="#444" textLength="47.30" lengthAdjust="spacingAndGlyphs">Ruminococcaceae_NK4A214_group</text>
<line x1="330.40" y1="84.65" x2="332.80" y2="84.65" stroke="#333" stroke-width="0.75"/>
<text x="326.80" y="85.85" font-size="3.4" text-anchor="end" fill="#444" textLength="14.50" lengthAdjust="spacingAndGlyphs">Butyricicoccus</text>
<line x1="330.40" y1="87.70" x2="332.80" y2="87.70" stroke="#333" stroke-width="0.75"/>
<text x="326.80" y="88.90" font-size="3.4" text-anchor="end" fill="#444" textLength="13.40" lengthAdjust="spacingAndGlyphs">UBA1819</text>
<line x1="330.40" y1="90.75" x2="332.80" y2="90.75" stroke="#333" stroke-width="0.75"/>
<text x="326.80" y="91.95" font-size="3.4" text-anchor="end" fill="#444" textLength="24.90" lengthAdjust="spacingAndGlyphs">Erysipelotrichaceae</text>
<line x1="330.40" y1="93.80" x2="332.80" y2="93.80" stroke="#333" stroke-width="0.75"/>
<text x="326.80" y="95.00" font-size="3.4" text-anchor="end" fill="#444" textLength="39.90" lengthAdjust="spacingAndGlyphs">Ruminococcaceae_UCG-003</text>
<line x1="330.40" y1="96.85" x2="332.80" y2="96.85" stroke="#333" stroke-width="0.75"/>
<text x="326.80" y="98.05" font-size="3.4" text-anchor="end" fill="#444" textLength="15.80" lengthAdjust="spacingAndGlyphs">Bacteroides</text>
<line x1="330.40" y1="99.90" x2="332.80" y2="99.90" stroke="#333" stroke-width="0.75"/>
<text x="326.80" y="101.10" font-size="3.4" text-anchor="end" fill="#444" textLength="10.50" lengthAdjust="spacingAndGlyphs">Alistipes</text>
<line x1="330.40" y1="102.95" x2="332.80" y2="102.95" stroke="#333" stroke-width="0.75"/>
<text x="326.80" y="104.15" font-size="3.4" text-anchor="end" fill="#444" textLength="15.80" lengthAdjust="spacingAndGlyphs">Anaerostipes</text>
<line x1="330.40" y1="106.00" x2="332.80" y2="106.00" stroke="#333" stroke-width="0.75"/>
<text x="326.80" y="107.20" font-size="3.4" text-anchor="end" fill="#444" textLength="26.00" lengthAdjust="spacingAndGlyphs">Ruminiclostridium_6</text>
<line x1="330.40" y1="109.05" x2="332.80" y2="109.05" stroke="#333" stroke-width="0.75"/>
<text x="326.80" y="110.25" font-size="3.4" text-anchor="end" fill="#444" textLength="45.60" lengthAdjust="spacingAndGlyphs">Lachnospiraceae_NK4A136_group</text>
<line x1="330.40" y1="112.10" x2="332.80" y2="112.10" stroke="#333" stroke-width="0.75"/>
<text x="326.80" y="113.30" font-size="3.4" text-anchor="end" fill="#444" textLength="31.20" lengthAdjust="spacingAndGlyphs">Candidatus_Soleaferrea</text>
<line x1="330.40" y1="115.15" x2="332.80" y2="115.15" stroke="#333" stroke-width="0.75"/>
<text x="326.80" y="116.35" font-size="3.4" text-anchor="end" fill="#444" textLength="13.40" lengthAdjust="spacingAndGlyphs">unclassified</text>
<line x1="330.40" y1="118.20" x2="332.80" y2="118.20" stroke="#333" stroke-width="0.75"/>
<text x="326.80" y="119.40" font-size="3.4" text-anchor="end" fill="#444" textLength="8.20" lengthAdjust="spacingAndGlyphs">Blautia</text>
<line x1="330.40" y1="121.25" x2="332.80" y2="121.25" stroke="#333" stroke-width="0.75"/>
<text x="326.80" y="122.45" font-size="3.4" text-anchor="end" fill="#444" textLength="12.20" lengthAdjust="spacingAndGlyphs">Holdemania</text>
<line x1="330.40" y1="124.30" x2="332.80" y2="124.30" stroke="#333" stroke-width="0.75"/>
<text x="326.80" y="125.50" font-size="3.4" text-anchor="end" fill="#444" textLength="13.90" lengthAdjust="spacingAndGlyphs">Eggerthella</text>
<line x1="330.40" y1="127.35" x2="332.80" y2="127.35" stroke="#333" stroke-width="0.75"/>
<text x="326.80" y="128.55" font-size="3.4" text-anchor="end" fill="#444" textLength="22.00" lengthAdjust="spacingAndGlyphs">Ruminococcus_1</text>
<line x1="330.40" y1="130.40" x2="332.80" y2="130.40" stroke="#333" stroke-width="0.75"/>
<text x="326.80" y="131.60" font-size="3.4" text-anchor="end" fill="#444" textLength="18.00" lengthAdjust="spacingAndGlyphs">Intestinibacter</text>
<line x1="330.40" y1="133.45" x2="332.80" y2="133.45" stroke="#333" stroke-width="0.75"/>
<text x="326.80" y="134.65" font-size="3.4" text-anchor="end" fill="#444" textLength="43.30" lengthAdjust="spacingAndGlyphs">Lachnospiraceae_FCS020_group</text>
<line x1="330.40" y1="136.50" x2="332.80" y2="136.50" stroke="#333" stroke-width="0.75"/>
<text x="326.80" y="137.70" font-size="3.4" text-anchor="end" fill="#444" textLength="18.50" lengthAdjust="spacingAndGlyphs">Hungatella</text>
<line x1="330.40" y1="139.55" x2="332.80" y2="139.55" stroke="#333" stroke-width="0.75"/>
<text x="326.80" y="140.75" font-size="3.4" text-anchor="end" fill="#444" textLength="25.50" lengthAdjust="spacingAndGlyphs">Ruminiclostridium_5</text>
<line x1="330.40" y1="142.60" x2="332.80" y2="142.60" stroke="#333" stroke-width="0.75"/>
<text x="326.80" y="143.80" font-size="3.4" text-anchor="end" fill="#444" textLength="25.50" lengthAdjust="spacingAndGlyphs">Ruminiclostridium_9</text>
<line x1="330.40" y1="145.65" x2="332.80" y2="145.65" stroke="#333" stroke-width="0.75"/>
<text x="326.80" y="146.85" font-size="3.4" text-anchor="end" fill="#444" textLength="20.30" lengthAdjust="spacingAndGlyphs">Tyzzerella_3</text>
<line x1="330.40" y1="148.70" x2="332.80" y2="148.70" stroke="#333" stroke-width="0.75"/>
<text x="326.80" y="149.90" font-size="3.4" text-anchor="end" fill="#444" textLength="15.70" lengthAdjust="spacingAndGlyphs">Akkermansia</text>
<line x1="330.40" y1="151.75" x2="332.80" y2="151.75" stroke="#333" stroke-width="0.75"/>
<text x="326.80" y="152.95" font-size="3.4" text-anchor="end" fill="#444" textLength="16.80" lengthAdjust="spacingAndGlyphs">Anaerotruncus</text>
<line x1="330.40" y1="154.80" x2="332.80" y2="154.80" stroke="#333" stroke-width="0.75"/>
<text x="326.80" y="156.00" font-size="3.4" text-anchor="end" fill="#444" textLength="39.90" lengthAdjust="spacingAndGlyphs">Ruminococcaceae_UCG-013</text>
<line x1="330.40" y1="157.85" x2="332.80" y2="157.85" stroke="#333" stroke-width="0.75"/>
<text x="326.80" y="159.05" font-size="3.4" text-anchor="end" fill="#444" textLength="35.80" lengthAdjust="spacingAndGlyphs">Family_XIII_AD3011_group</text>
<line x1="330.40" y1="160.90" x2="332.80" y2="160.90" stroke="#333" stroke-width="0.75"/>
<text x="326.80" y="162.10" font-size="3.4" text-anchor="end" fill="#444" textLength="22.60" lengthAdjust="spacingAndGlyphs">Lachnoclostridium</text>
<line x1="330.40" y1="163.95" x2="332.80" y2="163.95" stroke="#333" stroke-width="0.75"/>
<text x="326.80" y="165.15" font-size="3.4" text-anchor="end" fill="#444" textLength="38.10" lengthAdjust="spacingAndGlyphs">Lachnospiraceae_UCG-004</text>
<line x1="330.40" y1="167.00" x2="332.80" y2="167.00" stroke="#333" stroke-width="0.75"/>
<text x="326.80" y="168.20" font-size="3.4" text-anchor="end" fill="#444" textLength="21.40" lengthAdjust="spacingAndGlyphs">Faecalibacterium</text>
<line x1="330.40" y1="170.05" x2="332.80" y2="170.05" stroke="#333" stroke-width="0.75"/>
<text x="326.80" y="171.25" font-size="3.4" text-anchor="end" fill="#444" textLength="18.50" lengthAdjust="spacingAndGlyphs">Eubacterium</text>
<line x1="330.40" y1="173.10" x2="332.80" y2="173.10" stroke="#333" stroke-width="0.75"/>
<text x="326.80" y="174.30" font-size="3.4" text-anchor="end" fill="#444" textLength="15.70" lengthAdjust="spacingAndGlyphs">Oscillibacter</text>
<line x1="330.40" y1="176.15" x2="332.80" y2="176.15" stroke="#333" stroke-width="0.75"/>
<text x="326.80" y="177.35" font-size="3.4" text-anchor="end" fill="#444" textLength="19.70" lengthAdjust="spacingAndGlyphs">Bilophila_wads</text>
<line x1="330.40" y1="179.20" x2="332.80" y2="179.20" stroke="#333" stroke-width="0.75"/>
<text x="326.80" y="180.40" font-size="3.4" text-anchor="end" fill="#444" textLength="10.50" lengthAdjust="spacingAndGlyphs">Dialister</text>
<line x1="330.40" y1="182.25" x2="332.80" y2="182.25" stroke="#333" stroke-width="0.75"/>
<text x="326.80" y="183.45" font-size="3.4" text-anchor="end" fill="#444" textLength="25.50" lengthAdjust="spacingAndGlyphs">UCA-4000002570</text>
<line x1="330.40" y1="185.30" x2="332.80" y2="185.30" stroke="#333" stroke-width="0.75"/>
<text x="326.80" y="186.50" font-size="3.4" text-anchor="end" fill="#444" textLength="13.40" lengthAdjust="spacingAndGlyphs">Bifidobacterium</text>
<line x1="330.40" y1="188.35" x2="332.80" y2="188.35" stroke="#333" stroke-width="0.75"/>
<text x="326.80" y="189.55" font-size="3.4" text-anchor="end" fill="#444" textLength="22.00" lengthAdjust="spacingAndGlyphs">Ruminococcus_2</text>
<line x1="330.40" y1="191.40" x2="332.80" y2="191.40" stroke="#333" stroke-width="0.75"/>
<text x="326.80" y="192.60" font-size="3.4" text-anchor="end" fill="#444" textLength="27.80" lengthAdjust="spacingAndGlyphs">Erysipelatoclostridium</text>
<line x1="330.40" y1="194.45" x2="332.80" y2="194.45" stroke="#333" stroke-width="0.75"/>
<text x="326.80" y="195.65" font-size="3.4" text-anchor="end" fill="#444" textLength="15.70" lengthAdjust="spacingAndGlyphs">Alloprevotella</text>
<line x1="330.40" y1="197.50" x2="332.80" y2="197.50" stroke="#333" stroke-width="0.75"/>
<text x="326.80" y="198.70" font-size="3.4" text-anchor="end" fill="#444" textLength="18.00" lengthAdjust="spacingAndGlyphs">Enterobacter</text>
<line x1="330.40" y1="200.55" x2="332.80" y2="200.55" stroke="#333" stroke-width="0.75"/>
<text x="326.80" y="201.75" font-size="3.4" text-anchor="end" fill="#444" textLength="16.80" lengthAdjust="spacingAndGlyphs">Flavonifractor</text>
<line x1="330.40" y1="203.60" x2="332.80" y2="203.60" stroke="#333" stroke-width="0.75"/>
<text x="326.80" y="204.80" font-size="3.4" text-anchor="end" fill="#444" textLength="17.40" lengthAdjust="spacingAndGlyphs">Parasutterella</text>
<line x1="330.40" y1="206.65" x2="332.80" y2="206.65" stroke="#333" stroke-width="0.75"/>
<text x="326.80" y="207.85" font-size="3.4" text-anchor="end" fill="#444" textLength="13.90" lengthAdjust="spacingAndGlyphs">Hungatella_x</text>
<line x1="330.40" y1="209.70" x2="332.80" y2="209.70" stroke="#333" stroke-width="0.75"/>
<text x="326.80" y="210.90" font-size="3.4" text-anchor="end" fill="#444" textLength="18.50" lengthAdjust="spacingAndGlyphs">Streptococcus</text>
<line x1="330.40" y1="212.75" x2="332.80" y2="212.75" stroke="#333" stroke-width="0.75"/>
<text x="326.80" y="213.95" font-size="3.4" text-anchor="end" fill="#444" textLength="18.00" lengthAdjust="spacingAndGlyphs">Intestinibacter_x</text>
<line x1="330.40" y1="215.80" x2="332.80" y2="215.80" stroke="#333" stroke-width="0.75"/>
<text x="326.80" y="217.00" font-size="3.4" text-anchor="end" fill="#444" textLength="18.00" lengthAdjust="spacingAndGlyphs">Enterococcus</text>
<line x1="355.60" y1="217.30" x2="355.60" y2="219.80" stroke="#333" stroke-width="0.7"/>
<text x="358.50" y="225.30" font-size="6.5" text-anchor="end" fill="#333" transform="rotate(-45 358.50 225.30)">−0.2</text>
<line x1="405.50" y1="217.30" x2="405.50" y2="219.80" stroke="#333" stroke-width="0.7"/>
<text x="408.40" y="225.30" font-size="6.5" text-anchor="end" fill="#333" transform="rotate(-45 408.40 225.30)">−0.1</text>
<line x1="455.40" y1="217.30" x2="455.40" y2="219.80" stroke="#333" stroke-width="0.7"/>
<text x="458.30" y="225.30" font-size="6.5" text-anchor="end" fill="#333" transform="rotate(-45 458.30 225.30)">0.0</text>
<line x1="505.40" y1="217.30" x2="505.40" y2="219.80" stroke="#333" stroke-width="0.7"/>
<text x="508.30" y="225.30" font-size="6.5" text-anchor="end" fill="#333" transform="rotate(-45 508.30 225.30)">0.1</text>
<text x="413.80" y="247.30" font-size="8.4" text-anchor="start" font-weight="bold" fill="#333" textLength="18.90" lengthAdjust="spacingAndGlyphs">Loading</text>
<text x="8.30" y="265.70" font-size="11.4" text-anchor="start" font-weight="bold" fill="#111">C</text>
<text x="80.90" y="285.20" font-size="7.6" text-anchor="middle" fill="#2a2a2a" textLength="98.60" lengthAdjust="spacingAndGlyphs">CV AUC = 0.68 (0.63–0.69)</text>
<line x1="59.20" y1="296.20" x2="59.20" y2="377.70" stroke="#7d96c6" stroke-width="0.8"/>
<rect x="47.90" y="326.30" width="22.10" height="27.20" fill="#7c88ba" fill-opacity="0.8"/>
<line x1="47.90" y1="336.50" x2="70.00" y2="336.50" stroke="#274f8e" stroke-width="1.5"/>
<line x1="103.50" y1="296.90" x2="103.50" y2="371.50" stroke="#d65a66" stroke-width="0.8"/>
<rect x="92.90" y="308.10" width="22.10" height="27.30" fill="#ec8a8a" fill-opacity="0.8"/>
<line x1="92.90" y1="325.80" x2="115.00" y2="325.80" stroke="#c42a3a" stroke-width="1.5"/>
<circle cx="64.20" cy="296.00" r="1.1" fill="#17366e"/>
<circle cx="59.20" cy="296.50" r="1.1" fill="#17366e"/>
<circle cx="49.60" cy="316.30" r="1.1" fill="#17366e"/>
<circle cx="59.20" cy="315.80" r="1.1" fill="#17366e"/>
<circle cx="63.70" cy="315.40" r="1.1" fill="#17366e"/>
<circle cx="69.00" cy="319.20" r="1.1" fill="#17366e"/>
<circle cx="56.90" cy="323.80" r="1.1" fill="#17366e"/>
<circle cx="59.20" cy="323.80" r="1.1" fill="#17366e"/>
<circle cx="54.40" cy="332.70" r="1.1" fill="#17366e"/>
<circle cx="59.40" cy="333.50" r="1.1" fill="#17366e"/>
<circle cx="74.20" cy="333.70" r="1.1" fill="#17366e"/>
<circle cx="75.60" cy="334.00" r="1.1" fill="#17366e"/>
<circle cx="59.40" cy="337.30" r="1.1" fill="#17366e"/>
<circle cx="59.40" cy="340.80" r="1.1" fill="#17366e"/>
<circle cx="62.30" cy="340.80" r="1.1" fill="#17366e"/>
<circle cx="75.80" cy="346.50" r="1.1" fill="#17366e"/>
<circle cx="59.20" cy="346.90" r="1.1" fill="#17366e"/>
<circle cx="59.20" cy="350.00" r="1.1" fill="#17366e"/>
<circle cx="66.50" cy="350.00" r="1.1" fill="#17366e"/>
<circle cx="73.30" cy="354.60" r="1.1" fill="#17366e"/>
<circle cx="73.70" cy="361.90" r="1.1" fill="#17366e"/>
<circle cx="50.20" cy="363.80" r="1.1" fill="#17366e"/>
<circle cx="59.20" cy="361.90" r="1.1" fill="#17366e"/>
<circle cx="59.20" cy="363.80" r="1.1" fill="#17366e"/>
<circle cx="59.20" cy="375.40" r="1.1" fill="#17366e"/>
<circle cx="60.80" cy="377.00" r="1.1" fill="#17366e"/>
<circle cx="62.30" cy="375.40" r="1.1" fill="#17366e"/>
<circle cx="58.80" cy="377.70" r="1.1" fill="#17366e"/>
<circle cx="119.00" cy="297.50" r="1.1" fill="#b8192c"/>
<circle cx="103.50" cy="297.50" r="1.1" fill="#b8192c"/>
<circle cx="116.00" cy="304.20" r="1.1" fill="#b8192c"/>
<circle cx="104.40" cy="306.20" r="1.1" fill="#b8192c"/>
<circle cx="105.60" cy="306.20" r="1.1" fill="#b8192c"/>
<circle cx="116.00" cy="308.10" r="1.1" fill="#b8192c"/>
<circle cx="96.90" cy="318.70" r="1.1" fill="#b8192c"/>
<circle cx="103.70" cy="318.70" r="1.1" fill="#b8192c"/>
<circle cx="104.00" cy="325.40" r="1.1" fill="#b8192c"/>
<circle cx="107.90" cy="326.90" r="1.1" fill="#b8192c"/>
<circle cx="112.10" cy="325.00" r="1.1" fill="#b8192c"/>
<circle cx="96.90" cy="330.20" r="1.1" fill="#b8192c"/>
<circle cx="103.70" cy="332.10" r="1.1" fill="#b8192c"/>
<circle cx="107.90" cy="332.10" r="1.1" fill="#b8192c"/>
<circle cx="111.70" cy="343.70" r="1.1" fill="#b8192c"/>
<circle cx="103.50" cy="343.70" r="1.1" fill="#b8192c"/>
<circle cx="103.50" cy="353.30" r="1.1" fill="#b8192c"/>
<circle cx="103.70" cy="371.50" r="1.1" fill="#b8192c"/>
<circle cx="112.10" cy="371.50" r="1.1" fill="#b8192c"/>
<line x1="34.40" y1="289.50" x2="34.40" y2="381.40" stroke="#222" stroke-width="0.8"/>
<line x1="34.00" y1="381.40" x2="131.00" y2="381.40" stroke="#222" stroke-width="0.8"/>
<line x1="32.30" y1="292.40" x2="34.40" y2="292.40" stroke="#333" stroke-width="0.6"/>
<text x="28.70" y="294.50" font-size="5.9" text-anchor="end" fill="#444">0.9</text>
<line x1="32.30" y1="317.00" x2="34.40" y2="317.00" stroke="#333" stroke-width="0.6"/>
<text x="28.70" y="319.10" font-size="5.9" text-anchor="end" fill="#444">0.6</text>
<line x1="32.30" y1="340.60" x2="34.40" y2="340.60" stroke="#333" stroke-width="0.6"/>
<text x="28.70" y="342.70" font-size="5.9" text-anchor="end" fill="#444">0.3</text>
<line x1="32.30" y1="364.30" x2="34.40" y2="364.30" stroke="#333" stroke-width="0.6"/>
<text x="28.70" y="366.40" font-size="5.9" text-anchor="end" fill="#444">0.0</text>
<line x1="59.20" y1="381.40" x2="59.20" y2="383.40" stroke="#333" stroke-width="0.6"/>
<text x="59.20" y="392.40" font-size="5.6" text-anchor="middle" fill="#333">No</text>
<line x1="103.50" y1="381.40" x2="103.50" y2="383.40" stroke="#333" stroke-width="0.6"/>
<text x="103.50" y="392.40" font-size="5.6" text-anchor="middle" fill="#333">Yes</text>
<text x="15.7" y="335.75" font-size="8" font-weight="bold" text-anchor="middle" fill="#333" textLength="26.7" lengthAdjust="spacingAndGlyphs" transform="rotate(-90 15.7 335.75)">Predictions</text>
<text x="81.50" y="403.60" font-size="7.5" text-anchor="middle" font-weight="bold" fill="#333" textLength="49.10" lengthAdjust="spacingAndGlyphs">Neutropenic Day 36</text>
<text x="137.90" y="265.60" font-size="11.4" text-anchor="start" font-weight="bold" fill="#111">D</text>
<rect x="151.20" y="258.50" width="117.00" height="13.90" fill="#fdd98c" stroke="#6b6b60" stroke-width="0.9"/>
<text x="209.20" y="267.80" font-size="7.6" text-anchor="middle" textLength="45.80" lengthAdjust="spacingAndGlyphs">Veillonellacea</text>
<rect x="268.20" y="258.50" width="243.60" height="13.90" fill="#dcdcdc" stroke="#6b6b60" stroke-width="0.9"/>
<text x="389.40" y="267.80" font-size="7.6" text-anchor="middle" textLength="47.10" lengthAdjust="spacingAndGlyphs">Other families</text>
<rect x="6.00" y="413.40" width="262.20" height="14.10" fill="#d8dcc0" stroke="#6b6b60" stroke-width="0.9"/>
<text x="135.20" y="423.20" font-size="7.6" text-anchor="middle" textLength="58.80" lengthAdjust="spacingAndGlyphs">Ruminococcacea</text>
<rect x="268.20" y="413.40" width="243.60" height="14.10" fill="#dfe9f8" stroke="#6b6b60" stroke-width="0.9"/>
<text x="376.20" y="423.20" font-size="7.6" text-anchor="middle" textLength="53.50" lengthAdjust="spacingAndGlyphs">Lachnosipracea</text>
<text x="218.50" y="296.50" font-size="7.6" text-anchor="middle" textLength="33.50" lengthAdjust="spacingAndGlyphs">Veillonella</text>
<line x1="197.70" y1="325.00" x2="197.70" y2="376.75" stroke="#7d96c6" stroke-width="0.8"/>
<rect x="187.50" y="346.25" width="20.50" height="23.25" fill="#7c88ba" fill-opacity="0.8"/>
<line x1="187.50" y1="357.50" x2="208.00" y2="357.50" stroke="#274f8e" stroke-width="1.4"/>
<circle cx="197.70" cy="325.00" r="0.9" fill="#17366e"/>
<circle cx="197.70" cy="335.00" r="0.9" fill="#17366e"/>
<circle cx="197.70" cy="346.50" r="0.9" fill="#17366e"/>
<circle cx="197.70" cy="357.00" r="0.9" fill="#17366e"/>
<circle cx="197.70" cy="360.00" r="0.9" fill="#17366e"/>
<circle cx="197.70" cy="369.50" r="0.9" fill="#17366e"/>
<circle cx="197.70" cy="376.60" r="0.9" fill="#17366e"/>
<line x1="239.70" y1="364.50" x2="239.70" y2="376.75" stroke="#dd6a74" stroke-width="0.8"/>
<rect x="229.50" y="370.75" width="20.50" height="6.00" fill="#ec8a8a" fill-opacity="0.8"/>
<line x1="229.50" y1="376.25" x2="250.00" y2="376.25" stroke="#c42a3a" stroke-width="1.4"/>
<circle cx="239.70" cy="364.50" r="0.9" fill="#b8192c"/>
<text x="197.50" y="307.60" font-size="6.2" fill="#333" textLength="35.00" lengthAdjust="spacingAndGlyphs">• <tspan font-style="italic">P</tspan> = .02/*.09</text>
<line x1="174.30" y1="301.20" x2="174.30" y2="380.00" stroke="#222" stroke-width="0.8"/>
<line x1="173.90" y1="380.00" x2="253.80" y2="380.00" stroke="#222" stroke-width="0.8"/>
<line x1="171.30" y1="305.00" x2="174.30" y2="305.00" stroke="#333" stroke-width="0.7"/>
<text x="168.40" y="307.00" font-size="6.0" text-anchor="end" fill="#3a3a3a">0.3</text>
<line x1="171.30" y1="316.75" x2="174.30" y2="316.75" stroke="#333" stroke-width="0.7"/>
<text x="168.40" y="318.75" font-size="6.0" text-anchor="end" fill="#3a3a3a">0.1</text>
<line x1="171.30" y1="328.00" x2="174.30" y2="328.00" stroke="#333" stroke-width="0.7"/>
<text x="168.40" y="330.00" font-size="6.0" text-anchor="end" fill="#3a3a3a">0.03</text>
<line x1="171.30" y1="339.50" x2="174.30" y2="339.50" stroke="#333" stroke-width="0.7"/>
<text x="168.40" y="341.50" font-size="6.0" text-anchor="end" fill="#3a3a3a">0.01</text>
<line x1="171.30" y1="350.75" x2="174.30" y2="350.75" stroke="#333" stroke-width="0.7"/>
<text x="168.40" y="352.75" font-size="6.0" text-anchor="end" fill="#3a3a3a">0.003</text>
<line x1="171.30" y1="362.50" x2="174.30" y2="362.50" stroke="#333" stroke-width="0.7"/>
<text x="168.40" y="364.50" font-size="6.0" text-anchor="end" fill="#3a3a3a">0.001</text>
<line x1="171.30" y1="374.25" x2="174.30" y2="374.25" stroke="#333" stroke-width="0.7"/>
<text x="168.40" y="376.25" font-size="6.0" text-anchor="end" fill="#3a3a3a">3e−04</text>
<line x1="197.70" y1="380.00" x2="197.70" y2="382.00" stroke="#333" stroke-width="0.6"/>
<text x="197.70" y="391.10" font-size="5.6" text-anchor="middle" fill="#333">No</text>
<line x1="239.70" y1="380.00" x2="239.70" y2="382.00" stroke="#333" stroke-width="0.6"/>
<text x="239.70" y="391.10" font-size="5.6" text-anchor="middle" fill="#333">Yes</text>
<text x="218.50" y="402.30" font-size="7.6" text-anchor="middle" font-weight="bold" fill="#333" textLength="55.60" lengthAdjust="spacingAndGlyphs">Neutropenia on day 36</text>
<text x="146.70" y="338.90" font-size="7.6" font-weight="bold" text-anchor="middle" fill="#333" textLength="45.40" lengthAdjust="spacingAndGlyphs" transform="rotate(-90 146.70 338.90)">Relative abundance</text>
<text x="320.20" y="286.90" font-size="7.6" text-anchor="middle" textLength="66.60" lengthAdjust="spacingAndGlyphs">Erysipelotrichaceae</text>
<text x="320.40" y="296.50" font-size="7.6" text-anchor="middle" textLength="37.70" lengthAdjust="spacingAndGlyphs">UCG−003</text>
<line x1="308.60" y1="305.60" x2="308.60" y2="376.50" stroke="#7d96c6" stroke-width="0.8"/>
<rect x="302.50" y="330.80" width="12.30" height="27.60" fill="#7c88ba" fill-opacity="0.8"/>
<line x1="302.50" y1="351.00" x2="314.80" y2="351.00" stroke="#274f8e" stroke-width="1.4"/>
<circle cx="308.60" cy="305.60" r="0.9" fill="#17366e"/>
<circle cx="308.60" cy="309.00" r="0.9" fill="#17366e"/>
<circle cx="308.60" cy="312.00" r="0.9" fill="#17366e"/>
<circle cx="308.60" cy="333.00" r="0.9" fill="#17366e"/>
<circle cx="308.60" cy="337.50" r="0.9" fill="#17366e"/>
<circle cx="308.60" cy="352.00" r="0.9" fill="#17366e"/>
<circle cx="308.60" cy="358.00" r="0.9" fill="#17366e"/>
<circle cx="308.60" cy="376.50" r="0.9" fill="#17366e"/>
<line x1="332.50" y1="342.70" x2="332.50" y2="376.30" stroke="#dd6a74" stroke-width="0.8"/>
<rect x="326.70" y="355.50" width="11.60" height="16.00" fill="#ec8a8a" fill-opacity="0.8"/>
<line x1="326.70" y1="368.00" x2="338.30" y2="368.00" stroke="#c42a3a" stroke-width="1.4"/>
<circle cx="332.50" cy="342.70" r="0.9" fill="#b8192c"/>
<circle cx="332.50" cy="368.00" r="0.9" fill="#b8192c"/>
<circle cx="332.50" cy="376.30" r="0.9" fill="#b8192c"/>
<text x="301.70" y="307.40" font-size="6.2" fill="#333" textLength="32.50" lengthAdjust="spacingAndGlyphs"><tspan font-style="italic">P</tspan> = .03/*.09</text>
<line x1="295.70" y1="302.00" x2="295.70" y2="379.90" stroke="#222" stroke-width="0.8"/>
<line x1="295.30" y1="379.90" x2="344.70" y2="379.90" stroke="#222" stroke-width="0.8"/>
<line x1="292.70" y1="304.70" x2="295.70" y2="304.70" stroke="#333" stroke-width="0.7"/>
<text x="289.80" y="306.70" font-size="6.0" text-anchor="end" fill="#3a3a3a">0.03</text>
<line x1="292.70" y1="318.10" x2="295.70" y2="318.10" stroke="#333" stroke-width="0.7"/>
<text x="289.80" y="320.10" font-size="6.0" text-anchor="end" fill="#3a3a3a">0.01</text>
<line x1="292.70" y1="333.10" x2="295.70" y2="333.10" stroke="#333" stroke-width="0.7"/>
<text x="289.80" y="335.10" font-size="6.0" text-anchor="end" fill="#3a3a3a">0.003</text>
<line x1="292.70" y1="346.50" x2="295.70" y2="346.50" stroke="#333" stroke-width="0.7"/>
<text x="289.80" y="348.50" font-size="6.0" text-anchor="end" fill="#3a3a3a">0.001</text>
<line x1="292.70" y1="360.70" x2="295.70" y2="360.70" stroke="#333" stroke-width="0.7"/>
<text x="289.80" y="362.70" font-size="6.0" text-anchor="end" fill="#3a3a3a">3e−04</text>
<line x1="308.60" y1="379.90" x2="308.60" y2="381.90" stroke="#333" stroke-width="0.6"/>
<text x="308.60" y="391.00" font-size="5.6" text-anchor="middle" fill="#333">No</text>
<line x1="332.50" y1="379.90" x2="332.50" y2="381.90" stroke="#333" stroke-width="0.6"/>
<text x="332.50" y="391.00" font-size="5.6" text-anchor="middle" fill="#333">Yes</text>
<text x="320.20" y="402.20" font-size="7.6" text-anchor="middle" font-weight="bold" fill="#333" textLength="55.60" lengthAdjust="spacingAndGlyphs">Neutropenia on day 36</text>
<text x="402.75" y="296.50" font-size="7.6" text-anchor="middle" textLength="34.50" lengthAdjust="spacingAndGlyphs">Collinsella</text>
<line x1="390.70" y1="321.20" x2="390.70" y2="376.60" stroke="#7d96c6" stroke-width="0.8"/>
<rect x="384.60" y="332.70" width="12.20" height="37.10" fill="#7c88ba" fill-opacity="0.8"/>
<line x1="384.60" y1="338.00" x2="396.80" y2="338.00" stroke="#274f8e" stroke-width="1.4"/>
<circle cx="390.70" cy="321.20" r="0.9" fill="#17366e"/>
<circle cx="390.70" cy="324.00" r="0.9" fill="#17366e"/>
<circle cx="390.70" cy="332.00" r="0.9" fill="#17366e"/>
<circle cx="390.70" cy="333.60" r="0.9" fill="#17366e"/>
<circle cx="390.70" cy="341.00" r="0.9" fill="#17366e"/>
<circle cx="390.70" cy="350.00" r="0.9" fill="#17366e"/>
<circle cx="390.70" cy="369.80" r="0.9" fill="#17366e"/>
<circle cx="390.70" cy="376.60" r="0.9" fill="#17366e"/>
<line x1="414.90" y1="342.00" x2="414.90" y2="376.60" stroke="#dd6a74" stroke-width="0.8"/>
<rect x="408.50" y="342.00" width="12.80" height="16.80" fill="#ec8a8a" fill-opacity="0.8"/>
<line x1="408.50" y1="342.00" x2="421.30" y2="342.00" stroke="#c42a3a" stroke-width="1.4"/>
<circle cx="414.90" cy="342.00" r="0.9" fill="#b8192c"/>
<circle cx="414.90" cy="376.60" r="0.9" fill="#b8192c"/>
<text x="384.60" y="307.40" font-size="6.2" fill="#333" textLength="32.40" lengthAdjust="spacingAndGlyphs"><tspan font-style="italic">P</tspan> = .04/*.09</text>
<line x1="378.10" y1="302.00" x2="378.10" y2="380.00" stroke="#222" stroke-width="0.8"/>
<line x1="377.70" y1="380.00" x2="427.70" y2="380.00" stroke="#222" stroke-width="0.8"/>
<line x1="375.10" y1="303.90" x2="378.10" y2="303.90" stroke="#333" stroke-width="0.7"/>
<text x="372.20" y="305.90" font-size="6.0" text-anchor="end" fill="#3a3a3a">0.3</text>
<line x1="375.10" y1="314.70" x2="378.10" y2="314.70" stroke="#333" stroke-width="0.7"/>
<text x="372.20" y="316.70" font-size="6.0" text-anchor="end" fill="#3a3a3a">0.1</text>
<line x1="375.10" y1="324.80" x2="378.10" y2="324.80" stroke="#333" stroke-width="0.7"/>
<text x="372.20" y="326.80" font-size="6.0" text-anchor="end" fill="#3a3a3a">0.03</text>
<line x1="375.10" y1="335.10" x2="378.10" y2="335.10" stroke="#333" stroke-width="0.7"/>
<text x="372.20" y="337.10" font-size="6.0" text-anchor="end" fill="#3a3a3a">0.01</text>
<line x1="375.10" y1="345.10" x2="378.10" y2="345.10" stroke="#333" stroke-width="0.7"/>
<text x="372.20" y="347.10" font-size="6.0" text-anchor="end" fill="#3a3a3a">0.003</text>
<line x1="375.10" y1="355.50" x2="378.10" y2="355.50" stroke="#333" stroke-width="0.7"/>
<text x="372.20" y="357.50" font-size="6.0" text-anchor="end" fill="#3a3a3a">0.001</text>
<line x1="375.10" y1="366.20" x2="378.10" y2="366.20" stroke="#333" stroke-width="0.7"/>
<text x="372.20" y="368.20" font-size="6.0" text-anchor="end" fill="#3a3a3a">3e−04</text>
<line x1="390.70" y1="380.00" x2="390.70" y2="382.00" stroke="#333" stroke-width="0.6"/>
<text x="390.70" y="391.10" font-size="5.6" text-anchor="middle" fill="#333">No</text>
<line x1="414.90" y1="380.00" x2="414.90" y2="382.00" stroke="#333" stroke-width="0.6"/>
<text x="414.90" y="391.10" font-size="5.6" text-anchor="middle" fill="#333">Yes</text>
<text x="402.75" y="402.30" font-size="7.6" text-anchor="middle" font-weight="bold" fill="#333" textLength="55.60" lengthAdjust="spacingAndGlyphs">Neutropenia on day 36</text>
<text x="485.00" y="296.50" font-size="7.6" text-anchor="middle" textLength="32.50" lengthAdjust="spacingAndGlyphs">Sutterella</text>
<line x1="472.40" y1="314.70" x2="472.40" y2="376.60" stroke="#7d96c6" stroke-width="0.8"/>
<rect x="466.40" y="318.80" width="12.00" height="40.70" fill="#7c88ba" fill-opacity="0.8"/>
<line x1="466.40" y1="347.50" x2="478.40" y2="347.50" stroke="#274f8e" stroke-width="1.4"/>
<circle cx="472.40" cy="315.00" r="0.9" fill="#17366e"/>
<circle cx="472.40" cy="317.00" r="0.9" fill="#17366e"/>
<circle cx="472.40" cy="323.00" r="0.9" fill="#17366e"/>
<circle cx="472.40" cy="329.50" r="0.9" fill="#17366e"/>
<circle cx="472.40" cy="351.60" r="0.9" fill="#17366e"/>
<circle cx="472.40" cy="361.00" r="0.9" fill="#17366e"/>
<circle cx="472.40" cy="365.00" r="0.9" fill="#17366e"/>
<circle cx="472.40" cy="370.00" r="0.9" fill="#17366e"/>
<circle cx="472.40" cy="376.60" r="0.9" fill="#17366e"/>
<line x1="490.80" y1="376.60" x2="503.50" y2="376.60" stroke="#c42a3a" stroke-width="1.4"/>
<text x="466.40" y="307.40" font-size="6.2" fill="#333" textLength="32.30" lengthAdjust="spacingAndGlyphs"><tspan font-style="italic">P</tspan> = .05/*.09</text>
<line x1="459.20" y1="302.00" x2="459.20" y2="380.20" stroke="#222" stroke-width="0.8"/>
<line x1="458.80" y1="380.20" x2="509.50" y2="380.20" stroke="#222" stroke-width="0.8"/>
<line x1="456.20" y1="303.70" x2="459.20" y2="303.70" stroke="#333" stroke-width="0.7"/>
<text x="453.30" y="305.70" font-size="6.0" text-anchor="end" fill="#3a3a3a">0.3</text>
<line x1="456.20" y1="319.50" x2="459.20" y2="319.50" stroke="#333" stroke-width="0.7"/>
<text x="453.30" y="321.50" font-size="6.0" text-anchor="end" fill="#3a3a3a">0.1</text>
<line x1="456.20" y1="336.30" x2="459.20" y2="336.30" stroke="#333" stroke-width="0.7"/>
<text x="453.30" y="338.30" font-size="6.0" text-anchor="end" fill="#3a3a3a">0.03</text>
<line x1="456.20" y1="351.60" x2="459.20" y2="351.60" stroke="#333" stroke-width="0.7"/>
<text x="453.30" y="353.60" font-size="6.0" text-anchor="end" fill="#3a3a3a">0.01</text>
<line x1="456.20" y1="368.40" x2="459.20" y2="368.40" stroke="#333" stroke-width="0.7"/>
<text x="453.30" y="370.40" font-size="6.0" text-anchor="end" fill="#3a3a3a">0.003</text>
<line x1="472.40" y1="380.20" x2="472.40" y2="382.20" stroke="#333" stroke-width="0.6"/>
<text x="472.40" y="391.30" font-size="5.6" text-anchor="middle" fill="#333">No</text>
<line x1="497.00" y1="380.20" x2="497.00" y2="382.20" stroke="#333" stroke-width="0.6"/>
<text x="497.00" y="391.30" font-size="5.6" text-anchor="middle" fill="#333">Yes</text>
<text x="485.00" y="402.50" font-size="7.6" text-anchor="middle" font-weight="bold" fill="#333" textLength="55.60" lengthAdjust="spacingAndGlyphs">Neutropenia on day 36</text>
<text x="68.50" y="439.50" font-size="7.6" text-anchor="middle" textLength="63.10" lengthAdjust="spacingAndGlyphs">Ruminococcaceae</text>
<text x="68.50" y="448.80" font-size="7.6" text-anchor="middle" textLength="36.90" lengthAdjust="spacingAndGlyphs">UCG−002</text>
<line x1="55.40" y1="457.20" x2="55.40" y2="528.60" stroke="#7d96c6" stroke-width="0.8"/>
<rect x="48.65" y="487.20" width="13.45" height="31.80" fill="#7c88ba" fill-opacity="0.8"/>
<line x1="48.65" y1="507.00" x2="62.10" y2="507.00" stroke="#274f8e" stroke-width="1.4"/>
<circle cx="55.40" cy="457.20" r="0.9" fill="#17366e"/>
<circle cx="55.40" cy="468.40" r="0.9" fill="#17366e"/>
<circle cx="55.40" cy="479.60" r="0.9" fill="#17366e"/>
<circle cx="55.40" cy="487.20" r="0.9" fill="#17366e"/>
<circle cx="55.40" cy="494.00" r="0.9" fill="#17366e"/>
<circle cx="55.40" cy="504.30" r="0.9" fill="#17366e"/>
<circle cx="55.40" cy="510.40" r="0.9" fill="#17366e"/>
<circle cx="55.40" cy="518.70" r="0.9" fill="#17366e"/>
<circle cx="55.40" cy="528.60" r="0.9" fill="#17366e"/>
<line x1="75.30" y1="528.60" x2="88.60" y2="528.60" stroke="#c42a3a" stroke-width="1.4"/>
<text x="58.70" y="460.60" font-size="6.2" fill="#333" textLength="32.00" lengthAdjust="spacingAndGlyphs"><tspan font-style="italic">P</tspan> = .02/*.09</text>
<line x1="41.00" y1="454.00" x2="41.00" y2="532.30" stroke="#222" stroke-width="0.8"/>
<line x1="40.60" y1="532.30" x2="88.50" y2="532.30" stroke="#222" stroke-width="0.8"/>
<line x1="38.00" y1="458.30" x2="41.00" y2="458.30" stroke="#333" stroke-width="0.7"/>
<text x="35.10" y="460.30" font-size="6.0" text-anchor="end" fill="#3a3a3a">0.1</text>
<line x1="38.00" y1="475.10" x2="41.00" y2="475.10" stroke="#333" stroke-width="0.7"/>
<text x="35.10" y="477.10" font-size="6.0" text-anchor="end" fill="#3a3a3a">0.03</text>
<line x1="38.00" y1="490.40" x2="41.00" y2="490.40" stroke="#333" stroke-width="0.7"/>
<text x="35.10" y="492.40" font-size="6.0" text-anchor="end" fill="#3a3a3a">0.01</text>
<line x1="38.00" y1="506.90" x2="41.00" y2="506.90" stroke="#333" stroke-width="0.7"/>
<text x="35.10" y="508.90" font-size="6.0" text-anchor="end" fill="#3a3a3a">0.003</text>
<line x1="38.00" y1="522.40" x2="41.00" y2="522.40" stroke="#333" stroke-width="0.7"/>
<text x="35.10" y="524.40" font-size="6.0" text-anchor="end" fill="#3a3a3a">0.001</text>
<line x1="55.40" y1="532.30" x2="55.40" y2="534.30" stroke="#333" stroke-width="0.6"/>
<text x="55.40" y="543.40" font-size="5.6" text-anchor="middle" fill="#333">No</text>
<line x1="81.90" y1="532.30" x2="81.90" y2="534.30" stroke="#333" stroke-width="0.6"/>
<text x="81.90" y="543.40" font-size="5.6" text-anchor="middle" fill="#333">Yes</text>
<text x="68.50" y="554.60" font-size="7.6" text-anchor="middle" font-weight="bold" fill="#333" textLength="55.60" lengthAdjust="spacingAndGlyphs">Neutropenia on day 36</text>
<text x="15.70" y="493.00" font-size="7.6" font-weight="bold" text-anchor="middle" fill="#333" textLength="47.30" lengthAdjust="spacingAndGlyphs" transform="rotate(-90 15.70 493.00)">Relative abundance</text>
<text x="153.10" y="439.50" font-size="7.6" text-anchor="middle" textLength="63.50" lengthAdjust="spacingAndGlyphs">Ruminococcaceae</text>
<text x="153.20" y="448.80" font-size="7.6" text-anchor="middle" textLength="37.20" lengthAdjust="spacingAndGlyphs">UCG−004</text>
<line x1="140.80" y1="462.60" x2="140.80" y2="528.50" stroke="#7d96c6" stroke-width="0.8"/>
<rect x="134.20" y="493.50" width="12.70" height="35.00" fill="#7c88ba" fill-opacity="0.8"/>
<line x1="134.20" y1="505.70" x2="146.90" y2="505.70" stroke="#274f8e" stroke-width="1.4"/>
<circle cx="140.80" cy="462.90" r="0.9" fill="#17366e"/>
<circle cx="140.80" cy="475.00" r="0.9" fill="#17366e"/>
<circle cx="140.80" cy="483.00" r="0.9" fill="#17366e"/>
<circle cx="140.80" cy="497.00" r="0.9" fill="#17366e"/>
<circle cx="140.80" cy="501.00" r="0.9" fill="#17366e"/>
<circle cx="140.80" cy="517.00" r="0.9" fill="#17366e"/>
<circle cx="140.80" cy="528.60" r="0.9" fill="#17366e"/>
<line x1="166.50" y1="491.80" x2="166.50" y2="528.50" stroke="#dd6a74" stroke-width="0.8"/>
<rect x="160.00" y="510.80" width="12.60" height="17.70" fill="#ec8a8a" fill-opacity="0.8"/>
<line x1="160.00" y1="528.20" x2="172.60" y2="528.20" stroke="#c42a3a" stroke-width="1.4"/>
<circle cx="166.50" cy="492.60" r="0.9" fill="#b8192c"/>
<circle cx="166.50" cy="528.10" r="0.9" fill="#b8192c"/>
<text x="135.70" y="459.40" font-size="6.2" fill="#333" textLength="32.00" lengthAdjust="spacingAndGlyphs"><tspan font-style="italic">P</tspan> = .05/*.09</text>
<line x1="127.30" y1="454.50" x2="127.30" y2="532.30" stroke="#222" stroke-width="0.8"/>
<line x1="126.90" y1="532.30" x2="178.00" y2="532.30" stroke="#222" stroke-width="0.8"/>
<line x1="124.30" y1="474.30" x2="127.30" y2="474.30" stroke="#333" stroke-width="0.7"/>
<text x="121.40" y="476.30" font-size="6.0" text-anchor="end" fill="#3a3a3a">0.003</text>
<line x1="124.30" y1="493.10" x2="127.30" y2="493.10" stroke="#333" stroke-width="0.7"/>
<text x="121.40" y="495.10" font-size="6.0" text-anchor="end" fill="#3a3a3a">0.001</text>
<line x1="124.30" y1="513.30" x2="127.30" y2="513.30" stroke="#333" stroke-width="0.7"/>
<text x="121.40" y="515.30" font-size="6.0" text-anchor="end" fill="#3a3a3a">3e−04</text>
<line x1="140.80" y1="532.30" x2="140.80" y2="534.30" stroke="#333" stroke-width="0.6"/>
<text x="140.80" y="543.40" font-size="5.6" text-anchor="middle" fill="#333">No</text>
<line x1="166.50" y1="532.30" x2="166.50" y2="534.30" stroke="#333" stroke-width="0.6"/>
<text x="166.50" y="543.40" font-size="5.6" text-anchor="middle" fill="#333">Yes</text>
<text x="153.10" y="554.60" font-size="7.6" text-anchor="middle" font-weight="bold" fill="#333" textLength="55.60" lengthAdjust="spacingAndGlyphs">Neutropenia on day 36</text>
<text x="238.80" y="448.60" font-size="7.6" text-anchor="middle" textLength="57.70" lengthAdjust="spacingAndGlyphs">Subdoligranulum</text>
<line x1="225.70" y1="474.20" x2="225.70" y2="529.30" stroke="#7d96c6" stroke-width="0.8"/>
<rect x="219.50" y="492.60" width="12.50" height="25.90" fill="#7c88ba" fill-opacity="0.8"/>
<line x1="219.50" y1="504.60" x2="232.00" y2="504.60" stroke="#274f8e" stroke-width="1.4"/>
<circle cx="225.70" cy="474.20" r="0.9" fill="#17366e"/>
<circle cx="225.70" cy="478.00" r="0.9" fill="#17366e"/>
<circle cx="225.70" cy="484.00" r="0.9" fill="#17366e"/>
<circle cx="225.70" cy="488.00" r="0.9" fill="#17366e"/>
<circle cx="225.70" cy="493.00" r="0.9" fill="#17366e"/>
<circle cx="225.70" cy="498.00" r="0.9" fill="#17366e"/>
<circle cx="225.70" cy="502.00" r="0.9" fill="#17366e"/>
<circle cx="225.70" cy="507.00" r="0.9" fill="#17366e"/>
<circle cx="225.70" cy="511.00" r="0.9" fill="#17366e"/>
<circle cx="225.70" cy="515.00" r="0.9" fill="#17366e"/>
<circle cx="225.70" cy="520.00" r="0.9" fill="#17366e"/>
<circle cx="225.70" cy="524.00" r="0.9" fill="#17366e"/>
<circle cx="225.70" cy="529.00" r="0.9" fill="#17366e"/>
<line x1="251.50" y1="456.90" x2="251.50" y2="528.60" stroke="#dd6a74" stroke-width="0.8"/>
<rect x="245.10" y="481.40" width="12.80" height="34.70" fill="#ec8a8a" fill-opacity="0.8"/>
<line x1="245.10" y1="503.70" x2="257.90" y2="503.70" stroke="#c42a3a" stroke-width="1.4"/>
<circle cx="251.50" cy="456.90" r="0.9" fill="#b8192c"/>
<circle cx="251.50" cy="528.60" r="0.9" fill="#b8192c"/>
<text x="216.40" y="461.30" font-size="6.2" fill="#333" textLength="31.90" lengthAdjust="spacingAndGlyphs"><tspan font-style="italic">P</tspan> = .03/*.09</text>
<line x1="212.10" y1="454.50" x2="212.10" y2="532.30" stroke="#222" stroke-width="0.8"/>
<line x1="211.70" y1="532.30" x2="265.50" y2="532.30" stroke="#222" stroke-width="0.8"/>
<line x1="209.10" y1="461.70" x2="212.10" y2="461.70" stroke="#333" stroke-width="0.7"/>
<text x="206.20" y="463.70" font-size="6.0" text-anchor="end" fill="#3a3a3a">0.3</text>
<line x1="209.10" y1="472.30" x2="212.10" y2="472.30" stroke="#333" stroke-width="0.7"/>
<text x="206.20" y="474.30" font-size="6.0" text-anchor="end" fill="#3a3a3a">0.1</text>
<line x1="209.10" y1="483.30" x2="212.10" y2="483.30" stroke="#333" stroke-width="0.7"/>
<text x="206.20" y="485.30" font-size="6.0" text-anchor="end" fill="#3a3a3a">0.03</text>
<line x1="209.10" y1="493.90" x2="212.10" y2="493.90" stroke="#333" stroke-width="0.7"/>
<text x="206.20" y="495.90" font-size="6.0" text-anchor="end" fill="#3a3a3a">0.01</text>
<line x1="209.10" y1="505.00" x2="212.10" y2="505.00" stroke="#333" stroke-width="0.7"/>
<text x="206.20" y="507.00" font-size="6.0" text-anchor="end" fill="#3a3a3a">0.003</text>
<line x1="209.10" y1="515.30" x2="212.10" y2="515.30" stroke="#333" stroke-width="0.7"/>
<text x="206.20" y="517.30" font-size="6.0" text-anchor="end" fill="#3a3a3a">0.001</text>
<line x1="209.10" y1="526.30" x2="212.10" y2="526.30" stroke="#333" stroke-width="0.7"/>
<text x="206.20" y="528.30" font-size="6.0" text-anchor="end" fill="#3a3a3a">3e−04</text>
<line x1="225.70" y1="532.30" x2="225.70" y2="534.30" stroke="#333" stroke-width="0.6"/>
<text x="225.70" y="543.40" font-size="5.6" text-anchor="middle" fill="#333">No</text>
<line x1="251.50" y1="532.30" x2="251.50" y2="534.30" stroke="#333" stroke-width="0.6"/>
<text x="251.50" y="543.40" font-size="5.6" text-anchor="middle" fill="#333">Yes</text>
<text x="238.80" y="554.60" font-size="7.6" text-anchor="middle" font-weight="bold" fill="#333" textLength="55.60" lengthAdjust="spacingAndGlyphs">Neutropenia on day 36</text>
<text x="320.20" y="448.60" font-size="7.6" text-anchor="middle" textLength="52.80" lengthAdjust="spacingAndGlyphs">Coprococcus 1</text>
<line x1="308.00" y1="465.30" x2="308.00" y2="528.60" stroke="#7d96c6" stroke-width="0.8"/>
<rect x="301.60" y="489.30" width="12.70" height="39.30" fill="#7c88ba" fill-opacity="0.8"/>
<line x1="301.60" y1="513.20" x2="314.30" y2="513.20" stroke="#274f8e" stroke-width="1.4"/>
<circle cx="308.00" cy="465.30" r="0.9" fill="#17366e"/>
<circle cx="308.00" cy="471.00" r="0.9" fill="#17366e"/>
<circle cx="308.00" cy="478.00" r="0.9" fill="#17366e"/>
<circle cx="308.00" cy="489.50" r="0.9" fill="#17366e"/>
<circle cx="308.00" cy="496.00" r="0.9" fill="#17366e"/>
<circle cx="308.00" cy="517.00" r="0.9" fill="#17366e"/>
<circle cx="308.00" cy="528.60" r="0.9" fill="#17366e"/>
<line x1="327.20" y1="528.60" x2="339.90" y2="528.60" stroke="#c42a3a" stroke-width="1.4"/>
<text x="302.80" y="459.70" font-size="6.2" fill="#333" textLength="32.30" lengthAdjust="spacingAndGlyphs"><tspan font-style="italic">P</tspan> = .01/*.09</text>
<line x1="294.40" y1="454.50" x2="294.40" y2="532.30" stroke="#222" stroke-width="0.8"/>
<line x1="294.00" y1="532.30" x2="347.10" y2="532.30" stroke="#222" stroke-width="0.8"/>
<line x1="291.40" y1="476.10" x2="294.40" y2="476.10" stroke="#333" stroke-width="0.7"/>
<text x="288.50" y="478.10" font-size="6.0" text-anchor="end" fill="#3a3a3a">0.003</text>
<line x1="291.40" y1="497.40" x2="294.40" y2="497.40" stroke="#333" stroke-width="0.7"/>
<text x="288.50" y="499.40" font-size="6.0" text-anchor="end" fill="#3a3a3a">0.001</text>
<line x1="291.40" y1="521.60" x2="294.40" y2="521.60" stroke="#333" stroke-width="0.7"/>
<text x="288.50" y="523.60" font-size="6.0" text-anchor="end" fill="#3a3a3a">3e−04</text>
<line x1="308.00" y1="532.30" x2="308.00" y2="534.30" stroke="#333" stroke-width="0.6"/>
<text x="308.00" y="543.40" font-size="5.6" text-anchor="middle" fill="#333">No</text>
<line x1="333.00" y1="532.30" x2="333.00" y2="534.30" stroke="#333" stroke-width="0.6"/>
<text x="333.00" y="543.40" font-size="5.6" text-anchor="middle" fill="#333">Yes</text>
<text x="320.20" y="554.60" font-size="7.6" text-anchor="middle" font-weight="bold" fill="#333" textLength="55.60" lengthAdjust="spacingAndGlyphs">Neutropenia on day 36</text>
<text x="402.30" y="448.60" font-size="7.6" text-anchor="middle" textLength="20.50" lengthAdjust="spacingAndGlyphs">Dorea</text>
<line x1="389.60" y1="458.10" x2="389.60" y2="528.60" stroke="#7d96c6" stroke-width="0.8"/>
<rect x="383.40" y="472.50" width="12.40" height="56.10" fill="#7c88ba" fill-opacity="0.8"/>
<line x1="383.40" y1="493.30" x2="395.80" y2="493.30" stroke="#274f8e" stroke-width="1.4"/>
<circle cx="389.60" cy="458.10" r="0.9" fill="#17366e"/>
<circle cx="389.60" cy="470.00" r="0.9" fill="#17366e"/>
<circle cx="389.60" cy="473.00" r="0.9" fill="#17366e"/>
<circle cx="389.60" cy="477.00" r="0.9" fill="#17366e"/>
<circle cx="389.60" cy="502.00" r="0.9" fill="#17366e"/>
<circle cx="389.60" cy="516.00" r="0.9" fill="#17366e"/>
<circle cx="389.60" cy="528.60" r="0.9" fill="#17366e"/>
<line x1="415.00" y1="513.20" x2="415.00" y2="528.60" stroke="#dd6a74" stroke-width="0.8"/>
<rect x="408.50" y="521.40" width="13.20" height="7.20" fill="#ec8a8a" fill-opacity="0.8"/>
<line x1="408.50" y1="528.10" x2="421.70" y2="528.10" stroke="#c42a3a" stroke-width="1.4"/>
<circle cx="415.00" cy="513.20" r="0.9" fill="#b8192c"/>
<circle cx="415.00" cy="528.10" r="0.9" fill="#b8192c"/>
<text x="391.80" y="459.70" font-size="6.2" fill="#333" textLength="32.30" lengthAdjust="spacingAndGlyphs"><tspan font-style="italic">P</tspan> = .02/*.09</text>
<line x1="375.70" y1="454.50" x2="375.70" y2="532.30" stroke="#222" stroke-width="0.8"/>
<line x1="375.30" y1="532.30" x2="428.50" y2="532.30" stroke="#222" stroke-width="0.8"/>
<line x1="372.70" y1="474.90" x2="375.70" y2="474.90" stroke="#333" stroke-width="0.7"/>
<text x="369.80" y="476.90" font-size="6.0" text-anchor="end" fill="#3a3a3a">0.003</text>
<line x1="372.70" y1="493.80" x2="375.70" y2="493.80" stroke="#333" stroke-width="0.7"/>
<text x="369.80" y="495.80" font-size="6.0" text-anchor="end" fill="#3a3a3a">0.001</text>
<line x1="372.70" y1="515.60" x2="375.70" y2="515.60" stroke="#333" stroke-width="0.7"/>
<text x="369.80" y="517.60" font-size="6.0" text-anchor="end" fill="#3a3a3a">3e−04</text>
<line x1="389.60" y1="532.30" x2="389.60" y2="534.30" stroke="#333" stroke-width="0.6"/>
<text x="389.60" y="543.40" font-size="5.6" text-anchor="middle" fill="#333">No</text>
<line x1="415.00" y1="532.30" x2="415.00" y2="534.30" stroke="#333" stroke-width="0.6"/>
<text x="415.00" y="543.40" font-size="5.6" text-anchor="middle" fill="#333">Yes</text>
<text x="402.30" y="554.60" font-size="7.6" text-anchor="middle" font-weight="bold" fill="#333" textLength="55.60" lengthAdjust="spacingAndGlyphs">Neutropenia on day 36</text>
<text x="484.40" y="448.60" font-size="7.6" text-anchor="middle" textLength="34.70" lengthAdjust="spacingAndGlyphs">Roseburia</text>
<line x1="471.00" y1="463.40" x2="471.00" y2="528.60" stroke="#7d96c6" stroke-width="0.8"/>
<rect x="464.60" y="477.80" width="12.70" height="50.80" fill="#7c88ba" fill-opacity="0.8"/>
<line x1="464.60" y1="491.70" x2="477.30" y2="491.70" stroke="#274f8e" stroke-width="1.4"/>
<circle cx="471.00" cy="463.40" r="0.9" fill="#17366e"/>
<circle cx="471.00" cy="466.00" r="0.9" fill="#17366e"/>
<circle cx="471.00" cy="472.00" r="0.9" fill="#17366e"/>
<circle cx="471.00" cy="478.00" r="0.9" fill="#17366e"/>
<circle cx="471.00" cy="491.70" r="0.9" fill="#17366e"/>
<circle cx="471.00" cy="500.00" r="0.9" fill="#17366e"/>
<circle cx="471.00" cy="528.60" r="0.9" fill="#17366e"/>
<line x1="497.00" y1="519.70" x2="497.00" y2="529.30" stroke="#dd6a74" stroke-width="0.8"/>
<rect x="490.20" y="523.80" width="13.50" height="5.50" fill="#ec8a8a" fill-opacity="0.8"/>
<line x1="490.20" y1="528.10" x2="503.70" y2="528.10" stroke="#c42a3a" stroke-width="1.4"/>
<circle cx="497.00" cy="519.70" r="0.9" fill="#b8192c"/>
<circle cx="497.00" cy="528.10" r="0.9" fill="#b8192c"/>
<text x="464.60" y="459.70" font-size="6.2" fill="#333" textLength="32.40" lengthAdjust="spacingAndGlyphs"><tspan font-style="italic">P</tspan> = .03/*.09</text>
<line x1="457.70" y1="454.50" x2="457.70" y2="532.30" stroke="#222" stroke-width="0.8"/>
<line x1="457.30" y1="532.30" x2="510.10" y2="532.30" stroke="#222" stroke-width="0.8"/>
<line x1="454.70" y1="461.00" x2="457.70" y2="461.00" stroke="#333" stroke-width="0.7"/>
<text x="451.80" y="463.00" font-size="6.0" text-anchor="end" fill="#3a3a3a">0.03</text>
<line x1="454.70" y1="474.70" x2="457.70" y2="474.70" stroke="#333" stroke-width="0.7"/>
<text x="451.80" y="476.70" font-size="6.0" text-anchor="end" fill="#3a3a3a">0.01</text>
<line x1="454.70" y1="488.60" x2="457.70" y2="488.60" stroke="#333" stroke-width="0.7"/>
<text x="451.80" y="490.60" font-size="6.0" text-anchor="end" fill="#3a3a3a">0.003</text>
<line x1="454.70" y1="501.90" x2="457.70" y2="501.90" stroke="#333" stroke-width="0.7"/>
<text x="451.80" y="503.90" font-size="6.0" text-anchor="end" fill="#3a3a3a">0.001</text>
<line x1="454.70" y1="516.40" x2="457.70" y2="516.40" stroke="#333" stroke-width="0.7"/>
<text x="451.80" y="518.40" font-size="6.0" text-anchor="end" fill="#3a3a3a">3e−04</text>
<line x1="471.00" y1="532.30" x2="471.00" y2="534.30" stroke="#333" stroke-width="0.6"/>
<text x="471.00" y="543.40" font-size="5.6" text-anchor="middle" fill="#333">No</text>
<line x1="497.00" y1="532.30" x2="497.00" y2="534.30" stroke="#333" stroke-width="0.6"/>
<text x="497.00" y="543.40" font-size="5.6" text-anchor="middle" fill="#333">Yes</text>
<text x="484.40" y="554.60" font-size="7.6" text-anchor="middle" font-weight="bold" fill="#333" textLength="55.60" lengthAdjust="spacingAndGlyphs">Neutropenia on day 36</text>
<rect x="0.5" y="0.5" width="519" height="562" fill="none" stroke="#4a4a4a" stroke-width="1.2"/>
</svg>
</body></html>
